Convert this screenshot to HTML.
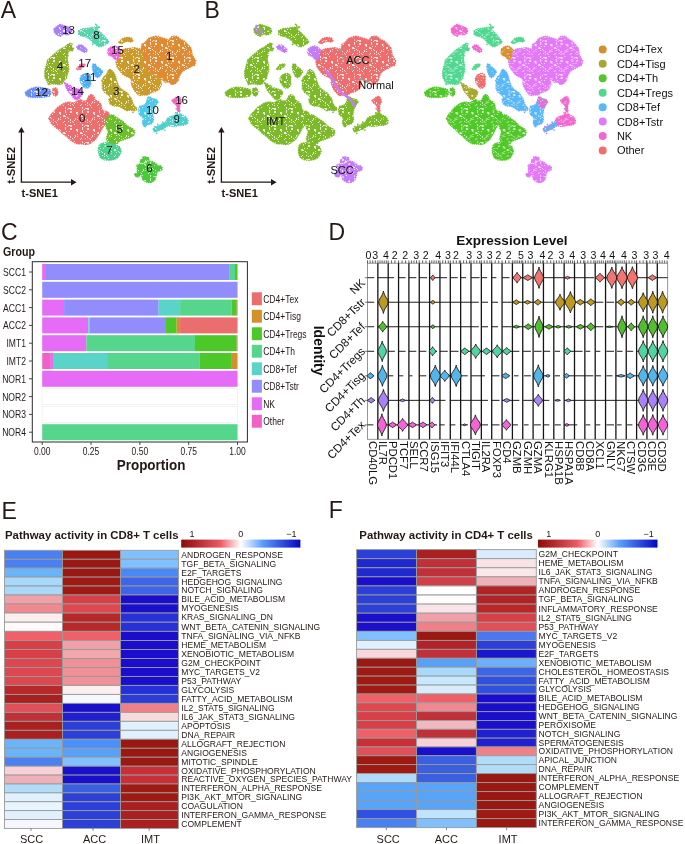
<!DOCTYPE html>
<html><head><meta charset="utf-8"><style>
html,body{margin:0;padding:0;background:#fff;}
body{width:685px;height:844px;overflow:hidden;}
svg{display:block;font-family:'Liberation Sans',sans-serif;will-change:transform;}
text{font-family:'Liberation Sans',sans-serif;}
</style></head><body>
<svg width="685" height="844" viewBox="0 0 685 844">
<rect width="685" height="844" fill="#FFFFFF"/>
<text x="0.80" y="18.10" font-size="23" text-anchor="start" fill="#231815" >A</text>
<text x="204.60" y="17.70" font-size="23" text-anchor="start" fill="#231815" >B</text>
<text x="0.90" y="239.50" font-size="23" text-anchor="start" fill="#231815" >C</text>
<text x="328.50" y="239.80" font-size="23" text-anchor="start" fill="#231815" >D</text>
<text x="1.60" y="518.60" font-size="23" text-anchor="start" fill="#231815" >E</text>
<text x="328.80" y="518.20" font-size="23" text-anchor="start" fill="#231815" >F</text>
<text x="5.00" y="538.80" font-size="10.5" text-anchor="start" font-weight="bold" fill="#231815" textLength="173.5" lengthAdjust="spacingAndGlyphs" >Pathway activity in CD8+ T cells</text>
<defs><linearGradient id="g4" x1="0" x2="1" y1="0" y2="0"><stop offset="0" stop-color="#8C0A0A"/><stop offset="0.33" stop-color="#EE5A64"/><stop offset="0.5" stop-color="#FFFFFF"/><stop offset="0.68" stop-color="#5CA0FA"/><stop offset="1" stop-color="#0606C0"/></linearGradient></defs>
<rect x="181.2" y="539.6" width="119.2" height="8" fill="url(#g4)"/>
<text x="191.93" y="536.60" font-size="9" text-anchor="middle" fill="#231815" >1</text>
<text x="240.80" y="536.60" font-size="9" text-anchor="middle" fill="#231815" >0</text>
<text x="291.46" y="536.60" font-size="9" text-anchor="middle" fill="#231815" >−1</text>
<rect x="4.50" y="550.30" width="57.97" height="8.93" fill="#4A80F0" stroke="#9A9A9A" stroke-width="0.9"/>
<rect x="62.47" y="550.30" width="57.97" height="8.93" fill="#9A1812" stroke="#9A9A9A" stroke-width="0.9"/>
<rect x="120.44" y="550.30" width="57.97" height="8.93" fill="#80C0FF" stroke="#9A9A9A" stroke-width="0.9"/>
<text x="181.30" y="557.70" font-size="8.56" text-anchor="start" fill="#231815" >ANDROGEN_RESPONSE</text>
<rect x="4.50" y="559.23" width="57.97" height="8.93" fill="#4A80F0" stroke="#9A9A9A" stroke-width="0.9"/>
<rect x="62.47" y="559.23" width="57.97" height="8.93" fill="#9A1812" stroke="#9A9A9A" stroke-width="0.9"/>
<rect x="120.44" y="559.23" width="57.97" height="8.93" fill="#80C0FF" stroke="#9A9A9A" stroke-width="0.9"/>
<text x="181.30" y="566.63" font-size="8.56" text-anchor="start" fill="#231815" >TGF_BETA_SIGNALING</text>
<rect x="4.50" y="568.17" width="57.97" height="8.93" fill="#6AB4FA" stroke="#9A9A9A" stroke-width="0.9"/>
<rect x="62.47" y="568.17" width="57.97" height="8.93" fill="#9A1812" stroke="#9A9A9A" stroke-width="0.9"/>
<rect x="120.44" y="568.17" width="57.97" height="8.93" fill="#4A88F8" stroke="#9A9A9A" stroke-width="0.9"/>
<text x="181.30" y="575.57" font-size="8.56" text-anchor="start" fill="#231815" >E2F_TARGETS</text>
<rect x="4.50" y="577.10" width="57.97" height="8.93" fill="#A8D8FA" stroke="#9A9A9A" stroke-width="0.9"/>
<rect x="62.47" y="577.10" width="57.97" height="8.93" fill="#9E1A14" stroke="#9A9A9A" stroke-width="0.9"/>
<rect x="120.44" y="577.10" width="57.97" height="8.93" fill="#3E64E8" stroke="#9A9A9A" stroke-width="0.9"/>
<text x="181.30" y="584.50" font-size="8.56" text-anchor="start" fill="#231815" >HEDGEHOG_SIGNALING</text>
<rect x="4.50" y="586.03" width="57.97" height="8.93" fill="#A8D8FA" stroke="#9A9A9A" stroke-width="0.9"/>
<rect x="62.47" y="586.03" width="57.97" height="8.93" fill="#9E1A14" stroke="#9A9A9A" stroke-width="0.9"/>
<rect x="120.44" y="586.03" width="57.97" height="8.93" fill="#3E64E8" stroke="#9A9A9A" stroke-width="0.9"/>
<text x="181.30" y="593.43" font-size="8.56" text-anchor="start" fill="#231815" >NOTCH_SIGNALING</text>
<rect x="4.50" y="594.97" width="57.97" height="8.93" fill="#F0A0A8" stroke="#9A9A9A" stroke-width="0.9"/>
<rect x="62.47" y="594.97" width="57.97" height="8.93" fill="#D84048" stroke="#9A9A9A" stroke-width="0.9"/>
<rect x="120.44" y="594.97" width="57.97" height="8.93" fill="#1A0ECC" stroke="#9A9A9A" stroke-width="0.9"/>
<text x="181.30" y="602.37" font-size="8.56" text-anchor="start" fill="#231815" >BILE_ACID_METABOLISM</text>
<rect x="4.50" y="603.90" width="57.97" height="9.15" fill="#F08890" stroke="#9A9A9A" stroke-width="0.9"/>
<rect x="62.47" y="603.90" width="57.97" height="9.15" fill="#E04850" stroke="#9A9A9A" stroke-width="0.9"/>
<rect x="120.44" y="603.90" width="57.97" height="9.15" fill="#1A10CC" stroke="#9A9A9A" stroke-width="0.9"/>
<text x="181.30" y="611.30" font-size="8.56" text-anchor="start" fill="#231815" >MYOGENESIS</text>
<rect x="4.50" y="613.05" width="57.97" height="9.15" fill="#FAEEEE" stroke="#9A9A9A" stroke-width="0.9"/>
<rect x="62.47" y="613.05" width="57.97" height="9.15" fill="#B8282A" stroke="#9A9A9A" stroke-width="0.9"/>
<rect x="120.44" y="613.05" width="57.97" height="9.15" fill="#2830D8" stroke="#9A9A9A" stroke-width="0.9"/>
<text x="181.30" y="620.45" font-size="8.56" text-anchor="start" fill="#231815" >KRAS_SIGNALING_DN</text>
<rect x="4.50" y="622.20" width="57.97" height="9.15" fill="#FEFAFA" stroke="#9A9A9A" stroke-width="0.9"/>
<rect x="62.47" y="622.20" width="57.97" height="9.15" fill="#B82828" stroke="#9A9A9A" stroke-width="0.9"/>
<rect x="120.44" y="622.20" width="57.97" height="9.15" fill="#2830D8" stroke="#9A9A9A" stroke-width="0.9"/>
<text x="181.30" y="629.60" font-size="8.56" text-anchor="start" fill="#231815" >WNT_BETA_CATENIN_SIGNALING</text>
<rect x="4.50" y="631.35" width="57.97" height="9.15" fill="#F06068" stroke="#9A9A9A" stroke-width="0.9"/>
<rect x="62.47" y="631.35" width="57.97" height="9.15" fill="#F06068" stroke="#9A9A9A" stroke-width="0.9"/>
<rect x="120.44" y="631.35" width="57.97" height="9.15" fill="#1A0ECC" stroke="#9A9A9A" stroke-width="0.9"/>
<text x="181.30" y="638.75" font-size="8.56" text-anchor="start" fill="#231815" >TNFA_SIGNALING_VIA_NFKB</text>
<rect x="4.50" y="640.50" width="57.97" height="8.98" fill="#D84048" stroke="#9A9A9A" stroke-width="0.9"/>
<rect x="62.47" y="640.50" width="57.97" height="8.98" fill="#F0A0A8" stroke="#9A9A9A" stroke-width="0.9"/>
<rect x="120.44" y="640.50" width="57.97" height="8.98" fill="#1A0ECC" stroke="#9A9A9A" stroke-width="0.9"/>
<text x="181.30" y="647.90" font-size="8.56" text-anchor="start" fill="#231815" >HEME_METABOLISM</text>
<rect x="4.50" y="649.48" width="57.97" height="8.98" fill="#D84048" stroke="#9A9A9A" stroke-width="0.9"/>
<rect x="62.47" y="649.48" width="57.97" height="8.98" fill="#F0A8AC" stroke="#9A9A9A" stroke-width="0.9"/>
<rect x="120.44" y="649.48" width="57.97" height="8.98" fill="#1A0ECC" stroke="#9A9A9A" stroke-width="0.9"/>
<text x="181.30" y="656.88" font-size="8.56" text-anchor="start" fill="#231815" >XENOBIOTIC_METABOLISM</text>
<rect x="4.50" y="658.47" width="57.97" height="8.98" fill="#DC4850" stroke="#9A9A9A" stroke-width="0.9"/>
<rect x="62.47" y="658.47" width="57.97" height="8.98" fill="#F09098" stroke="#9A9A9A" stroke-width="0.9"/>
<rect x="120.44" y="658.47" width="57.97" height="8.98" fill="#1A0ECC" stroke="#9A9A9A" stroke-width="0.9"/>
<text x="181.30" y="665.87" font-size="8.56" text-anchor="start" fill="#231815" >G2M_CHECKPOINT</text>
<rect x="4.50" y="667.45" width="57.97" height="8.98" fill="#DC4850" stroke="#9A9A9A" stroke-width="0.9"/>
<rect x="62.47" y="667.45" width="57.97" height="8.98" fill="#F09098" stroke="#9A9A9A" stroke-width="0.9"/>
<rect x="120.44" y="667.45" width="57.97" height="8.98" fill="#1A0ECC" stroke="#9A9A9A" stroke-width="0.9"/>
<text x="181.30" y="674.85" font-size="8.56" text-anchor="start" fill="#231815" >MYC_TARGETS_V2</text>
<rect x="4.50" y="676.43" width="57.97" height="8.98" fill="#DC4850" stroke="#9A9A9A" stroke-width="0.9"/>
<rect x="62.47" y="676.43" width="57.97" height="8.98" fill="#F09098" stroke="#9A9A9A" stroke-width="0.9"/>
<rect x="120.44" y="676.43" width="57.97" height="8.98" fill="#1A10CC" stroke="#9A9A9A" stroke-width="0.9"/>
<text x="181.30" y="683.83" font-size="8.56" text-anchor="start" fill="#231815" >P53_PATHWAY</text>
<rect x="4.50" y="685.42" width="57.97" height="8.98" fill="#B82828" stroke="#9A9A9A" stroke-width="0.9"/>
<rect x="62.47" y="685.42" width="57.97" height="8.98" fill="#FAF0F0" stroke="#9A9A9A" stroke-width="0.9"/>
<rect x="120.44" y="685.42" width="57.97" height="8.98" fill="#2430D8" stroke="#9A9A9A" stroke-width="0.9"/>
<text x="181.30" y="692.82" font-size="8.56" text-anchor="start" fill="#231815" >GLYCOLYSIS</text>
<rect x="4.50" y="694.40" width="57.97" height="8.98" fill="#A82020" stroke="#9A9A9A" stroke-width="0.9"/>
<rect x="62.47" y="694.40" width="57.97" height="8.98" fill="#F5F8FE" stroke="#9A9A9A" stroke-width="0.9"/>
<rect x="120.44" y="694.40" width="57.97" height="8.98" fill="#2C3CD8" stroke="#9A9A9A" stroke-width="0.9"/>
<text x="181.30" y="701.80" font-size="8.56" text-anchor="start" fill="#231815" >FATTY_ACID_METABOLISM</text>
<rect x="4.50" y="703.38" width="57.97" height="8.98" fill="#E05058" stroke="#9A9A9A" stroke-width="0.9"/>
<rect x="62.47" y="703.38" width="57.97" height="8.98" fill="#1A10CC" stroke="#9A9A9A" stroke-width="0.9"/>
<rect x="120.44" y="703.38" width="57.97" height="8.98" fill="#F08088" stroke="#9A9A9A" stroke-width="0.9"/>
<text x="181.30" y="710.77" font-size="8.56" text-anchor="start" fill="#231815" >IL2_STAT5_SIGNALING</text>
<rect x="4.50" y="712.35" width="57.97" height="8.98" fill="#C03038" stroke="#9A9A9A" stroke-width="0.9"/>
<rect x="62.47" y="712.35" width="57.97" height="8.98" fill="#2020D0" stroke="#9A9A9A" stroke-width="0.9"/>
<rect x="120.44" y="712.35" width="57.97" height="8.98" fill="#F8DCDC" stroke="#9A9A9A" stroke-width="0.9"/>
<text x="181.30" y="719.75" font-size="8.56" text-anchor="start" fill="#231815" >IL6_JAK_STAT3_SIGNALING</text>
<rect x="4.50" y="721.33" width="57.97" height="8.97" fill="#A82020" stroke="#9A9A9A" stroke-width="0.9"/>
<rect x="62.47" y="721.33" width="57.97" height="8.97" fill="#2C40D8" stroke="#9A9A9A" stroke-width="0.9"/>
<rect x="120.44" y="721.33" width="57.97" height="8.97" fill="#E0F0FE" stroke="#9A9A9A" stroke-width="0.9"/>
<text x="181.30" y="728.73" font-size="8.56" text-anchor="start" fill="#231815" >APOPTOSIS</text>
<rect x="4.50" y="730.30" width="57.97" height="8.98" fill="#A82020" stroke="#9A9A9A" stroke-width="0.9"/>
<rect x="62.47" y="730.30" width="57.97" height="8.98" fill="#2C40D8" stroke="#9A9A9A" stroke-width="0.9"/>
<rect x="120.44" y="730.30" width="57.97" height="8.98" fill="#E0F0FE" stroke="#9A9A9A" stroke-width="0.9"/>
<text x="181.30" y="737.70" font-size="8.56" text-anchor="start" fill="#231815" >DNA_REPAIR</text>
<rect x="4.50" y="739.27" width="57.97" height="8.98" fill="#6AB4FA" stroke="#9A9A9A" stroke-width="0.9"/>
<rect x="62.47" y="739.27" width="57.97" height="8.98" fill="#4A90F8" stroke="#9A9A9A" stroke-width="0.9"/>
<rect x="120.44" y="739.27" width="57.97" height="8.98" fill="#9A1812" stroke="#9A9A9A" stroke-width="0.9"/>
<text x="181.30" y="746.67" font-size="8.56" text-anchor="start" fill="#231815" >ALLOGRAFT_REJECTION</text>
<rect x="4.50" y="748.25" width="57.97" height="8.98" fill="#6AB4FA" stroke="#9A9A9A" stroke-width="0.9"/>
<rect x="62.47" y="748.25" width="57.97" height="8.98" fill="#58A0F8" stroke="#9A9A9A" stroke-width="0.9"/>
<rect x="120.44" y="748.25" width="57.97" height="8.98" fill="#9A1812" stroke="#9A9A9A" stroke-width="0.9"/>
<text x="181.30" y="755.65" font-size="8.56" text-anchor="start" fill="#231815" >ANGIOGENESIS</text>
<rect x="4.50" y="757.23" width="57.97" height="8.98" fill="#4A80F0" stroke="#9A9A9A" stroke-width="0.9"/>
<rect x="62.47" y="757.23" width="57.97" height="8.98" fill="#80C0FF" stroke="#9A9A9A" stroke-width="0.9"/>
<rect x="120.44" y="757.23" width="57.97" height="8.98" fill="#9A1812" stroke="#9A9A9A" stroke-width="0.9"/>
<text x="181.30" y="764.62" font-size="8.56" text-anchor="start" fill="#231815" >MITOTIC_SPINDLE</text>
<rect x="4.50" y="766.20" width="57.97" height="8.89" fill="#F8D0D8" stroke="#9A9A9A" stroke-width="0.9"/>
<rect x="62.47" y="766.20" width="57.97" height="8.89" fill="#1A10CC" stroke="#9A9A9A" stroke-width="0.9"/>
<rect x="120.44" y="766.20" width="57.97" height="8.89" fill="#C83038" stroke="#9A9A9A" stroke-width="0.9"/>
<text x="181.30" y="773.60" font-size="8.56" text-anchor="start" fill="#231815" >OXIDATIVE_PHOSPHORYLATION</text>
<rect x="4.50" y="775.09" width="57.97" height="8.89" fill="#F0B0B8" stroke="#9A9A9A" stroke-width="0.9"/>
<rect x="62.47" y="775.09" width="57.97" height="8.89" fill="#1A10CC" stroke="#9A9A9A" stroke-width="0.9"/>
<rect x="120.44" y="775.09" width="57.97" height="8.89" fill="#C83038" stroke="#9A9A9A" stroke-width="0.9"/>
<text x="181.30" y="782.49" font-size="8.56" text-anchor="start" fill="#231815" >REACTIVE_OXYGEN_SPECIES_PATHWAY</text>
<rect x="4.50" y="783.97" width="57.97" height="8.89" fill="#B0DCFA" stroke="#9A9A9A" stroke-width="0.9"/>
<rect x="62.47" y="783.97" width="57.97" height="8.89" fill="#3860E0" stroke="#9A9A9A" stroke-width="0.9"/>
<rect x="120.44" y="783.97" width="57.97" height="8.89" fill="#A01A14" stroke="#9A9A9A" stroke-width="0.9"/>
<text x="181.30" y="791.37" font-size="8.56" text-anchor="start" fill="#231815" >INTERFERON_ALPHA_RESPONSE</text>
<rect x="4.50" y="792.86" width="57.97" height="8.89" fill="#E0F0FE" stroke="#9A9A9A" stroke-width="0.9"/>
<rect x="62.47" y="792.86" width="57.97" height="8.89" fill="#2C40D8" stroke="#9A9A9A" stroke-width="0.9"/>
<rect x="120.44" y="792.86" width="57.97" height="8.89" fill="#A01A14" stroke="#9A9A9A" stroke-width="0.9"/>
<text x="181.30" y="800.26" font-size="8.56" text-anchor="start" fill="#231815" >PI3K_AKT_MTOR_SIGNALING</text>
<rect x="4.50" y="801.74" width="57.97" height="8.89" fill="#E8F4FE" stroke="#9A9A9A" stroke-width="0.9"/>
<rect x="62.47" y="801.74" width="57.97" height="8.89" fill="#2C40D8" stroke="#9A9A9A" stroke-width="0.9"/>
<rect x="120.44" y="801.74" width="57.97" height="8.89" fill="#A82020" stroke="#9A9A9A" stroke-width="0.9"/>
<text x="181.30" y="809.14" font-size="8.56" text-anchor="start" fill="#231815" >COAGULATION</text>
<rect x="4.50" y="810.63" width="57.97" height="8.89" fill="#E0F0FE" stroke="#9A9A9A" stroke-width="0.9"/>
<rect x="62.47" y="810.63" width="57.97" height="8.89" fill="#2C40D8" stroke="#9A9A9A" stroke-width="0.9"/>
<rect x="120.44" y="810.63" width="57.97" height="8.89" fill="#A82020" stroke="#9A9A9A" stroke-width="0.9"/>
<text x="181.30" y="818.03" font-size="8.56" text-anchor="start" fill="#231815" >INTERFERON_GAMMA_RESPONSE</text>
<rect x="4.50" y="819.51" width="57.97" height="8.89" fill="#F4F8FE" stroke="#9A9A9A" stroke-width="0.9"/>
<rect x="62.47" y="819.51" width="57.97" height="8.89" fill="#2C40D8" stroke="#9A9A9A" stroke-width="0.9"/>
<rect x="120.44" y="819.51" width="57.97" height="8.89" fill="#A82020" stroke="#9A9A9A" stroke-width="0.9"/>
<text x="181.30" y="826.91" font-size="8.56" text-anchor="start" fill="#231815" >COMPLEMENT</text>
<line x1="31.00" y1="828.40" x2="31.00" y2="830.90" stroke="#666" stroke-width="0.8"/>
<text x="31.50" y="842.50" font-size="11" text-anchor="middle" fill="#231815" >SCC</text>
<line x1="93.00" y1="828.40" x2="93.00" y2="830.90" stroke="#666" stroke-width="0.8"/>
<text x="94.60" y="842.50" font-size="11" text-anchor="middle" fill="#231815" >ACC</text>
<line x1="149.20" y1="828.40" x2="149.20" y2="830.90" stroke="#666" stroke-width="0.8"/>
<text x="150.40" y="842.50" font-size="11" text-anchor="middle" fill="#231815" >IMT</text>
<text x="359.30" y="538.80" font-size="10.5" text-anchor="start" font-weight="bold" fill="#231815" textLength="173.6" lengthAdjust="spacingAndGlyphs" >Pathway activity in CD4+ T cells</text>
<defs><linearGradient id="g356" x1="0" x2="1" y1="0" y2="0"><stop offset="0" stop-color="#8C0A0A"/><stop offset="0.33" stop-color="#EE5A64"/><stop offset="0.5" stop-color="#FFFFFF"/><stop offset="0.68" stop-color="#5CA0FA"/><stop offset="1" stop-color="#0606C0"/></linearGradient></defs>
<rect x="538.0" y="539.6" width="119.5" height="8" fill="url(#g356)"/>
<text x="548.75" y="536.60" font-size="9" text-anchor="middle" fill="#231815" >1</text>
<text x="597.75" y="536.60" font-size="9" text-anchor="middle" fill="#231815" >0</text>
<text x="648.54" y="536.60" font-size="9" text-anchor="middle" fill="#231815" >−1</text>
<rect x="356.60" y="549.60" width="59.90" height="9.08" fill="#2C40D8" stroke="#9A9A9A" stroke-width="0.9"/>
<rect x="416.50" y="549.60" width="59.90" height="9.08" fill="#A82020" stroke="#9A9A9A" stroke-width="0.9"/>
<rect x="476.40" y="549.60" width="59.90" height="9.08" fill="#D8ECFE" stroke="#9A9A9A" stroke-width="0.9"/>
<text x="538.60" y="557.00" font-size="8.56" text-anchor="start" fill="#231815" >G2M_CHECKPOINT</text>
<rect x="356.60" y="558.68" width="59.90" height="9.08" fill="#2028D0" stroke="#9A9A9A" stroke-width="0.9"/>
<rect x="416.50" y="558.68" width="59.90" height="9.08" fill="#C03038" stroke="#9A9A9A" stroke-width="0.9"/>
<rect x="476.40" y="558.68" width="59.90" height="9.08" fill="#F8E4E6" stroke="#9A9A9A" stroke-width="0.9"/>
<text x="538.60" y="566.08" font-size="8.56" text-anchor="start" fill="#231815" >HEME_METABOLISM</text>
<rect x="356.60" y="567.77" width="59.90" height="9.08" fill="#2028D0" stroke="#9A9A9A" stroke-width="0.9"/>
<rect x="416.50" y="567.77" width="59.90" height="9.08" fill="#C03038" stroke="#9A9A9A" stroke-width="0.9"/>
<rect x="476.40" y="567.77" width="59.90" height="9.08" fill="#F8E8EA" stroke="#9A9A9A" stroke-width="0.9"/>
<text x="538.60" y="575.17" font-size="8.56" text-anchor="start" fill="#231815" >IL6_JAK_STAT3_SIGNALING</text>
<rect x="356.60" y="576.85" width="59.90" height="9.08" fill="#1A10CC" stroke="#9A9A9A" stroke-width="0.9"/>
<rect x="416.50" y="576.85" width="59.90" height="9.08" fill="#D04048" stroke="#9A9A9A" stroke-width="0.9"/>
<rect x="476.40" y="576.85" width="59.90" height="9.08" fill="#F0B0B8" stroke="#9A9A9A" stroke-width="0.9"/>
<text x="538.60" y="584.25" font-size="8.56" text-anchor="start" fill="#231815" >TNFA_SIGNALING_VIA_NFKB</text>
<rect x="356.60" y="585.93" width="59.90" height="9.08" fill="#2C40D8" stroke="#9A9A9A" stroke-width="0.9"/>
<rect x="416.50" y="585.93" width="59.90" height="9.08" fill="#FFFFFF" stroke="#9A9A9A" stroke-width="0.9"/>
<rect x="476.40" y="585.93" width="59.90" height="9.08" fill="#B02428" stroke="#9A9A9A" stroke-width="0.9"/>
<text x="538.60" y="593.33" font-size="8.56" text-anchor="start" fill="#231815" >ANDROGEN_RESPONSE</text>
<rect x="356.60" y="595.02" width="59.90" height="9.08" fill="#2C40D8" stroke="#9A9A9A" stroke-width="0.9"/>
<rect x="416.50" y="595.02" width="59.90" height="9.08" fill="#FEFCFC" stroke="#9A9A9A" stroke-width="0.9"/>
<rect x="476.40" y="595.02" width="59.90" height="9.08" fill="#B02428" stroke="#9A9A9A" stroke-width="0.9"/>
<text x="538.60" y="602.42" font-size="8.56" text-anchor="start" fill="#231815" >TGF_BETA_SIGNALING</text>
<rect x="356.60" y="604.10" width="59.90" height="9.07" fill="#2C40D8" stroke="#9A9A9A" stroke-width="0.9"/>
<rect x="416.50" y="604.10" width="59.90" height="9.07" fill="#F8E4E6" stroke="#9A9A9A" stroke-width="0.9"/>
<rect x="476.40" y="604.10" width="59.90" height="9.07" fill="#B82828" stroke="#9A9A9A" stroke-width="0.9"/>
<text x="538.60" y="611.50" font-size="8.56" text-anchor="start" fill="#231815" >INFLAMMATORY_RESPONSE</text>
<rect x="356.60" y="613.17" width="59.90" height="9.08" fill="#1A10CC" stroke="#9A9A9A" stroke-width="0.9"/>
<rect x="416.50" y="613.17" width="59.90" height="9.08" fill="#F0A0A8" stroke="#9A9A9A" stroke-width="0.9"/>
<rect x="476.40" y="613.17" width="59.90" height="9.08" fill="#D84048" stroke="#9A9A9A" stroke-width="0.9"/>
<text x="538.60" y="620.57" font-size="8.56" text-anchor="start" fill="#231815" >IL2_STAT5_SIGNALING</text>
<rect x="356.60" y="622.25" width="59.90" height="9.08" fill="#1A10CC" stroke="#9A9A9A" stroke-width="0.9"/>
<rect x="416.50" y="622.25" width="59.90" height="9.08" fill="#F08088" stroke="#9A9A9A" stroke-width="0.9"/>
<rect x="476.40" y="622.25" width="59.90" height="9.08" fill="#E05058" stroke="#9A9A9A" stroke-width="0.9"/>
<text x="538.60" y="629.65" font-size="8.56" text-anchor="start" fill="#231815" >P53_PATHWAY</text>
<rect x="356.60" y="631.33" width="59.90" height="9.07" fill="#80C0FF" stroke="#9A9A9A" stroke-width="0.9"/>
<rect x="416.50" y="631.33" width="59.90" height="9.07" fill="#9A1812" stroke="#9A9A9A" stroke-width="0.9"/>
<rect x="476.40" y="631.33" width="59.90" height="9.07" fill="#4A78F0" stroke="#9A9A9A" stroke-width="0.9"/>
<text x="538.60" y="638.73" font-size="8.56" text-anchor="start" fill="#231815" >MYC_TARGETS_V2</text>
<rect x="356.60" y="640.40" width="59.90" height="8.93" fill="#E0F0FE" stroke="#9A9A9A" stroke-width="0.9"/>
<rect x="416.50" y="640.40" width="59.90" height="8.93" fill="#B02428" stroke="#9A9A9A" stroke-width="0.9"/>
<rect x="476.40" y="640.40" width="59.90" height="8.93" fill="#2C40D8" stroke="#9A9A9A" stroke-width="0.9"/>
<text x="538.60" y="647.80" font-size="8.56" text-anchor="start" fill="#231815" >MYOGENESIS</text>
<rect x="356.60" y="649.33" width="59.90" height="8.93" fill="#F8D8DC" stroke="#9A9A9A" stroke-width="0.9"/>
<rect x="416.50" y="649.33" width="59.90" height="8.93" fill="#C03038" stroke="#9A9A9A" stroke-width="0.9"/>
<rect x="476.40" y="649.33" width="59.90" height="8.93" fill="#1A18CC" stroke="#9A9A9A" stroke-width="0.9"/>
<text x="538.60" y="656.73" font-size="8.56" text-anchor="start" fill="#231815" >E2F_TARGETS</text>
<rect x="356.60" y="658.27" width="59.90" height="8.93" fill="#9A1812" stroke="#9A9A9A" stroke-width="0.9"/>
<rect x="416.50" y="658.27" width="59.90" height="8.93" fill="#58A0F8" stroke="#9A9A9A" stroke-width="0.9"/>
<rect x="476.40" y="658.27" width="59.90" height="8.93" fill="#6AB0FA" stroke="#9A9A9A" stroke-width="0.9"/>
<text x="538.60" y="665.67" font-size="8.56" text-anchor="start" fill="#231815" >XENOBIOTIC_METABOLISM</text>
<rect x="356.60" y="667.20" width="59.90" height="8.93" fill="#A01A14" stroke="#9A9A9A" stroke-width="0.9"/>
<rect x="416.50" y="667.20" width="59.90" height="8.93" fill="#A8D8FA" stroke="#9A9A9A" stroke-width="0.9"/>
<rect x="476.40" y="667.20" width="59.90" height="8.93" fill="#3E64E8" stroke="#9A9A9A" stroke-width="0.9"/>
<text x="538.60" y="674.60" font-size="8.56" text-anchor="start" fill="#231815" >CHOLESTEROL_HOMEOSTASIS</text>
<rect x="356.60" y="676.13" width="59.90" height="8.93" fill="#A01A14" stroke="#9A9A9A" stroke-width="0.9"/>
<rect x="416.50" y="676.13" width="59.90" height="8.93" fill="#C8E8FE" stroke="#9A9A9A" stroke-width="0.9"/>
<rect x="476.40" y="676.13" width="59.90" height="8.93" fill="#3050E0" stroke="#9A9A9A" stroke-width="0.9"/>
<text x="538.60" y="683.53" font-size="8.56" text-anchor="start" fill="#231815" >FATTY_ACID_METABOLISM</text>
<rect x="356.60" y="685.07" width="59.90" height="8.93" fill="#A01A14" stroke="#9A9A9A" stroke-width="0.9"/>
<rect x="416.50" y="685.07" width="59.90" height="8.93" fill="#D8ECFE" stroke="#9A9A9A" stroke-width="0.9"/>
<rect x="476.40" y="685.07" width="59.90" height="8.93" fill="#3050E0" stroke="#9A9A9A" stroke-width="0.9"/>
<text x="538.60" y="692.47" font-size="8.56" text-anchor="start" fill="#231815" >GLYCOLYSIS</text>
<rect x="356.60" y="694.00" width="59.90" height="8.83" fill="#F06068" stroke="#9A9A9A" stroke-width="0.9"/>
<rect x="416.50" y="694.00" width="59.90" height="8.83" fill="#F06068" stroke="#9A9A9A" stroke-width="0.9"/>
<rect x="476.40" y="694.00" width="59.90" height="8.83" fill="#1A0ECC" stroke="#9A9A9A" stroke-width="0.9"/>
<text x="538.60" y="701.40" font-size="8.56" text-anchor="start" fill="#231815" >BILE_ACID_METABOLISM</text>
<rect x="356.60" y="702.83" width="59.90" height="8.82" fill="#E04850" stroke="#9A9A9A" stroke-width="0.9"/>
<rect x="416.50" y="702.83" width="59.90" height="8.82" fill="#F08890" stroke="#9A9A9A" stroke-width="0.9"/>
<rect x="476.40" y="702.83" width="59.90" height="8.82" fill="#1A10CC" stroke="#9A9A9A" stroke-width="0.9"/>
<text x="538.60" y="710.23" font-size="8.56" text-anchor="start" fill="#231815" >HEDGEHOG_SIGNALING</text>
<rect x="356.60" y="711.65" width="59.90" height="8.83" fill="#D84048" stroke="#9A9A9A" stroke-width="0.9"/>
<rect x="416.50" y="711.65" width="59.90" height="8.83" fill="#C03038" stroke="#9A9A9A" stroke-width="0.9"/>
<rect x="476.40" y="711.65" width="59.90" height="8.83" fill="#1A10CC" stroke="#9A9A9A" stroke-width="0.9"/>
<text x="538.60" y="719.05" font-size="8.56" text-anchor="start" fill="#231815" >WNT_BETA_CATENIN_SIGNALING</text>
<rect x="356.60" y="720.48" width="59.90" height="8.82" fill="#D84048" stroke="#9A9A9A" stroke-width="0.9"/>
<rect x="416.50" y="720.48" width="59.90" height="8.82" fill="#F0B8C0" stroke="#9A9A9A" stroke-width="0.9"/>
<rect x="476.40" y="720.48" width="59.90" height="8.82" fill="#1A10CC" stroke="#9A9A9A" stroke-width="0.9"/>
<text x="538.60" y="727.88" font-size="8.56" text-anchor="start" fill="#231815" >PEROXISOME</text>
<rect x="356.60" y="729.30" width="59.90" height="8.83" fill="#F06068" stroke="#9A9A9A" stroke-width="0.9"/>
<rect x="416.50" y="729.30" width="59.90" height="8.83" fill="#C03038" stroke="#9A9A9A" stroke-width="0.9"/>
<rect x="476.40" y="729.30" width="59.90" height="8.83" fill="#2020D0" stroke="#9A9A9A" stroke-width="0.9"/>
<text x="538.60" y="736.70" font-size="8.56" text-anchor="start" fill="#231815" >NOTCH_SIGNALING</text>
<rect x="356.60" y="738.12" width="59.90" height="8.83" fill="#C83038" stroke="#9A9A9A" stroke-width="0.9"/>
<rect x="416.50" y="738.12" width="59.90" height="8.83" fill="#F8D0D8" stroke="#9A9A9A" stroke-width="0.9"/>
<rect x="476.40" y="738.12" width="59.90" height="8.83" fill="#2020D0" stroke="#9A9A9A" stroke-width="0.9"/>
<text x="538.60" y="745.52" font-size="8.56" text-anchor="start" fill="#231815" >SPERMATOGENESIS</text>
<rect x="356.60" y="746.95" width="59.90" height="8.82" fill="#E05058" stroke="#9A9A9A" stroke-width="0.9"/>
<rect x="416.50" y="746.95" width="59.90" height="8.82" fill="#1A10CC" stroke="#9A9A9A" stroke-width="0.9"/>
<rect x="476.40" y="746.95" width="59.90" height="8.82" fill="#F08088" stroke="#9A9A9A" stroke-width="0.9"/>
<text x="538.60" y="754.35" font-size="8.56" text-anchor="start" fill="#231815" >OXIDATIVE_PHOSPHORYLATION</text>
<rect x="356.60" y="755.77" width="59.90" height="8.83" fill="#A01A14" stroke="#9A9A9A" stroke-width="0.9"/>
<rect x="416.50" y="755.77" width="59.90" height="8.83" fill="#3A60E0" stroke="#9A9A9A" stroke-width="0.9"/>
<rect x="476.40" y="755.77" width="59.90" height="8.83" fill="#B0DCFA" stroke="#9A9A9A" stroke-width="0.9"/>
<text x="538.60" y="763.17" font-size="8.56" text-anchor="start" fill="#231815" >APICAL_JUNCTION</text>
<rect x="356.60" y="764.60" width="59.90" height="9.00" fill="#A01A14" stroke="#9A9A9A" stroke-width="0.9"/>
<rect x="416.50" y="764.60" width="59.90" height="9.00" fill="#3A60E0" stroke="#9A9A9A" stroke-width="0.9"/>
<rect x="476.40" y="764.60" width="59.90" height="9.00" fill="#B0DCFA" stroke="#9A9A9A" stroke-width="0.9"/>
<text x="538.60" y="772.00" font-size="8.56" text-anchor="start" fill="#231815" >DNA_REPAIR</text>
<rect x="356.60" y="773.60" width="59.90" height="9.00" fill="#B0DCFA" stroke="#9A9A9A" stroke-width="0.9"/>
<rect x="416.50" y="773.60" width="59.90" height="9.00" fill="#3A60E0" stroke="#9A9A9A" stroke-width="0.9"/>
<rect x="476.40" y="773.60" width="59.90" height="9.00" fill="#9A1812" stroke="#9A9A9A" stroke-width="0.9"/>
<text x="538.60" y="781.00" font-size="8.56" text-anchor="start" fill="#231815" >INTERFERON_ALPHA_RESPONSE</text>
<rect x="356.60" y="782.60" width="59.90" height="9.00" fill="#58A4F8" stroke="#9A9A9A" stroke-width="0.9"/>
<rect x="416.50" y="782.60" width="59.90" height="9.00" fill="#58A4F8" stroke="#9A9A9A" stroke-width="0.9"/>
<rect x="476.40" y="782.60" width="59.90" height="9.00" fill="#9A1812" stroke="#9A9A9A" stroke-width="0.9"/>
<text x="538.60" y="790.00" font-size="8.56" text-anchor="start" fill="#231815" >COMPLEMENT</text>
<rect x="356.60" y="791.60" width="59.90" height="9.00" fill="#58A4F8" stroke="#9A9A9A" stroke-width="0.9"/>
<rect x="416.50" y="791.60" width="59.90" height="9.00" fill="#58A4F8" stroke="#9A9A9A" stroke-width="0.9"/>
<rect x="476.40" y="791.60" width="59.90" height="9.00" fill="#9A1812" stroke="#9A9A9A" stroke-width="0.9"/>
<text x="538.60" y="799.00" font-size="8.56" text-anchor="start" fill="#231815" >ALLOGRAFT_REJECTION</text>
<rect x="356.60" y="800.60" width="59.90" height="9.00" fill="#58A4F8" stroke="#9A9A9A" stroke-width="0.9"/>
<rect x="416.50" y="800.60" width="59.90" height="9.00" fill="#58A4F8" stroke="#9A9A9A" stroke-width="0.9"/>
<rect x="476.40" y="800.60" width="59.90" height="9.00" fill="#9A1812" stroke="#9A9A9A" stroke-width="0.9"/>
<text x="538.60" y="808.00" font-size="8.56" text-anchor="start" fill="#231815" >ANGIOGENESIS</text>
<rect x="356.60" y="809.60" width="59.90" height="9.00" fill="#3050E0" stroke="#9A9A9A" stroke-width="0.9"/>
<rect x="416.50" y="809.60" width="59.90" height="9.00" fill="#C0E4FE" stroke="#9A9A9A" stroke-width="0.9"/>
<rect x="476.40" y="809.60" width="59.90" height="9.00" fill="#A01A14" stroke="#9A9A9A" stroke-width="0.9"/>
<text x="538.60" y="817.00" font-size="8.56" text-anchor="start" fill="#231815" >PI3K_AKT_MTOR_SIGNALING</text>
<rect x="356.60" y="818.60" width="59.90" height="9.00" fill="#4A80F0" stroke="#9A9A9A" stroke-width="0.9"/>
<rect x="416.50" y="818.60" width="59.90" height="9.00" fill="#80C0FF" stroke="#9A9A9A" stroke-width="0.9"/>
<rect x="476.40" y="818.60" width="59.90" height="9.00" fill="#9A1812" stroke="#9A9A9A" stroke-width="0.9"/>
<text x="538.60" y="826.00" font-size="8.56" text-anchor="start" fill="#231815" >INTERFERON_GAMMA_RESPONSE</text>
<line x1="386.30" y1="827.60" x2="386.30" y2="830.10" stroke="#666" stroke-width="0.8"/>
<text x="388.20" y="842.50" font-size="11" text-anchor="middle" fill="#231815" >SCC</text>
<line x1="446.50" y1="827.60" x2="446.50" y2="830.10" stroke="#666" stroke-width="0.8"/>
<text x="446.40" y="842.50" font-size="11" text-anchor="middle" fill="#231815" >ACC</text>
<line x1="506.60" y1="827.60" x2="506.60" y2="830.10" stroke="#666" stroke-width="0.8"/>
<text x="508.10" y="842.50" font-size="11" text-anchor="middle" fill="#231815" >IMT</text>
<rect x="32.3" y="261.7" width="215.1" height="180.3" fill="#FFFFFF" stroke="#2A2A2A" stroke-width="1"/>
<rect x="42.20" y="264.00" width="3.76" height="16" fill="#E66BF6"/>
<rect x="45.91" y="264.00" width="183.24" height="16" fill="#928DFC"/>
<rect x="229.10" y="264.00" width="5.91" height="16" fill="#55D68C"/>
<rect x="234.96" y="264.00" width="2.59" height="16" fill="#4CC828"/>
<line x1="29" y1="272.00" x2="32.3" y2="272.00" stroke="#333" stroke-width="0.9"/>
<text x="26.00" y="276.00" font-size="11" text-anchor="end" fill="#231815" transform-origin="26 272.00" transform="scale(0.78,1)">SCC1</text>
<rect x="42.20" y="281.80" width="195.35" height="16" fill="#928DFC"/>
<line x1="29" y1="289.80" x2="32.3" y2="289.80" stroke="#333" stroke-width="0.9"/>
<text x="26.00" y="293.80" font-size="11" text-anchor="end" fill="#231815" transform-origin="26 289.80" transform="scale(0.78,1)">SCC2</text>
<rect x="42.20" y="299.60" width="21.92" height="16" fill="#E66BF6"/>
<rect x="64.07" y="299.60" width="94.58" height="16" fill="#928DFC"/>
<rect x="158.60" y="299.60" width="21.53" height="16" fill="#5AD4C8"/>
<rect x="180.08" y="299.60" width="51.61" height="16" fill="#55D68C"/>
<rect x="231.64" y="299.60" width="5.13" height="16" fill="#4CC828"/>
<rect x="236.72" y="299.60" width="0.83" height="16" fill="#EB6E6E"/>
<line x1="29" y1="307.60" x2="32.3" y2="307.60" stroke="#333" stroke-width="0.9"/>
<text x="26.00" y="311.60" font-size="11" text-anchor="end" fill="#231815" transform-origin="26 307.60" transform="scale(0.78,1)">ACC1</text>
<rect x="42.20" y="317.40" width="46.14" height="16" fill="#E66BF6"/>
<rect x="88.29" y="317.40" width="1.42" height="16" fill="#5AD4C8"/>
<rect x="89.66" y="317.40" width="76.41" height="16" fill="#928DFC"/>
<rect x="166.02" y="317.40" width="10.60" height="16" fill="#4CC828"/>
<rect x="176.57" y="317.40" width="3.57" height="16" fill="#D4902A"/>
<rect x="180.08" y="317.40" width="57.47" height="16" fill="#EB6E6E"/>
<line x1="29" y1="325.40" x2="32.3" y2="325.40" stroke="#333" stroke-width="0.9"/>
<text x="26.00" y="329.40" font-size="11" text-anchor="end" fill="#231815" transform-origin="26 325.40" transform="scale(0.78,1)">ACC2</text>
<rect x="42.20" y="335.20" width="44.19" height="16" fill="#E66BF6"/>
<rect x="86.34" y="335.20" width="108.64" height="16" fill="#55D68C"/>
<rect x="194.92" y="335.20" width="41.84" height="16" fill="#4CC828"/>
<rect x="236.72" y="335.20" width="0.83" height="16" fill="#EB6E6E"/>
<line x1="29" y1="343.20" x2="32.3" y2="343.20" stroke="#333" stroke-width="0.9"/>
<text x="26.00" y="347.20" font-size="11" text-anchor="end" fill="#231815" transform-origin="26 343.20" transform="scale(0.78,1)">IMT1</text>
<rect x="42.20" y="353.00" width="8.64" height="16" fill="#F261C8"/>
<rect x="50.79" y="353.00" width="2.20" height="16" fill="#E66BF6"/>
<rect x="52.94" y="353.00" width="54.15" height="16" fill="#5AD4C8"/>
<rect x="107.04" y="353.00" width="92.82" height="16" fill="#55D68C"/>
<rect x="199.81" y="353.00" width="31.30" height="16" fill="#4CC828"/>
<rect x="231.06" y="353.00" width="6.49" height="16" fill="#D4902A"/>
<line x1="29" y1="361.00" x2="32.3" y2="361.00" stroke="#333" stroke-width="0.9"/>
<text x="26.00" y="365.00" font-size="11" text-anchor="end" fill="#231815" transform-origin="26 361.00" transform="scale(0.78,1)">IMT2</text>
<rect x="42.20" y="370.80" width="195.35" height="16" fill="#E66BF6"/>
<line x1="29" y1="378.80" x2="32.3" y2="378.80" stroke="#333" stroke-width="0.9"/>
<text x="26.00" y="382.80" font-size="11" text-anchor="end" fill="#231815" transform-origin="26 378.80" transform="scale(0.78,1)">NOR1</text>
<rect x="42.2" y="388.60" width="195.30" height="16" fill="#FFFFFF" stroke="#EEEEEE" stroke-width="0.7"/>
<line x1="29" y1="396.60" x2="32.3" y2="396.60" stroke="#333" stroke-width="0.9"/>
<text x="26.00" y="400.60" font-size="11" text-anchor="end" fill="#231815" transform-origin="26 396.60" transform="scale(0.78,1)">NOR2</text>
<rect x="42.2" y="406.40" width="195.30" height="16" fill="#FFFFFF" stroke="#EEEEEE" stroke-width="0.7"/>
<line x1="29" y1="414.40" x2="32.3" y2="414.40" stroke="#333" stroke-width="0.9"/>
<text x="26.00" y="418.40" font-size="11" text-anchor="end" fill="#231815" transform-origin="26 414.40" transform="scale(0.78,1)">NOR3</text>
<rect x="42.20" y="424.20" width="195.35" height="16" fill="#55D68C"/>
<line x1="29" y1="432.20" x2="32.3" y2="432.20" stroke="#333" stroke-width="0.9"/>
<text x="26.00" y="436.20" font-size="11" text-anchor="end" fill="#231815" transform-origin="26 432.20" transform="scale(0.78,1)">NOR4</text>
<line x1="42.20" y1="442" x2="42.20" y2="445" stroke="#333" stroke-width="0.9"/>
<text x="42.20" y="455.20" font-size="10" text-anchor="middle" fill="#231815" textLength="16.5" lengthAdjust="spacingAndGlyphs" >0.00</text>
<line x1="91.03" y1="442" x2="91.03" y2="445" stroke="#333" stroke-width="0.9"/>
<text x="91.03" y="455.20" font-size="10" text-anchor="middle" fill="#231815" textLength="16.5" lengthAdjust="spacingAndGlyphs" >0.25</text>
<line x1="139.85" y1="442" x2="139.85" y2="445" stroke="#333" stroke-width="0.9"/>
<text x="139.85" y="455.20" font-size="10" text-anchor="middle" fill="#231815" textLength="16.5" lengthAdjust="spacingAndGlyphs" >0.50</text>
<line x1="188.68" y1="442" x2="188.68" y2="445" stroke="#333" stroke-width="0.9"/>
<text x="188.68" y="455.20" font-size="10" text-anchor="middle" fill="#231815" textLength="16.5" lengthAdjust="spacingAndGlyphs" >0.75</text>
<line x1="237.50" y1="442" x2="237.50" y2="445" stroke="#333" stroke-width="0.9"/>
<text x="237.50" y="455.20" font-size="10" text-anchor="middle" fill="#231815" textLength="16.5" lengthAdjust="spacingAndGlyphs" >1.00</text>
<text x="116.70" y="469.60" font-size="14.5" text-anchor="start" font-weight="bold" fill="#231815" textLength="68.8" lengthAdjust="spacingAndGlyphs" >Proportion</text>
<text x="3.10" y="255.50" font-size="12.5" text-anchor="start" font-weight="bold" fill="#231815" textLength="31.9" lengthAdjust="spacingAndGlyphs" >Group</text>
<rect x="251.8" y="292.30" width="10.1" height="12.9" fill="#EB6E6E"/>
<text x="263.20" y="302.90" font-size="11.2" text-anchor="start" fill="#231815" transform-origin="263.2 0" transform="scale(0.76,1)">CD4+Tex</text>
<rect x="251.8" y="309.80" width="10.1" height="12.9" fill="#D4902A"/>
<text x="263.20" y="320.40" font-size="11.2" text-anchor="start" fill="#231815" transform-origin="263.2 0" transform="scale(0.76,1)">CD4+Tisg</text>
<rect x="251.8" y="327.30" width="10.1" height="12.9" fill="#4CC828"/>
<text x="263.20" y="337.90" font-size="11.2" text-anchor="start" fill="#231815" transform-origin="263.2 0" transform="scale(0.76,1)">CD4+Tregs</text>
<rect x="251.8" y="344.80" width="10.1" height="12.9" fill="#55D68C"/>
<text x="263.20" y="355.40" font-size="11.2" text-anchor="start" fill="#231815" transform-origin="263.2 0" transform="scale(0.76,1)">CD4+Th</text>
<rect x="251.8" y="362.30" width="10.1" height="12.9" fill="#5AD4C8"/>
<text x="263.20" y="372.90" font-size="11.2" text-anchor="start" fill="#231815" transform-origin="263.2 0" transform="scale(0.76,1)">CD8+Tef</text>
<rect x="251.8" y="379.80" width="10.1" height="12.9" fill="#928DFC"/>
<text x="263.20" y="390.40" font-size="11.2" text-anchor="start" fill="#231815" transform-origin="263.2 0" transform="scale(0.76,1)">CD8+Tstr</text>
<rect x="251.8" y="397.30" width="10.1" height="12.9" fill="#E66BF6"/>
<text x="263.20" y="407.90" font-size="11.2" text-anchor="start" fill="#231815" transform-origin="263.2 0" transform="scale(0.76,1)">NK</text>
<rect x="251.8" y="414.80" width="10.1" height="12.9" fill="#F261C8"/>
<text x="263.20" y="425.40" font-size="11.2" text-anchor="start" fill="#231815" transform-origin="263.2 0" transform="scale(0.76,1)">Other</text>
<rect x="367.5" y="263.2" width="300.15" height="176.10" fill="none" stroke="#8A8A8A" stroke-width="0.9"/>
<line x1="367.50" y1="260.40" x2="367.50" y2="263.20" stroke="#222" stroke-width="0.7"/>
<line x1="370.10" y1="260.40" x2="370.10" y2="263.20" stroke="#222" stroke-width="0.7"/>
<line x1="372.70" y1="260.40" x2="372.70" y2="263.20" stroke="#222" stroke-width="0.7"/>
<line x1="375.30" y1="260.40" x2="375.30" y2="263.20" stroke="#222" stroke-width="0.7"/>
<text x="375.30" y="258.70" font-size="10.6" text-anchor="middle" fill="#111" >3</text>
<line x1="377.85" y1="260.40" x2="377.85" y2="263.20" stroke="#222" stroke-width="0.7"/>
<line x1="379.96" y1="260.40" x2="379.96" y2="263.20" stroke="#222" stroke-width="0.7"/>
<line x1="382.08" y1="260.40" x2="382.08" y2="263.20" stroke="#222" stroke-width="0.7"/>
<line x1="384.19" y1="260.40" x2="384.19" y2="263.20" stroke="#222" stroke-width="0.7"/>
<line x1="386.30" y1="260.40" x2="386.30" y2="263.20" stroke="#222" stroke-width="0.7"/>
<text x="386.00" y="258.70" font-size="10.6" text-anchor="middle" fill="#111" >4</text>
<line x1="388.20" y1="260.40" x2="388.20" y2="263.20" stroke="#222" stroke-width="0.7"/>
<line x1="391.55" y1="260.40" x2="391.55" y2="263.20" stroke="#222" stroke-width="0.7"/>
<line x1="394.90" y1="260.40" x2="394.90" y2="263.20" stroke="#222" stroke-width="0.7"/>
<text x="394.60" y="258.70" font-size="10.6" text-anchor="middle" fill="#111" >2</text>
<line x1="398.55" y1="260.40" x2="398.55" y2="263.20" stroke="#222" stroke-width="0.7"/>
<line x1="402.08" y1="260.40" x2="402.08" y2="263.20" stroke="#222" stroke-width="0.7"/>
<line x1="405.60" y1="260.40" x2="405.60" y2="263.20" stroke="#222" stroke-width="0.7"/>
<text x="405.30" y="258.70" font-size="10.6" text-anchor="middle" fill="#111" >2</text>
<line x1="408.90" y1="260.40" x2="408.90" y2="263.20" stroke="#222" stroke-width="0.7"/>
<line x1="411.43" y1="260.40" x2="411.43" y2="263.20" stroke="#222" stroke-width="0.7"/>
<line x1="413.97" y1="260.40" x2="413.97" y2="263.20" stroke="#222" stroke-width="0.7"/>
<line x1="416.50" y1="260.40" x2="416.50" y2="263.20" stroke="#222" stroke-width="0.7"/>
<text x="416.20" y="258.70" font-size="10.6" text-anchor="middle" fill="#111" >3</text>
<line x1="419.25" y1="260.40" x2="419.25" y2="263.20" stroke="#222" stroke-width="0.7"/>
<line x1="422.62" y1="260.40" x2="422.62" y2="263.20" stroke="#222" stroke-width="0.7"/>
<line x1="426.00" y1="260.40" x2="426.00" y2="263.20" stroke="#222" stroke-width="0.7"/>
<text x="425.70" y="258.70" font-size="10.6" text-anchor="middle" fill="#111" >2</text>
<line x1="429.60" y1="260.40" x2="429.60" y2="263.20" stroke="#222" stroke-width="0.7"/>
<line x1="431.80" y1="260.40" x2="431.80" y2="263.20" stroke="#222" stroke-width="0.7"/>
<line x1="434.00" y1="260.40" x2="434.00" y2="263.20" stroke="#222" stroke-width="0.7"/>
<line x1="436.20" y1="260.40" x2="436.20" y2="263.20" stroke="#222" stroke-width="0.7"/>
<line x1="438.40" y1="260.40" x2="438.40" y2="263.20" stroke="#222" stroke-width="0.7"/>
<text x="438.10" y="258.70" font-size="10.6" text-anchor="middle" fill="#111" >4</text>
<line x1="439.95" y1="260.40" x2="439.95" y2="263.20" stroke="#222" stroke-width="0.7"/>
<line x1="442.73" y1="260.40" x2="442.73" y2="263.20" stroke="#222" stroke-width="0.7"/>
<line x1="445.52" y1="260.40" x2="445.52" y2="263.20" stroke="#222" stroke-width="0.7"/>
<line x1="448.30" y1="260.40" x2="448.30" y2="263.20" stroke="#222" stroke-width="0.7"/>
<text x="448.00" y="258.70" font-size="10.6" text-anchor="middle" fill="#111" >3</text>
<line x1="450.30" y1="260.40" x2="450.30" y2="263.20" stroke="#222" stroke-width="0.7"/>
<line x1="453.30" y1="260.40" x2="453.30" y2="263.20" stroke="#222" stroke-width="0.7"/>
<line x1="456.30" y1="260.40" x2="456.30" y2="263.20" stroke="#222" stroke-width="0.7"/>
<line x1="459.30" y1="260.40" x2="459.30" y2="263.20" stroke="#222" stroke-width="0.7"/>
<text x="456.00" y="258.70" font-size="10.6" text-anchor="middle" fill="#111" >2</text>
<line x1="460.65" y1="260.40" x2="460.65" y2="263.20" stroke="#222" stroke-width="0.7"/>
<line x1="463.60" y1="260.40" x2="463.60" y2="263.20" stroke="#222" stroke-width="0.7"/>
<line x1="466.55" y1="260.40" x2="466.55" y2="263.20" stroke="#222" stroke-width="0.7"/>
<line x1="469.50" y1="260.40" x2="469.50" y2="263.20" stroke="#222" stroke-width="0.7"/>
<text x="469.20" y="258.70" font-size="10.6" text-anchor="middle" fill="#111" >3</text>
<line x1="471.00" y1="260.40" x2="471.00" y2="263.20" stroke="#222" stroke-width="0.7"/>
<line x1="473.90" y1="260.40" x2="473.90" y2="263.20" stroke="#222" stroke-width="0.7"/>
<line x1="476.80" y1="260.40" x2="476.80" y2="263.20" stroke="#222" stroke-width="0.7"/>
<line x1="479.70" y1="260.40" x2="479.70" y2="263.20" stroke="#222" stroke-width="0.7"/>
<text x="479.40" y="258.70" font-size="10.6" text-anchor="middle" fill="#111" >3</text>
<line x1="481.35" y1="260.40" x2="481.35" y2="263.20" stroke="#222" stroke-width="0.7"/>
<line x1="484.20" y1="260.40" x2="484.20" y2="263.20" stroke="#222" stroke-width="0.7"/>
<line x1="487.05" y1="260.40" x2="487.05" y2="263.20" stroke="#222" stroke-width="0.7"/>
<line x1="489.90" y1="260.40" x2="489.90" y2="263.20" stroke="#222" stroke-width="0.7"/>
<text x="489.60" y="258.70" font-size="10.6" text-anchor="middle" fill="#111" >3</text>
<line x1="491.70" y1="260.40" x2="491.70" y2="263.20" stroke="#222" stroke-width="0.7"/>
<line x1="495.20" y1="260.40" x2="495.20" y2="263.20" stroke="#222" stroke-width="0.7"/>
<line x1="498.70" y1="260.40" x2="498.70" y2="263.20" stroke="#222" stroke-width="0.7"/>
<text x="498.40" y="258.70" font-size="10.6" text-anchor="middle" fill="#111" >2</text>
<line x1="502.05" y1="260.40" x2="502.05" y2="263.20" stroke="#222" stroke-width="0.7"/>
<line x1="505.48" y1="260.40" x2="505.48" y2="263.20" stroke="#222" stroke-width="0.7"/>
<line x1="508.90" y1="260.40" x2="508.90" y2="263.20" stroke="#222" stroke-width="0.7"/>
<text x="508.60" y="258.70" font-size="10.6" text-anchor="middle" fill="#111" >2</text>
<line x1="512.40" y1="260.40" x2="512.40" y2="263.20" stroke="#222" stroke-width="0.7"/>
<line x1="514.18" y1="260.40" x2="514.18" y2="263.20" stroke="#222" stroke-width="0.7"/>
<line x1="515.96" y1="260.40" x2="515.96" y2="263.20" stroke="#222" stroke-width="0.7"/>
<line x1="517.74" y1="260.40" x2="517.74" y2="263.20" stroke="#222" stroke-width="0.7"/>
<line x1="519.52" y1="260.40" x2="519.52" y2="263.20" stroke="#222" stroke-width="0.7"/>
<line x1="521.30" y1="260.40" x2="521.30" y2="263.20" stroke="#222" stroke-width="0.7"/>
<text x="521.00" y="258.70" font-size="10.6" text-anchor="middle" fill="#111" >5</text>
<line x1="522.75" y1="260.40" x2="522.75" y2="263.20" stroke="#222" stroke-width="0.7"/>
<line x1="525.43" y1="260.40" x2="525.43" y2="263.20" stroke="#222" stroke-width="0.7"/>
<line x1="528.12" y1="260.40" x2="528.12" y2="263.20" stroke="#222" stroke-width="0.7"/>
<line x1="530.80" y1="260.40" x2="530.80" y2="263.20" stroke="#222" stroke-width="0.7"/>
<text x="530.50" y="258.70" font-size="10.6" text-anchor="middle" fill="#111" >3</text>
<line x1="533.10" y1="260.40" x2="533.10" y2="263.20" stroke="#222" stroke-width="0.7"/>
<line x1="535.50" y1="260.40" x2="535.50" y2="263.20" stroke="#222" stroke-width="0.7"/>
<line x1="537.90" y1="260.40" x2="537.90" y2="263.20" stroke="#222" stroke-width="0.7"/>
<line x1="540.30" y1="260.40" x2="540.30" y2="263.20" stroke="#222" stroke-width="0.7"/>
<line x1="542.70" y1="260.40" x2="542.70" y2="263.20" stroke="#222" stroke-width="0.7"/>
<text x="542.40" y="258.70" font-size="10.6" text-anchor="middle" fill="#111" >4</text>
<line x1="543.45" y1="260.40" x2="543.45" y2="263.20" stroke="#222" stroke-width="0.7"/>
<line x1="547.08" y1="260.40" x2="547.08" y2="263.20" stroke="#222" stroke-width="0.7"/>
<line x1="550.70" y1="260.40" x2="550.70" y2="263.20" stroke="#222" stroke-width="0.7"/>
<text x="550.40" y="258.70" font-size="10.6" text-anchor="middle" fill="#111" >2</text>
<line x1="553.80" y1="260.40" x2="553.80" y2="263.20" stroke="#222" stroke-width="0.7"/>
<line x1="556.43" y1="260.40" x2="556.43" y2="263.20" stroke="#222" stroke-width="0.7"/>
<line x1="559.07" y1="260.40" x2="559.07" y2="263.20" stroke="#222" stroke-width="0.7"/>
<line x1="561.70" y1="260.40" x2="561.70" y2="263.20" stroke="#222" stroke-width="0.7"/>
<text x="561.40" y="258.70" font-size="10.6" text-anchor="middle" fill="#111" >3</text>
<line x1="564.15" y1="260.40" x2="564.15" y2="263.20" stroke="#222" stroke-width="0.7"/>
<line x1="566.26" y1="260.40" x2="566.26" y2="263.20" stroke="#222" stroke-width="0.7"/>
<line x1="568.38" y1="260.40" x2="568.38" y2="263.20" stroke="#222" stroke-width="0.7"/>
<line x1="570.49" y1="260.40" x2="570.49" y2="263.20" stroke="#222" stroke-width="0.7"/>
<line x1="572.60" y1="260.40" x2="572.60" y2="263.20" stroke="#222" stroke-width="0.7"/>
<text x="572.30" y="258.70" font-size="10.6" text-anchor="middle" fill="#111" >4</text>
<line x1="574.50" y1="260.40" x2="574.50" y2="263.20" stroke="#222" stroke-width="0.7"/>
<line x1="577.53" y1="260.40" x2="577.53" y2="263.20" stroke="#222" stroke-width="0.7"/>
<line x1="580.57" y1="260.40" x2="580.57" y2="263.20" stroke="#222" stroke-width="0.7"/>
<line x1="583.60" y1="260.40" x2="583.60" y2="263.20" stroke="#222" stroke-width="0.7"/>
<text x="583.30" y="258.70" font-size="10.6" text-anchor="middle" fill="#111" >3</text>
<line x1="584.85" y1="260.40" x2="584.85" y2="263.20" stroke="#222" stroke-width="0.7"/>
<line x1="587.83" y1="260.40" x2="587.83" y2="263.20" stroke="#222" stroke-width="0.7"/>
<line x1="590.82" y1="260.40" x2="590.82" y2="263.20" stroke="#222" stroke-width="0.7"/>
<line x1="593.80" y1="260.40" x2="593.80" y2="263.20" stroke="#222" stroke-width="0.7"/>
<text x="593.50" y="258.70" font-size="10.6" text-anchor="middle" fill="#111" >3</text>
<line x1="595.20" y1="260.40" x2="595.20" y2="263.20" stroke="#222" stroke-width="0.7"/>
<line x1="597.23" y1="260.40" x2="597.23" y2="263.20" stroke="#222" stroke-width="0.7"/>
<line x1="599.25" y1="260.40" x2="599.25" y2="263.20" stroke="#222" stroke-width="0.7"/>
<line x1="601.27" y1="260.40" x2="601.27" y2="263.20" stroke="#222" stroke-width="0.7"/>
<line x1="603.30" y1="260.40" x2="603.30" y2="263.20" stroke="#222" stroke-width="0.7"/>
<text x="603.00" y="258.70" font-size="10.6" text-anchor="middle" fill="#111" >4</text>
<line x1="605.55" y1="260.40" x2="605.55" y2="263.20" stroke="#222" stroke-width="0.7"/>
<line x1="607.31" y1="260.40" x2="607.31" y2="263.20" stroke="#222" stroke-width="0.7"/>
<line x1="609.07" y1="260.40" x2="609.07" y2="263.20" stroke="#222" stroke-width="0.7"/>
<line x1="610.84" y1="260.40" x2="610.84" y2="263.20" stroke="#222" stroke-width="0.7"/>
<line x1="612.60" y1="260.40" x2="612.60" y2="263.20" stroke="#222" stroke-width="0.7"/>
<line x1="614.36" y1="260.40" x2="614.36" y2="263.20" stroke="#222" stroke-width="0.7"/>
<text x="612.30" y="258.70" font-size="10.6" text-anchor="middle" fill="#111" >4</text>
<line x1="615.90" y1="260.40" x2="615.90" y2="263.20" stroke="#222" stroke-width="0.7"/>
<line x1="618.00" y1="260.40" x2="618.00" y2="263.20" stroke="#222" stroke-width="0.7"/>
<line x1="620.10" y1="260.40" x2="620.10" y2="263.20" stroke="#222" stroke-width="0.7"/>
<line x1="622.20" y1="260.40" x2="622.20" y2="263.20" stroke="#222" stroke-width="0.7"/>
<line x1="624.30" y1="260.40" x2="624.30" y2="263.20" stroke="#222" stroke-width="0.7"/>
<text x="624.00" y="258.70" font-size="10.6" text-anchor="middle" fill="#111" >4</text>
<line x1="626.25" y1="260.40" x2="626.25" y2="263.20" stroke="#222" stroke-width="0.7"/>
<line x1="629.10" y1="260.40" x2="629.10" y2="263.20" stroke="#222" stroke-width="0.7"/>
<line x1="631.95" y1="260.40" x2="631.95" y2="263.20" stroke="#222" stroke-width="0.7"/>
<line x1="634.80" y1="260.40" x2="634.80" y2="263.20" stroke="#222" stroke-width="0.7"/>
<text x="634.50" y="258.70" font-size="10.6" text-anchor="middle" fill="#111" >3</text>
<line x1="636.60" y1="260.40" x2="636.60" y2="263.20" stroke="#222" stroke-width="0.7"/>
<line x1="639.87" y1="260.40" x2="639.87" y2="263.20" stroke="#222" stroke-width="0.7"/>
<line x1="643.13" y1="260.40" x2="643.13" y2="263.20" stroke="#222" stroke-width="0.7"/>
<line x1="646.40" y1="260.40" x2="646.40" y2="263.20" stroke="#222" stroke-width="0.7"/>
<text x="646.10" y="258.70" font-size="10.6" text-anchor="middle" fill="#111" >3</text>
<line x1="646.95" y1="260.40" x2="646.95" y2="263.20" stroke="#222" stroke-width="0.7"/>
<line x1="649.90" y1="260.40" x2="649.90" y2="263.20" stroke="#222" stroke-width="0.7"/>
<line x1="652.85" y1="260.40" x2="652.85" y2="263.20" stroke="#222" stroke-width="0.7"/>
<line x1="655.80" y1="260.40" x2="655.80" y2="263.20" stroke="#222" stroke-width="0.7"/>
<text x="655.50" y="258.70" font-size="10.6" text-anchor="middle" fill="#111" >3</text>
<line x1="657.30" y1="260.40" x2="657.30" y2="263.20" stroke="#222" stroke-width="0.7"/>
<line x1="659.75" y1="260.40" x2="659.75" y2="263.20" stroke="#222" stroke-width="0.7"/>
<line x1="662.20" y1="260.40" x2="662.20" y2="263.20" stroke="#222" stroke-width="0.7"/>
<line x1="664.65" y1="260.40" x2="664.65" y2="263.20" stroke="#222" stroke-width="0.7"/>
<line x1="667.10" y1="260.40" x2="667.10" y2="263.20" stroke="#222" stroke-width="0.7"/>
<text x="666.80" y="258.70" font-size="10.6" text-anchor="middle" fill="#111" >4</text>
<text x="368.40" y="258.70" font-size="10.6" text-anchor="middle" fill="#111" >0</text>
<line x1="367.50" y1="277.70" x2="374.20" y2="277.70" stroke="#1E1E1E" stroke-width="1.0"/>
<line x1="377.80" y1="277.70" x2="394.10" y2="277.70" stroke="#1E1E1E" stroke-width="1.0"/>
<line x1="398.50" y1="277.70" x2="405.60" y2="277.70" stroke="#1E1E1E" stroke-width="1.0"/>
<line x1="408.90" y1="277.70" x2="416.30" y2="277.70" stroke="#1E1E1E" stroke-width="1.0"/>
<line x1="419.30" y1="277.70" x2="427.10" y2="277.70" stroke="#1E1E1E" stroke-width="1.0"/>
<line x1="429.60" y1="277.70" x2="447.00" y2="277.70" stroke="#1E1E1E" stroke-width="1.0"/>
<line x1="450.30" y1="277.70" x2="457.70" y2="277.70" stroke="#1E1E1E" stroke-width="1.0"/>
<line x1="460.70" y1="277.70" x2="466.00" y2="277.70" stroke="#1E1E1E" stroke-width="1.0"/>
<line x1="471.00" y1="277.70" x2="479.60" y2="277.70" stroke="#1E1E1E" stroke-width="1.0"/>
<line x1="481.40" y1="277.70" x2="487.20" y2="277.70" stroke="#1E1E1E" stroke-width="1.0"/>
<line x1="491.80" y1="277.70" x2="496.40" y2="277.70" stroke="#1E1E1E" stroke-width="1.0"/>
<line x1="502.10" y1="277.70" x2="509.50" y2="277.70" stroke="#1E1E1E" stroke-width="1.0"/>
<line x1="512.40" y1="277.70" x2="594.10" y2="277.70" stroke="#1E1E1E" stroke-width="1.0"/>
<line x1="595.20" y1="277.70" x2="667.60" y2="277.70" stroke="#1E1E1E" stroke-width="1.0"/>
<line x1="367.50" y1="302.23" x2="374.20" y2="302.23" stroke="#1E1E1E" stroke-width="1.0"/>
<line x1="377.80" y1="302.23" x2="478.80" y2="302.23" stroke="#1E1E1E" stroke-width="1.0"/>
<line x1="481.40" y1="302.23" x2="488.00" y2="302.23" stroke="#1E1E1E" stroke-width="1.0"/>
<line x1="491.80" y1="302.23" x2="498.00" y2="302.23" stroke="#1E1E1E" stroke-width="1.0"/>
<line x1="502.10" y1="302.23" x2="511.70" y2="302.23" stroke="#1E1E1E" stroke-width="1.0"/>
<line x1="512.40" y1="302.23" x2="603.30" y2="302.23" stroke="#1E1E1E" stroke-width="1.0"/>
<line x1="606.40" y1="302.23" x2="614.00" y2="302.23" stroke="#1E1E1E" stroke-width="1.0"/>
<line x1="615.90" y1="302.23" x2="667.60" y2="302.23" stroke="#1E1E1E" stroke-width="1.0"/>
<line x1="367.50" y1="326.76" x2="374.20" y2="326.76" stroke="#1E1E1E" stroke-width="1.0"/>
<line x1="377.80" y1="326.76" x2="478.80" y2="326.76" stroke="#1E1E1E" stroke-width="1.0"/>
<line x1="481.40" y1="326.76" x2="488.00" y2="326.76" stroke="#1E1E1E" stroke-width="1.0"/>
<line x1="491.80" y1="326.76" x2="498.00" y2="326.76" stroke="#1E1E1E" stroke-width="1.0"/>
<line x1="502.10" y1="326.76" x2="511.70" y2="326.76" stroke="#1E1E1E" stroke-width="1.0"/>
<line x1="512.40" y1="326.76" x2="603.30" y2="326.76" stroke="#1E1E1E" stroke-width="1.0"/>
<line x1="606.40" y1="326.76" x2="615.60" y2="326.76" stroke="#1E1E1E" stroke-width="1.0"/>
<line x1="615.90" y1="326.76" x2="667.60" y2="326.76" stroke="#1E1E1E" stroke-width="1.0"/>
<line x1="367.50" y1="351.29" x2="374.20" y2="351.29" stroke="#1E1E1E" stroke-width="1.0"/>
<line x1="377.80" y1="351.29" x2="386.00" y2="351.29" stroke="#1E1E1E" stroke-width="1.0"/>
<line x1="388.20" y1="351.29" x2="394.90" y2="351.29" stroke="#1E1E1E" stroke-width="1.0"/>
<line x1="398.50" y1="351.29" x2="405.60" y2="351.29" stroke="#1E1E1E" stroke-width="1.0"/>
<line x1="408.90" y1="351.29" x2="416.30" y2="351.29" stroke="#1E1E1E" stroke-width="1.0"/>
<line x1="419.30" y1="351.29" x2="426.30" y2="351.29" stroke="#1E1E1E" stroke-width="1.0"/>
<line x1="429.60" y1="351.29" x2="437.00" y2="351.29" stroke="#1E1E1E" stroke-width="1.0"/>
<line x1="439.90" y1="351.29" x2="447.80" y2="351.29" stroke="#1E1E1E" stroke-width="1.0"/>
<line x1="449.80" y1="351.29" x2="458.50" y2="351.29" stroke="#1E1E1E" stroke-width="1.0"/>
<line x1="460.70" y1="351.29" x2="519.40" y2="351.29" stroke="#1E1E1E" stroke-width="1.0"/>
<line x1="523.20" y1="351.29" x2="530.90" y2="351.29" stroke="#1E1E1E" stroke-width="1.0"/>
<line x1="534.00" y1="351.29" x2="541.60" y2="351.29" stroke="#1E1E1E" stroke-width="1.0"/>
<line x1="543.90" y1="351.29" x2="550.10" y2="351.29" stroke="#1E1E1E" stroke-width="1.0"/>
<line x1="554.70" y1="351.29" x2="560.00" y2="351.29" stroke="#1E1E1E" stroke-width="1.0"/>
<line x1="564.20" y1="351.29" x2="582.60" y2="351.29" stroke="#1E1E1E" stroke-width="1.0"/>
<line x1="585.70" y1="351.29" x2="590.30" y2="351.29" stroke="#1E1E1E" stroke-width="1.0"/>
<line x1="595.70" y1="351.29" x2="600.30" y2="351.29" stroke="#1E1E1E" stroke-width="1.0"/>
<line x1="606.40" y1="351.29" x2="614.00" y2="351.29" stroke="#1E1E1E" stroke-width="1.0"/>
<line x1="617.10" y1="351.29" x2="622.50" y2="351.29" stroke="#1E1E1E" stroke-width="1.0"/>
<line x1="627.10" y1="351.29" x2="633.20" y2="351.29" stroke="#1E1E1E" stroke-width="1.0"/>
<line x1="636.60" y1="351.29" x2="667.60" y2="351.29" stroke="#1E1E1E" stroke-width="1.0"/>
<line x1="367.50" y1="375.82" x2="374.00" y2="375.82" stroke="#1E1E1E" stroke-width="1.0"/>
<line x1="377.80" y1="375.82" x2="386.00" y2="375.82" stroke="#1E1E1E" stroke-width="1.0"/>
<line x1="388.00" y1="375.82" x2="393.40" y2="375.82" stroke="#1E1E1E" stroke-width="1.0"/>
<line x1="398.70" y1="375.82" x2="403.30" y2="375.82" stroke="#1E1E1E" stroke-width="1.0"/>
<line x1="409.40" y1="375.82" x2="412.50" y2="375.82" stroke="#1E1E1E" stroke-width="1.0"/>
<line x1="419.40" y1="375.82" x2="426.30" y2="375.82" stroke="#1E1E1E" stroke-width="1.0"/>
<line x1="429.60" y1="375.82" x2="467.70" y2="375.82" stroke="#1E1E1E" stroke-width="1.0"/>
<line x1="471.10" y1="375.82" x2="484.90" y2="375.82" stroke="#1E1E1E" stroke-width="1.0"/>
<line x1="491.80" y1="375.82" x2="499.50" y2="375.82" stroke="#1E1E1E" stroke-width="1.0"/>
<line x1="502.10" y1="375.82" x2="509.50" y2="375.82" stroke="#1E1E1E" stroke-width="1.0"/>
<line x1="514.00" y1="375.82" x2="518.60" y2="375.82" stroke="#1E1E1E" stroke-width="1.0"/>
<line x1="524.00" y1="375.82" x2="530.90" y2="375.82" stroke="#1E1E1E" stroke-width="1.0"/>
<line x1="533.10" y1="375.82" x2="549.50" y2="375.82" stroke="#1E1E1E" stroke-width="1.0"/>
<line x1="554.70" y1="375.82" x2="560.00" y2="375.82" stroke="#1E1E1E" stroke-width="1.0"/>
<line x1="564.20" y1="375.82" x2="593.40" y2="375.82" stroke="#1E1E1E" stroke-width="1.0"/>
<line x1="595.70" y1="375.82" x2="601.00" y2="375.82" stroke="#1E1E1E" stroke-width="1.0"/>
<line x1="606.40" y1="375.82" x2="612.50" y2="375.82" stroke="#1E1E1E" stroke-width="1.0"/>
<line x1="615.90" y1="375.82" x2="624.80" y2="375.82" stroke="#1E1E1E" stroke-width="1.0"/>
<line x1="626.30" y1="375.82" x2="667.60" y2="375.82" stroke="#1E1E1E" stroke-width="1.0"/>
<line x1="367.50" y1="400.35" x2="375.00" y2="400.35" stroke="#1E1E1E" stroke-width="1.0"/>
<line x1="377.80" y1="400.35" x2="445.50" y2="400.35" stroke="#1E1E1E" stroke-width="1.0"/>
<line x1="449.80" y1="400.35" x2="488.00" y2="400.35" stroke="#1E1E1E" stroke-width="1.0"/>
<line x1="491.80" y1="400.35" x2="499.50" y2="400.35" stroke="#1E1E1E" stroke-width="1.0"/>
<line x1="502.10" y1="400.35" x2="519.40" y2="400.35" stroke="#1E1E1E" stroke-width="1.0"/>
<line x1="523.20" y1="400.35" x2="532.40" y2="400.35" stroke="#1E1E1E" stroke-width="1.0"/>
<line x1="533.10" y1="400.35" x2="549.30" y2="400.35" stroke="#1E1E1E" stroke-width="1.0"/>
<line x1="554.70" y1="400.35" x2="560.00" y2="400.35" stroke="#1E1E1E" stroke-width="1.0"/>
<line x1="564.20" y1="400.35" x2="667.60" y2="400.35" stroke="#1E1E1E" stroke-width="1.0"/>
<line x1="367.50" y1="424.88" x2="373.40" y2="424.88" stroke="#1E1E1E" stroke-width="1.0"/>
<line x1="377.80" y1="424.88" x2="437.00" y2="424.88" stroke="#1E1E1E" stroke-width="1.0"/>
<line x1="439.60" y1="424.88" x2="444.70" y2="424.88" stroke="#1E1E1E" stroke-width="1.0"/>
<line x1="449.80" y1="424.88" x2="455.40" y2="424.88" stroke="#1E1E1E" stroke-width="1.0"/>
<line x1="460.70" y1="424.88" x2="468.00" y2="424.88" stroke="#1E1E1E" stroke-width="1.0"/>
<line x1="471.10" y1="424.88" x2="480.30" y2="424.88" stroke="#1E1E1E" stroke-width="1.0"/>
<line x1="481.90" y1="424.88" x2="488.00" y2="424.88" stroke="#1E1E1E" stroke-width="1.0"/>
<line x1="491.80" y1="424.88" x2="499.50" y2="424.88" stroke="#1E1E1E" stroke-width="1.0"/>
<line x1="502.10" y1="424.88" x2="510.00" y2="424.88" stroke="#1E1E1E" stroke-width="1.0"/>
<line x1="512.50" y1="424.88" x2="517.90" y2="424.88" stroke="#1E1E1E" stroke-width="1.0"/>
<line x1="524.00" y1="424.88" x2="528.60" y2="424.88" stroke="#1E1E1E" stroke-width="1.0"/>
<line x1="534.00" y1="424.88" x2="540.90" y2="424.88" stroke="#1E1E1E" stroke-width="1.0"/>
<line x1="543.90" y1="424.88" x2="549.30" y2="424.88" stroke="#1E1E1E" stroke-width="1.0"/>
<line x1="554.70" y1="424.88" x2="560.80" y2="424.88" stroke="#1E1E1E" stroke-width="1.0"/>
<line x1="564.20" y1="424.88" x2="577.30" y2="424.88" stroke="#1E1E1E" stroke-width="1.0"/>
<line x1="585.70" y1="424.88" x2="590.30" y2="424.88" stroke="#1E1E1E" stroke-width="1.0"/>
<line x1="595.70" y1="424.88" x2="600.30" y2="424.88" stroke="#1E1E1E" stroke-width="1.0"/>
<line x1="606.40" y1="424.88" x2="614.00" y2="424.88" stroke="#1E1E1E" stroke-width="1.0"/>
<line x1="617.10" y1="424.88" x2="621.70" y2="424.88" stroke="#1E1E1E" stroke-width="1.0"/>
<line x1="627.10" y1="424.88" x2="632.40" y2="424.88" stroke="#1E1E1E" stroke-width="1.0"/>
<line x1="636.60" y1="424.88" x2="667.60" y2="424.88" stroke="#1E1E1E" stroke-width="1.0"/>
<line x1="377.85" y1="263.20" x2="377.85" y2="439.30" stroke="#151515" stroke-width="1.3"/>
<line x1="388.20" y1="263.20" x2="388.20" y2="439.30" stroke="#151515" stroke-width="1.3"/>
<line x1="398.55" y1="263.20" x2="398.55" y2="439.30" stroke="#151515" stroke-width="1.3"/>
<line x1="408.90" y1="263.20" x2="408.90" y2="439.30" stroke="#151515" stroke-width="1.3"/>
<line x1="419.25" y1="263.20" x2="419.25" y2="439.30" stroke="#151515" stroke-width="1.3"/>
<line x1="429.60" y1="263.20" x2="429.60" y2="439.30" stroke="#151515" stroke-width="1.3"/>
<line x1="439.95" y1="263.20" x2="439.95" y2="439.30" stroke="#151515" stroke-width="1.3"/>
<line x1="450.30" y1="263.20" x2="450.30" y2="439.30" stroke="#151515" stroke-width="1.3"/>
<line x1="460.65" y1="263.20" x2="460.65" y2="439.30" stroke="#151515" stroke-width="1.3"/>
<line x1="471.00" y1="263.20" x2="471.00" y2="439.30" stroke="#151515" stroke-width="1.3"/>
<line x1="481.35" y1="263.20" x2="481.35" y2="439.30" stroke="#151515" stroke-width="1.3"/>
<line x1="491.70" y1="263.20" x2="491.70" y2="439.30" stroke="#151515" stroke-width="1.3"/>
<line x1="502.05" y1="263.20" x2="502.05" y2="439.30" stroke="#151515" stroke-width="1.3"/>
<line x1="512.40" y1="263.20" x2="512.40" y2="439.30" stroke="#151515" stroke-width="1.3"/>
<line x1="522.75" y1="263.20" x2="522.75" y2="439.30" stroke="#151515" stroke-width="1.3"/>
<line x1="533.10" y1="263.20" x2="533.10" y2="439.30" stroke="#151515" stroke-width="1.3"/>
<line x1="543.45" y1="263.20" x2="543.45" y2="439.30" stroke="#151515" stroke-width="1.3"/>
<line x1="553.80" y1="263.20" x2="553.80" y2="439.30" stroke="#151515" stroke-width="1.3"/>
<line x1="564.15" y1="263.20" x2="564.15" y2="439.30" stroke="#151515" stroke-width="1.3"/>
<line x1="574.50" y1="263.20" x2="574.50" y2="439.30" stroke="#151515" stroke-width="1.3"/>
<line x1="584.85" y1="263.20" x2="584.85" y2="439.30" stroke="#151515" stroke-width="1.3"/>
<line x1="595.20" y1="263.20" x2="595.20" y2="439.30" stroke="#151515" stroke-width="1.3"/>
<line x1="605.55" y1="263.20" x2="605.55" y2="439.30" stroke="#151515" stroke-width="1.3"/>
<line x1="615.90" y1="263.20" x2="615.90" y2="439.30" stroke="#151515" stroke-width="1.3"/>
<line x1="626.25" y1="263.20" x2="626.25" y2="439.30" stroke="#151515" stroke-width="1.3"/>
<line x1="636.60" y1="263.20" x2="636.60" y2="439.30" stroke="#151515" stroke-width="1.3"/>
<line x1="646.95" y1="263.20" x2="646.95" y2="439.30" stroke="#151515" stroke-width="1.3"/>
<line x1="657.30" y1="263.20" x2="657.30" y2="439.30" stroke="#151515" stroke-width="1.3"/>
<path d="M432.80,274.90 L432.98,275.30 L433.25,275.70 L433.64,276.10 L434.10,276.50 L434.55,276.90 L434.88,277.30 L435.00,277.70 L434.88,278.10 L434.55,278.50 L434.10,278.90 L433.64,279.30 L433.25,279.70 L432.98,280.10 L432.80,280.50 L432.62,280.10 L432.35,279.70 L431.96,279.30 L431.50,278.90 L431.05,278.50 L430.72,278.10 L430.60,277.70 L430.72,277.30 L431.05,276.90 L431.50,276.50 L431.96,276.10 L432.35,275.70 L432.62,275.30Z" fill="#F27470" stroke="#151515" stroke-width="0.9"/>
<path d="M517.10,272.30 L517.41,273.07 L517.89,273.84 L518.57,274.61 L519.37,275.39 L520.15,276.16 L520.74,276.93 L520.95,277.70 L520.74,278.47 L520.15,279.24 L519.37,280.01 L518.57,280.79 L517.89,281.56 L517.41,282.33 L517.10,283.10 L516.79,282.33 L516.31,281.56 L515.63,280.79 L514.83,280.01 L514.05,279.24 L513.46,278.47 L513.25,277.70 L513.46,276.93 L514.05,276.16 L514.83,275.39 L515.63,274.61 L516.31,273.84 L516.79,273.07Z" fill="#F27470" stroke="#151515" stroke-width="0.9"/>
<path d="M527.80,274.70 L528.15,275.13 L528.71,275.56 L529.48,275.99 L530.40,276.41 L531.29,276.84 L531.95,277.27 L532.20,277.70 L531.95,278.13 L531.29,278.56 L530.40,278.99 L529.48,279.41 L528.71,279.84 L528.15,280.27 L527.80,280.70 L527.45,280.27 L526.89,279.84 L526.12,279.41 L525.20,278.99 L524.31,278.56 L523.65,278.13 L523.40,277.70 L523.65,277.27 L524.31,276.84 L525.20,276.41 L526.12,275.99 L526.89,275.56 L527.45,275.13Z" fill="#F27470" stroke="#151515" stroke-width="0.9"/>
<path d="M539.00,267.00 L539.35,268.53 L539.91,270.06 L540.68,271.59 L541.60,273.11 L542.49,274.64 L543.15,276.17 L543.40,277.70 L543.15,279.23 L542.49,280.76 L541.60,282.29 L540.68,283.81 L539.91,285.34 L539.35,286.87 L539.00,288.40 L538.65,286.87 L538.09,285.34 L537.32,283.81 L536.40,282.29 L535.51,280.76 L534.85,279.23 L534.60,277.70 L534.85,276.17 L535.51,274.64 L536.40,273.11 L537.32,271.59 L538.09,270.06 L538.65,268.53Z" fill="#F27470" stroke="#151515" stroke-width="0.9"/>
<path d="M567.50,276.20 L567.72,276.41 L568.07,276.63 L568.55,276.84 L569.12,277.06 L569.68,277.27 L570.10,277.49 L570.25,277.70 L570.10,277.91 L569.68,278.13 L569.12,278.34 L568.55,278.56 L568.07,278.77 L567.72,278.99 L567.50,279.20 L567.28,278.99 L566.93,278.77 L566.45,278.56 L565.88,278.34 L565.32,278.13 L564.90,277.91 L564.75,277.70 L564.90,277.49 L565.32,277.27 L565.88,277.06 L566.45,276.84 L566.93,276.63 L567.28,276.41Z" fill="#F27470" stroke="#151515" stroke-width="0.9"/>
<path d="M600.00,273.20 L600.33,273.84 L600.86,274.49 L601.60,275.13 L602.47,275.77 L603.32,276.41 L603.95,277.06 L604.18,277.70 L603.95,278.34 L603.32,278.99 L602.47,279.63 L601.60,280.27 L600.86,280.91 L600.33,281.56 L600.00,282.20 L599.67,281.56 L599.14,280.91 L598.40,280.27 L597.53,279.63 L596.68,278.99 L596.05,278.34 L595.82,277.70 L596.05,277.06 L596.68,276.41 L597.53,275.77 L598.40,275.13 L599.14,274.49 L599.67,273.84Z" fill="#F27470" stroke="#151515" stroke-width="0.9"/>
<path d="M611.80,267.00 L612.19,268.53 L612.82,270.06 L613.69,271.59 L614.72,273.11 L615.73,274.64 L616.47,276.17 L616.75,277.70 L616.47,279.23 L615.73,280.76 L614.72,282.29 L613.69,283.81 L612.82,285.34 L612.19,286.87 L611.80,288.40 L611.41,286.87 L610.78,285.34 L609.91,283.81 L608.88,282.29 L607.87,280.76 L607.13,279.23 L606.85,277.70 L607.13,276.17 L607.87,274.64 L608.88,273.11 L609.91,271.59 L610.78,270.06 L611.41,268.53Z" fill="#F27470" stroke="#151515" stroke-width="0.9"/>
<path d="M622.00,266.70 L622.40,268.27 L623.04,269.84 L623.93,271.41 L624.98,272.99 L626.01,274.56 L626.78,276.13 L627.06,277.70 L626.78,279.27 L626.01,280.84 L624.98,282.41 L623.93,283.99 L623.04,285.56 L622.40,287.13 L622.00,288.70 L621.60,287.13 L620.96,285.56 L620.07,283.99 L619.02,282.41 L617.99,280.84 L617.22,279.27 L616.94,277.70 L617.22,276.13 L617.99,274.56 L619.02,272.99 L620.07,271.41 L620.96,269.84 L621.60,268.27Z" fill="#F27470" stroke="#151515" stroke-width="0.9"/>
<path d="M632.40,266.70 L632.80,268.27 L633.44,269.84 L634.33,271.41 L635.38,272.99 L636.41,274.56 L637.18,276.13 L637.46,277.70 L637.18,279.27 L636.41,280.84 L635.38,282.41 L634.33,283.99 L633.44,285.56 L632.80,287.13 L632.40,288.70 L632.00,287.13 L631.36,285.56 L630.47,283.99 L629.42,282.41 L628.39,280.84 L627.62,279.27 L627.34,277.70 L627.62,276.13 L628.39,274.56 L629.42,272.99 L630.47,271.41 L631.36,269.84 L632.00,268.27Z" fill="#F27470" stroke="#151515" stroke-width="0.9"/>
<path d="M652.40,274.70 L652.71,275.13 L653.19,275.56 L653.87,275.99 L654.67,276.41 L655.45,276.84 L656.04,277.27 L656.25,277.70 L656.04,278.13 L655.45,278.56 L654.67,278.99 L653.87,279.41 L653.19,279.84 L652.71,280.27 L652.40,280.70 L652.09,280.27 L651.61,279.84 L650.93,279.41 L650.13,278.99 L649.35,278.56 L648.76,278.13 L648.55,277.70 L648.76,277.27 L649.35,276.84 L650.13,276.41 L650.93,275.99 L651.61,275.56 L652.09,275.13Z" fill="#F27470" stroke="#151515" stroke-width="0.9"/>
<path d="M383.40,291.03 L383.77,292.63 L384.35,294.23 L385.16,295.83 L386.13,297.43 L387.07,299.03 L387.76,300.63 L388.02,302.23 L387.76,303.83 L387.07,305.43 L386.13,307.03 L385.16,308.63 L384.35,310.23 L383.77,311.83 L383.40,313.43 L383.03,311.83 L382.45,310.23 L381.64,308.63 L380.67,307.03 L379.73,305.43 L379.04,303.83 L378.78,302.23 L379.04,300.63 L379.73,299.03 L380.67,297.43 L381.64,295.83 L382.45,294.23 L383.03,292.63Z" fill="#BC9A22" stroke="#151515" stroke-width="0.9"/>
<path d="M432.80,300.23 L432.98,300.52 L433.25,300.80 L433.64,301.09 L434.10,301.37 L434.55,301.66 L434.88,301.94 L435.00,302.23 L434.88,302.52 L434.55,302.80 L434.10,303.09 L433.64,303.37 L433.25,303.66 L432.98,303.94 L432.80,304.23 L432.62,303.94 L432.35,303.66 L431.96,303.37 L431.50,303.09 L431.05,302.80 L430.72,302.52 L430.60,302.23 L430.72,301.94 L431.05,301.66 L431.50,301.37 L431.96,301.09 L432.35,300.80 L432.62,300.52Z" fill="#BC9A22" stroke="#151515" stroke-width="0.9"/>
<path d="M516.30,299.73 L516.56,300.09 L516.98,300.44 L517.56,300.80 L518.25,301.16 L518.92,301.52 L519.42,301.87 L519.60,302.23 L519.42,302.59 L518.92,302.94 L518.25,303.30 L517.56,303.66 L516.98,304.02 L516.56,304.37 L516.30,304.73 L516.04,304.37 L515.62,304.02 L515.04,303.66 L514.35,303.30 L513.68,302.94 L513.18,302.59 L513.00,302.23 L513.18,301.87 L513.68,301.52 L514.35,301.16 L515.04,300.80 L515.62,300.44 L516.04,300.09Z" fill="#BC9A22" stroke="#151515" stroke-width="0.9"/>
<path d="M527.50,300.23 L527.76,300.52 L528.18,300.80 L528.76,301.09 L529.45,301.37 L530.12,301.66 L530.62,301.94 L530.80,302.23 L530.62,302.52 L530.12,302.80 L529.45,303.09 L528.76,303.37 L528.18,303.66 L527.76,303.94 L527.50,304.23 L527.24,303.94 L526.82,303.66 L526.24,303.37 L525.55,303.09 L524.88,302.80 L524.38,302.52 L524.20,302.23 L524.38,301.94 L524.88,301.66 L525.55,301.37 L526.24,301.09 L526.82,300.80 L527.24,300.52Z" fill="#BC9A22" stroke="#151515" stroke-width="0.9"/>
<path d="M537.80,299.23 L538.06,299.66 L538.48,300.09 L539.06,300.52 L539.75,300.94 L540.42,301.37 L540.92,301.80 L541.10,302.23 L540.92,302.66 L540.42,303.09 L539.75,303.52 L539.06,303.94 L538.48,304.37 L538.06,304.80 L537.80,305.23 L537.54,304.80 L537.12,304.37 L536.54,303.94 L535.85,303.52 L535.18,303.09 L534.68,302.66 L534.50,302.23 L534.68,301.80 L535.18,301.37 L535.85,300.94 L536.54,300.52 L537.12,300.09 L537.54,299.66Z" fill="#BC9A22" stroke="#151515" stroke-width="0.9"/>
<path d="M560.00,294.23 L560.35,295.37 L560.91,296.52 L561.68,297.66 L562.60,298.80 L563.49,299.94 L564.15,301.09 L564.40,302.23 L564.15,303.37 L563.49,304.52 L562.60,305.66 L561.68,306.80 L560.91,307.94 L560.35,309.09 L560.00,310.23 L559.65,309.09 L559.09,307.94 L558.32,306.80 L557.40,305.66 L556.51,304.52 L555.85,303.37 L555.60,302.23 L555.85,301.09 L556.51,299.94 L557.40,298.80 L558.32,297.66 L559.09,296.52 L559.65,295.37Z" fill="#BC9A22" stroke="#151515" stroke-width="0.9"/>
<path d="M570.40,291.53 L570.81,293.06 L571.47,294.59 L572.37,296.12 L573.45,297.64 L574.50,299.17 L575.28,300.70 L575.57,302.23 L575.28,303.76 L574.50,305.29 L573.45,306.82 L572.37,308.34 L571.47,309.87 L570.81,311.40 L570.40,312.93 L569.99,311.40 L569.33,309.87 L568.43,308.34 L567.35,306.82 L566.30,305.29 L565.52,303.76 L565.23,302.23 L565.52,300.70 L566.30,299.17 L567.35,297.64 L568.43,296.12 L569.33,294.59 L569.99,293.06Z" fill="#BC9A22" stroke="#151515" stroke-width="0.9"/>
<path d="M580.30,299.23 L580.61,299.66 L581.09,300.09 L581.77,300.52 L582.57,300.94 L583.35,301.37 L583.94,301.80 L584.15,302.23 L583.94,302.66 L583.35,303.09 L582.57,303.52 L581.77,303.94 L581.09,304.37 L580.61,304.80 L580.30,305.23 L579.99,304.80 L579.51,304.37 L578.83,303.94 L578.03,303.52 L577.25,303.09 L576.66,302.66 L576.45,302.23 L576.66,301.80 L577.25,301.37 L578.03,300.94 L578.83,300.52 L579.51,300.09 L579.99,299.66Z" fill="#BC9A22" stroke="#151515" stroke-width="0.9"/>
<path d="M590.80,298.73 L591.11,299.23 L591.59,299.73 L592.27,300.23 L593.07,300.73 L593.85,301.23 L594.44,301.73 L594.65,302.23 L594.44,302.73 L593.85,303.23 L593.07,303.73 L592.27,304.23 L591.59,304.73 L591.11,305.23 L590.80,305.73 L590.49,305.23 L590.01,304.73 L589.33,304.23 L588.53,303.73 L587.75,303.23 L587.16,302.73 L586.95,302.23 L587.16,301.73 L587.75,301.23 L588.53,300.73 L589.33,300.23 L590.01,299.73 L590.49,299.23Z" fill="#BC9A22" stroke="#151515" stroke-width="0.9"/>
<path d="M621.00,298.83 L621.26,299.32 L621.68,299.80 L622.26,300.29 L622.95,300.77 L623.62,301.26 L624.12,301.74 L624.30,302.23 L624.12,302.72 L623.62,303.20 L622.95,303.69 L622.26,304.17 L621.68,304.66 L621.26,305.14 L621.00,305.63 L620.74,305.14 L620.32,304.66 L619.74,304.17 L619.05,303.69 L618.38,303.20 L617.88,302.72 L617.70,302.23 L617.88,301.74 L618.38,301.26 L619.05,300.77 L619.74,300.29 L620.32,299.80 L620.74,299.32Z" fill="#BC9A22" stroke="#151515" stroke-width="0.9"/>
<path d="M631.20,299.23 L631.46,299.66 L631.88,300.09 L632.46,300.52 L633.15,300.94 L633.82,301.37 L634.32,301.80 L634.50,302.23 L634.32,302.66 L633.82,303.09 L633.15,303.52 L632.46,303.94 L631.88,304.37 L631.46,304.80 L631.20,305.23 L630.94,304.80 L630.52,304.37 L629.94,303.94 L629.25,303.52 L628.58,303.09 L628.08,302.66 L627.90,302.23 L628.08,301.80 L628.58,301.37 L629.25,300.94 L629.94,300.52 L630.52,300.09 L630.94,299.66Z" fill="#BC9A22" stroke="#151515" stroke-width="0.9"/>
<path d="M643.20,292.63 L643.57,294.00 L644.15,295.37 L644.96,296.74 L645.93,298.12 L646.87,299.49 L647.56,300.86 L647.82,302.23 L647.56,303.60 L646.87,304.97 L645.93,306.34 L644.96,307.72 L644.15,309.09 L643.57,310.46 L643.20,311.83 L642.83,310.46 L642.25,309.09 L641.44,307.72 L640.47,306.34 L639.53,304.97 L638.84,303.60 L638.58,302.23 L638.84,300.86 L639.53,299.49 L640.47,298.12 L641.44,296.74 L642.25,295.37 L642.83,294.00Z" fill="#BC9A22" stroke="#151515" stroke-width="0.9"/>
<path d="M652.80,291.23 L653.17,292.80 L653.75,294.37 L654.56,295.94 L655.53,297.52 L656.47,299.09 L657.16,300.66 L657.42,302.23 L657.16,303.80 L656.47,305.37 L655.53,306.94 L654.56,308.52 L653.75,310.09 L653.17,311.66 L652.80,313.23 L652.43,311.66 L651.85,310.09 L651.04,308.52 L650.07,306.94 L649.13,305.37 L648.44,303.80 L648.18,302.23 L648.44,300.66 L649.13,299.09 L650.07,297.52 L651.04,295.94 L651.85,294.37 L652.43,292.80Z" fill="#BC9A22" stroke="#151515" stroke-width="0.9"/>
<path d="M662.60,291.23 L662.97,292.80 L663.55,294.37 L664.36,295.94 L665.33,297.52 L666.27,299.09 L666.96,300.66 L667.22,302.23 L666.96,303.80 L666.27,305.37 L665.33,306.94 L664.36,308.52 L663.55,310.09 L662.97,311.66 L662.60,313.23 L662.23,311.66 L661.65,310.09 L660.84,308.52 L659.87,306.94 L658.93,305.37 L658.24,303.80 L657.98,302.23 L658.24,300.66 L658.93,299.09 L659.87,297.52 L660.84,295.94 L661.65,294.37 L662.23,292.80Z" fill="#BC9A22" stroke="#151515" stroke-width="0.9"/>
<path d="M382.70,321.36 L383.01,322.13 L383.49,322.90 L384.17,323.67 L384.97,324.45 L385.75,325.22 L386.34,325.99 L386.55,326.76 L386.34,327.53 L385.75,328.30 L384.97,329.07 L384.17,329.85 L383.49,330.62 L383.01,331.39 L382.70,332.16 L382.39,331.39 L381.91,330.62 L381.23,329.85 L380.43,329.07 L379.65,328.30 L379.06,327.53 L378.85,326.76 L379.06,325.99 L379.65,325.22 L380.43,324.45 L381.23,323.67 L381.91,322.90 L382.39,322.13Z" fill="#52BE2E" stroke="#151515" stroke-width="0.9"/>
<path d="M432.80,324.76 L432.98,325.05 L433.25,325.33 L433.64,325.62 L434.10,325.90 L434.55,326.19 L434.88,326.47 L435.00,326.76 L434.88,327.05 L434.55,327.33 L434.10,327.62 L433.64,327.90 L433.25,328.19 L432.98,328.47 L432.80,328.76 L432.62,328.47 L432.35,328.19 L431.96,327.90 L431.50,327.62 L431.05,327.33 L430.72,327.05 L430.60,326.76 L430.72,326.47 L431.05,326.19 L431.50,325.90 L431.96,325.62 L432.35,325.33 L432.62,325.05Z" fill="#52BE2E" stroke="#151515" stroke-width="0.9"/>
<path d="M516.30,325.26 L516.56,325.47 L516.98,325.69 L517.56,325.90 L518.25,326.12 L518.92,326.33 L519.42,326.55 L519.60,326.76 L519.42,326.97 L518.92,327.19 L518.25,327.40 L517.56,327.62 L516.98,327.83 L516.56,328.05 L516.30,328.26 L516.04,328.05 L515.62,327.83 L515.04,327.62 L514.35,327.40 L513.68,327.19 L513.18,326.97 L513.00,326.76 L513.18,326.55 L513.68,326.33 L514.35,326.12 L515.04,325.90 L515.62,325.69 L516.04,325.47Z" fill="#52BE2E" stroke="#151515" stroke-width="0.9"/>
<path d="M528.30,323.76 L528.59,324.19 L529.05,324.62 L529.69,325.05 L530.44,325.47 L531.18,325.90 L531.73,326.33 L531.93,326.76 L531.73,327.19 L531.18,327.62 L530.44,328.05 L529.69,328.47 L529.05,328.90 L528.59,329.33 L528.30,329.76 L528.01,329.33 L527.55,328.90 L526.91,328.47 L526.16,328.05 L525.42,327.62 L524.87,327.19 L524.67,326.76 L524.87,326.33 L525.42,325.90 L526.16,325.47 L526.91,325.05 L527.55,324.62 L528.01,324.19Z" fill="#52BE2E" stroke="#151515" stroke-width="0.9"/>
<path d="M539.00,316.06 L539.32,317.59 L539.82,319.12 L540.51,320.65 L541.34,322.17 L542.14,323.70 L542.74,325.23 L542.96,326.76 L542.74,328.29 L542.14,329.82 L541.34,331.35 L540.51,332.87 L539.82,334.40 L539.32,335.93 L539.00,337.46 L538.68,335.93 L538.18,334.40 L537.49,332.87 L536.66,331.35 L535.86,329.82 L535.26,328.29 L535.04,326.76 L535.26,325.23 L535.86,323.70 L536.66,322.17 L537.49,320.65 L538.18,319.12 L538.68,317.59Z" fill="#52BE2E" stroke="#151515" stroke-width="0.9"/>
<path d="M549.00,324.26 L549.31,324.62 L549.79,324.97 L550.47,325.33 L551.27,325.69 L552.05,326.05 L552.64,326.40 L552.85,326.76 L552.64,327.12 L552.05,327.47 L551.27,327.83 L550.47,328.19 L549.79,328.55 L549.31,328.90 L549.00,329.26 L548.69,328.90 L548.21,328.55 L547.53,328.19 L546.73,327.83 L545.95,327.47 L545.36,327.12 L545.15,326.76 L545.36,326.40 L545.95,326.05 L546.73,325.69 L547.53,325.33 L548.21,324.97 L548.69,324.62Z" fill="#52BE2E" stroke="#151515" stroke-width="0.9"/>
<path d="M558.20,325.26 L558.42,325.47 L558.77,325.69 L559.25,325.90 L559.82,326.12 L560.38,326.33 L560.80,326.55 L560.95,326.76 L560.80,326.97 L560.38,327.19 L559.82,327.40 L559.25,327.62 L558.77,327.83 L558.42,328.05 L558.20,328.26 L557.98,328.05 L557.63,327.83 L557.15,327.62 L556.58,327.40 L556.02,327.19 L555.60,326.97 L555.45,326.76 L555.60,326.55 L556.02,326.33 L556.58,326.12 L557.15,325.90 L557.63,325.69 L557.98,325.47Z" fill="#52BE2E" stroke="#151515" stroke-width="0.9"/>
<path d="M568.80,325.26 L569.06,325.47 L569.48,325.69 L570.06,325.90 L570.75,326.12 L571.42,326.33 L571.92,326.55 L572.10,326.76 L571.92,326.97 L571.42,327.19 L570.75,327.40 L570.06,327.62 L569.48,327.83 L569.06,328.05 L568.80,328.26 L568.54,328.05 L568.12,327.83 L567.54,327.62 L566.85,327.40 L566.18,327.19 L565.68,326.97 L565.50,326.76 L565.68,326.55 L566.18,326.33 L566.85,326.12 L567.54,325.90 L568.12,325.69 L568.54,325.47Z" fill="#52BE2E" stroke="#151515" stroke-width="0.9"/>
<path d="M580.30,324.26 L580.61,324.62 L581.09,324.97 L581.77,325.33 L582.57,325.69 L583.35,326.05 L583.94,326.40 L584.15,326.76 L583.94,327.12 L583.35,327.47 L582.57,327.83 L581.77,328.19 L581.09,328.55 L580.61,328.90 L580.30,329.26 L579.99,328.90 L579.51,328.55 L578.83,328.19 L578.03,327.83 L577.25,327.47 L576.66,327.12 L576.45,326.76 L576.66,326.40 L577.25,326.05 L578.03,325.69 L578.83,325.33 L579.51,324.97 L579.99,324.62Z" fill="#52BE2E" stroke="#151515" stroke-width="0.9"/>
<path d="M590.80,322.76 L591.11,323.33 L591.59,323.90 L592.27,324.47 L593.07,325.05 L593.85,325.62 L594.44,326.19 L594.65,326.76 L594.44,327.33 L593.85,327.90 L593.07,328.47 L592.27,329.05 L591.59,329.62 L591.11,330.19 L590.80,330.76 L590.49,330.19 L590.01,329.62 L589.33,329.05 L588.53,328.47 L587.75,327.90 L587.16,327.33 L586.95,326.76 L587.16,326.19 L587.75,325.62 L588.53,325.05 L589.33,324.47 L590.01,323.90 L590.49,323.33Z" fill="#52BE2E" stroke="#151515" stroke-width="0.9"/>
<path d="M609.50,325.96 L609.76,326.07 L610.18,326.19 L610.76,326.30 L611.45,326.42 L612.12,326.53 L612.62,326.65 L612.80,326.76 L612.62,326.87 L612.12,326.99 L611.45,327.10 L610.76,327.22 L610.18,327.33 L609.76,327.45 L609.50,327.56 L609.24,327.45 L608.82,327.33 L608.24,327.22 L607.55,327.10 L606.88,326.99 L606.38,326.87 L606.20,326.76 L606.38,326.65 L606.88,326.53 L607.55,326.42 L608.24,326.30 L608.82,326.19 L609.24,326.07Z" fill="#52BE2E" stroke="#151515" stroke-width="0.9"/>
<path d="M622.00,315.76 L622.32,317.33 L622.84,318.90 L623.55,320.47 L624.40,322.05 L625.23,323.62 L625.84,325.19 L626.07,326.76 L625.84,328.33 L625.23,329.90 L624.40,331.47 L623.55,333.05 L622.84,334.62 L622.32,336.19 L622.00,337.76 L621.68,336.19 L621.16,334.62 L620.45,333.05 L619.60,331.47 L618.77,329.90 L618.16,328.33 L617.93,326.76 L618.16,325.19 L618.77,323.62 L619.60,322.05 L620.45,320.47 L621.16,318.90 L621.68,317.33Z" fill="#52BE2E" stroke="#151515" stroke-width="0.9"/>
<path d="M631.20,322.76 L631.46,323.33 L631.88,323.90 L632.46,324.47 L633.15,325.05 L633.82,325.62 L634.32,326.19 L634.50,326.76 L634.32,327.33 L633.82,327.90 L633.15,328.47 L632.46,329.05 L631.88,329.62 L631.46,330.19 L631.20,330.76 L630.94,330.19 L630.52,329.62 L629.94,329.05 L629.25,328.47 L628.58,327.90 L628.08,327.33 L627.90,326.76 L628.08,326.19 L628.58,325.62 L629.25,325.05 L629.94,324.47 L630.52,323.90 L630.94,323.33Z" fill="#52BE2E" stroke="#151515" stroke-width="0.9"/>
<path d="M643.20,315.76 L643.57,317.33 L644.15,318.90 L644.96,320.47 L645.93,322.05 L646.87,323.62 L647.56,325.19 L647.82,326.76 L647.56,328.33 L646.87,329.90 L645.93,331.47 L644.96,333.05 L644.15,334.62 L643.57,336.19 L643.20,337.76 L642.83,336.19 L642.25,334.62 L641.44,333.05 L640.47,331.47 L639.53,329.90 L638.84,328.33 L638.58,326.76 L638.84,325.19 L639.53,323.62 L640.47,322.05 L641.44,320.47 L642.25,318.90 L642.83,317.33Z" fill="#52BE2E" stroke="#151515" stroke-width="0.9"/>
<path d="M652.80,315.76 L653.17,317.33 L653.75,318.90 L654.56,320.47 L655.53,322.05 L656.47,323.62 L657.16,325.19 L657.42,326.76 L657.16,328.33 L656.47,329.90 L655.53,331.47 L654.56,333.05 L653.75,334.62 L653.17,336.19 L652.80,337.76 L652.43,336.19 L651.85,334.62 L651.04,333.05 L650.07,331.47 L649.13,329.90 L648.44,328.33 L648.18,326.76 L648.44,325.19 L649.13,323.62 L650.07,322.05 L651.04,320.47 L651.85,318.90 L652.43,317.33Z" fill="#52BE2E" stroke="#151515" stroke-width="0.9"/>
<path d="M663.00,315.76 L663.37,317.33 L663.95,318.90 L664.76,320.47 L665.73,322.05 L666.67,323.62 L667.36,325.19 L667.62,326.76 L667.36,328.33 L666.67,329.90 L665.73,331.47 L664.76,333.05 L663.95,334.62 L663.37,336.19 L663.00,337.76 L662.63,336.19 L662.05,334.62 L661.24,333.05 L660.27,331.47 L659.33,329.90 L658.64,328.33 L658.38,326.76 L658.64,325.19 L659.33,323.62 L660.27,322.05 L661.24,320.47 L662.05,318.90 L662.63,317.33Z" fill="#52BE2E" stroke="#151515" stroke-width="0.9"/>
<path d="M382.20,340.99 L382.53,342.46 L383.06,343.93 L383.80,345.40 L384.67,346.88 L385.52,348.35 L386.15,349.82 L386.38,351.29 L386.15,352.76 L385.52,354.23 L384.67,355.70 L383.80,357.18 L383.06,358.65 L382.53,360.12 L382.20,361.59 L381.87,360.12 L381.34,358.65 L380.60,357.18 L379.73,355.70 L378.88,354.23 L378.25,352.76 L378.02,351.29 L378.25,349.82 L378.88,348.35 L379.73,346.88 L380.60,345.40 L381.34,343.93 L381.87,342.46Z" fill="#52D4A0" stroke="#151515" stroke-width="0.9"/>
<path d="M432.60,346.69 L432.86,347.35 L433.28,348.00 L433.86,348.66 L434.55,349.32 L435.22,349.98 L435.72,350.63 L435.90,351.29 L435.72,351.95 L435.22,352.60 L434.55,353.26 L433.86,353.92 L433.28,354.58 L432.86,355.23 L432.60,355.89 L432.34,355.23 L431.92,354.58 L431.34,353.92 L430.65,353.26 L429.98,352.60 L429.48,351.95 L429.30,351.29 L429.48,350.63 L429.98,349.98 L430.65,349.32 L431.34,348.66 L431.92,348.00 L432.34,347.35Z" fill="#52D4A0" stroke="#151515" stroke-width="0.9"/>
<path d="M464.80,347.79 L465.11,348.29 L465.59,348.79 L466.27,349.29 L467.07,349.79 L467.85,350.29 L468.44,350.79 L468.65,351.29 L468.44,351.79 L467.85,352.29 L467.07,352.79 L466.27,353.29 L465.59,353.79 L465.11,354.29 L464.80,354.79 L464.49,354.29 L464.01,353.79 L463.33,353.29 L462.53,352.79 L461.75,352.29 L461.16,351.79 L460.95,351.29 L461.16,350.79 L461.75,350.29 L462.53,349.79 L463.33,349.29 L464.01,348.79 L464.49,348.29Z" fill="#52D4A0" stroke="#151515" stroke-width="0.9"/>
<path d="M475.70,344.09 L476.07,345.12 L476.65,346.15 L477.46,347.18 L478.43,348.20 L479.37,349.23 L480.06,350.26 L480.32,351.29 L480.06,352.32 L479.37,353.35 L478.43,354.38 L477.46,355.40 L476.65,356.43 L476.07,357.46 L475.70,358.49 L475.33,357.46 L474.75,356.43 L473.94,355.40 L472.97,354.38 L472.03,353.35 L471.34,352.32 L471.08,351.29 L471.34,350.26 L472.03,349.23 L472.97,348.20 L473.94,347.18 L474.75,346.15 L475.33,345.12Z" fill="#52D4A0" stroke="#151515" stroke-width="0.9"/>
<path d="M486.50,347.79 L486.81,348.29 L487.29,348.79 L487.97,349.29 L488.77,349.79 L489.55,350.29 L490.14,350.79 L490.35,351.29 L490.14,351.79 L489.55,352.29 L488.77,352.79 L487.97,353.29 L487.29,353.79 L486.81,354.29 L486.50,354.79 L486.19,354.29 L485.71,353.79 L485.03,353.29 L484.23,352.79 L483.45,352.29 L482.86,351.79 L482.65,351.29 L482.86,350.79 L483.45,350.29 L484.23,349.79 L485.03,349.29 L485.71,348.79 L486.19,348.29Z" fill="#52D4A0" stroke="#151515" stroke-width="0.9"/>
<path d="M497.20,344.79 L497.57,345.72 L498.15,346.65 L498.96,347.58 L499.93,348.50 L500.87,349.43 L501.56,350.36 L501.82,351.29 L501.56,352.22 L500.87,353.15 L499.93,354.08 L498.96,355.00 L498.15,355.93 L497.57,356.86 L497.20,357.79 L496.83,356.86 L496.25,355.93 L495.44,355.00 L494.47,354.08 L493.53,353.15 L492.84,352.22 L492.58,351.29 L492.84,350.36 L493.53,349.43 L494.47,348.50 L495.44,347.58 L496.25,346.65 L496.83,345.72Z" fill="#52D4A0" stroke="#151515" stroke-width="0.9"/>
<path d="M506.70,347.49 L507.01,348.03 L507.49,348.58 L508.17,349.12 L508.97,349.66 L509.75,350.20 L510.34,350.75 L510.55,351.29 L510.34,351.83 L509.75,352.38 L508.97,352.92 L508.17,353.46 L507.49,354.00 L507.01,354.55 L506.70,355.09 L506.39,354.55 L505.91,354.00 L505.23,353.46 L504.43,352.92 L503.65,352.38 L503.06,351.83 L502.85,351.29 L503.06,350.75 L503.65,350.20 L504.43,349.66 L505.23,349.12 L505.91,348.58 L506.39,348.03Z" fill="#52D4A0" stroke="#151515" stroke-width="0.9"/>
<path d="M567.30,347.79 L567.56,348.29 L567.98,348.79 L568.56,349.29 L569.25,349.79 L569.92,350.29 L570.42,350.79 L570.60,351.29 L570.42,351.79 L569.92,352.29 L569.25,352.79 L568.56,353.29 L567.98,353.79 L567.56,354.29 L567.30,354.79 L567.04,354.29 L566.62,353.79 L566.04,353.29 L565.35,352.79 L564.68,352.29 L564.18,351.79 L564.00,351.29 L564.18,350.79 L564.68,350.29 L565.35,349.79 L566.04,349.29 L566.62,348.79 L567.04,348.29Z" fill="#52D4A0" stroke="#151515" stroke-width="0.9"/>
<path d="M643.20,340.59 L643.57,342.12 L644.15,343.65 L644.96,345.18 L645.93,346.70 L646.87,348.23 L647.56,349.76 L647.82,351.29 L647.56,352.82 L646.87,354.35 L645.93,355.88 L644.96,357.40 L644.15,358.93 L643.57,360.46 L643.20,361.99 L642.83,360.46 L642.25,358.93 L641.44,357.40 L640.47,355.88 L639.53,354.35 L638.84,352.82 L638.58,351.29 L638.84,349.76 L639.53,348.23 L640.47,346.70 L641.44,345.18 L642.25,343.65 L642.83,342.12Z" fill="#52D4A0" stroke="#151515" stroke-width="0.9"/>
<path d="M652.80,340.59 L653.17,342.12 L653.75,343.65 L654.56,345.18 L655.53,346.70 L656.47,348.23 L657.16,349.76 L657.42,351.29 L657.16,352.82 L656.47,354.35 L655.53,355.88 L654.56,357.40 L653.75,358.93 L653.17,360.46 L652.80,361.99 L652.43,360.46 L651.85,358.93 L651.04,357.40 L650.07,355.88 L649.13,354.35 L648.44,352.82 L648.18,351.29 L648.44,349.76 L649.13,348.23 L650.07,346.70 L651.04,345.18 L651.85,343.65 L652.43,342.12Z" fill="#52D4A0" stroke="#151515" stroke-width="0.9"/>
<path d="M663.00,340.59 L663.37,342.12 L663.95,343.65 L664.76,345.18 L665.73,346.70 L666.67,348.23 L667.36,349.76 L667.62,351.29 L667.36,352.82 L666.67,354.35 L665.73,355.88 L664.76,357.40 L663.95,358.93 L663.37,360.46 L663.00,361.99 L662.63,360.46 L662.05,358.93 L661.24,357.40 L660.27,355.88 L659.33,354.35 L658.64,352.82 L658.38,351.29 L658.64,349.76 L659.33,348.23 L660.27,346.70 L661.24,345.18 L662.05,343.65 L662.63,342.12Z" fill="#52D4A0" stroke="#151515" stroke-width="0.9"/>
<path d="M370.40,372.62 L370.66,373.08 L371.08,373.53 L371.66,373.99 L372.35,374.45 L373.02,374.91 L373.52,375.36 L373.70,375.82 L373.52,376.28 L373.02,376.73 L372.35,377.19 L371.66,377.65 L371.08,378.11 L370.66,378.56 L370.40,379.02 L370.14,378.56 L369.72,378.11 L369.14,377.65 L368.45,377.19 L367.78,376.73 L367.28,376.28 L367.10,375.82 L367.28,375.36 L367.78,374.91 L368.45,374.45 L369.14,373.99 L369.72,373.53 L370.14,373.08Z" fill="#52B6EC" stroke="#151515" stroke-width="0.9"/>
<path d="M382.40,365.32 L382.75,366.82 L383.31,368.32 L384.08,369.82 L385.00,371.32 L385.89,372.82 L386.55,374.32 L386.80,375.82 L386.55,377.32 L385.89,378.82 L385.00,380.32 L384.08,381.82 L383.31,383.32 L382.75,384.82 L382.40,386.32 L382.05,384.82 L381.49,383.32 L380.72,381.82 L379.80,380.32 L378.91,378.82 L378.25,377.32 L378.00,375.82 L378.25,374.32 L378.91,372.82 L379.80,371.32 L380.72,369.82 L381.49,368.32 L382.05,366.82Z" fill="#52B6EC" stroke="#151515" stroke-width="0.9"/>
<path d="M435.30,365.12 L435.69,366.65 L436.32,368.18 L437.19,369.71 L438.22,371.23 L439.23,372.76 L439.97,374.29 L440.25,375.82 L439.97,377.35 L439.23,378.88 L438.22,380.41 L437.19,381.93 L436.32,383.46 L435.69,384.99 L435.30,386.52 L434.91,384.99 L434.28,383.46 L433.41,381.93 L432.38,380.41 L431.37,378.88 L430.63,377.35 L430.35,375.82 L430.63,374.29 L431.37,372.76 L432.38,371.23 L433.41,369.71 L434.28,368.18 L434.91,366.65Z" fill="#52B6EC" stroke="#151515" stroke-width="0.9"/>
<path d="M444.80,370.12 L445.15,370.93 L445.71,371.75 L446.48,372.56 L447.40,373.38 L448.29,374.19 L448.95,375.01 L449.20,375.82 L448.95,376.63 L448.29,377.45 L447.40,378.26 L446.48,379.08 L445.71,379.89 L445.15,380.71 L444.80,381.52 L444.45,380.71 L443.89,379.89 L443.12,379.08 L442.20,378.26 L441.31,377.45 L440.65,376.63 L440.40,375.82 L440.65,375.01 L441.31,374.19 L442.20,373.38 L443.12,372.56 L443.89,371.75 L444.45,370.93Z" fill="#52B6EC" stroke="#151515" stroke-width="0.9"/>
<path d="M456.20,365.12 L456.59,366.65 L457.22,368.18 L458.09,369.71 L459.12,371.23 L460.13,372.76 L460.87,374.29 L461.15,375.82 L460.87,377.35 L460.13,378.88 L459.12,380.41 L458.09,381.93 L457.22,383.46 L456.59,384.99 L456.20,386.52 L455.81,384.99 L455.18,383.46 L454.31,381.93 L453.28,380.41 L452.27,378.88 L451.53,377.35 L451.25,375.82 L451.53,374.29 L452.27,372.76 L453.28,371.23 L454.31,369.71 L455.18,368.18 L455.81,366.65Z" fill="#52B6EC" stroke="#151515" stroke-width="0.9"/>
<path d="M505.60,372.82 L505.91,373.25 L506.39,373.68 L507.07,374.11 L507.87,374.53 L508.65,374.96 L509.24,375.39 L509.45,375.82 L509.24,376.25 L508.65,376.68 L507.87,377.11 L507.07,377.53 L506.39,377.96 L505.91,378.39 L505.60,378.82 L505.29,378.39 L504.81,377.96 L504.13,377.53 L503.33,377.11 L502.55,376.68 L501.96,376.25 L501.75,375.82 L501.96,375.39 L502.55,374.96 L503.33,374.53 L504.13,374.11 L504.81,373.68 L505.29,373.25Z" fill="#52B6EC" stroke="#151515" stroke-width="0.9"/>
<path d="M538.30,364.82 L538.67,366.39 L539.25,367.96 L540.06,369.53 L541.03,371.11 L541.97,372.68 L542.66,374.25 L542.92,375.82 L542.66,377.39 L541.97,378.96 L541.03,380.53 L540.06,382.11 L539.25,383.68 L538.67,385.25 L538.30,386.82 L537.93,385.25 L537.35,383.68 L536.54,382.11 L535.57,380.53 L534.63,378.96 L533.94,377.39 L533.68,375.82 L533.94,374.25 L534.63,372.68 L535.57,371.11 L536.54,369.53 L537.35,367.96 L537.93,366.39Z" fill="#52B6EC" stroke="#151515" stroke-width="0.9"/>
<path d="M547.80,374.32 L547.98,374.53 L548.25,374.75 L548.64,374.96 L549.10,375.18 L549.55,375.39 L549.88,375.61 L550.00,375.82 L549.88,376.03 L549.55,376.25 L549.10,376.46 L548.64,376.68 L548.25,376.89 L547.98,377.11 L547.80,377.32 L547.62,377.11 L547.35,376.89 L546.96,376.68 L546.50,376.46 L546.05,376.25 L545.72,376.03 L545.60,375.82 L545.72,375.61 L546.05,375.39 L546.50,375.18 L546.96,374.96 L547.35,374.75 L547.62,374.53Z" fill="#52B6EC" stroke="#151515" stroke-width="0.9"/>
<path d="M566.50,373.32 L566.72,373.68 L567.07,374.03 L567.55,374.39 L568.12,374.75 L568.68,375.11 L569.10,375.46 L569.25,375.82 L569.10,376.18 L568.68,376.53 L568.12,376.89 L567.55,377.25 L567.07,377.61 L566.72,377.96 L566.50,378.32 L566.28,377.96 L565.93,377.61 L565.45,377.25 L564.88,376.89 L564.32,376.53 L563.90,376.18 L563.75,375.82 L563.90,375.46 L564.32,375.11 L564.88,374.75 L565.45,374.39 L565.93,374.03 L566.28,373.68Z" fill="#52B6EC" stroke="#151515" stroke-width="0.9"/>
<path d="M621.00,374.32 L621.31,374.53 L621.79,374.75 L622.47,374.96 L623.27,375.18 L624.05,375.39 L624.64,375.61 L624.85,375.82 L624.64,376.03 L624.05,376.25 L623.27,376.46 L622.47,376.68 L621.79,376.89 L621.31,377.11 L621.00,377.32 L620.69,377.11 L620.21,376.89 L619.53,376.68 L618.73,376.46 L617.95,376.25 L617.36,376.03 L617.15,375.82 L617.36,375.61 L617.95,375.39 L618.73,375.18 L619.53,374.96 L620.21,374.75 L620.69,374.53Z" fill="#52B6EC" stroke="#151515" stroke-width="0.9"/>
<path d="M630.10,372.82 L630.41,373.25 L630.89,373.68 L631.57,374.11 L632.37,374.53 L633.15,374.96 L633.74,375.39 L633.95,375.82 L633.74,376.25 L633.15,376.68 L632.37,377.11 L631.57,377.53 L630.89,377.96 L630.41,378.39 L630.10,378.82 L629.79,378.39 L629.31,377.96 L628.63,377.53 L627.83,377.11 L627.05,376.68 L626.46,376.25 L626.25,375.82 L626.46,375.39 L627.05,374.96 L627.83,374.53 L628.63,374.11 L629.31,373.68 L629.79,373.25Z" fill="#52B6EC" stroke="#151515" stroke-width="0.9"/>
<path d="M643.20,365.52 L643.57,366.99 L644.15,368.46 L644.96,369.93 L645.93,371.41 L646.87,372.88 L647.56,374.35 L647.82,375.82 L647.56,377.29 L646.87,378.76 L645.93,380.23 L644.96,381.71 L644.15,383.18 L643.57,384.65 L643.20,386.12 L642.83,384.65 L642.25,383.18 L641.44,381.71 L640.47,380.23 L639.53,378.76 L638.84,377.29 L638.58,375.82 L638.84,374.35 L639.53,372.88 L640.47,371.41 L641.44,369.93 L642.25,368.46 L642.83,366.99Z" fill="#52B6EC" stroke="#151515" stroke-width="0.9"/>
<path d="M652.80,365.52 L653.17,366.99 L653.75,368.46 L654.56,369.93 L655.53,371.41 L656.47,372.88 L657.16,374.35 L657.42,375.82 L657.16,377.29 L656.47,378.76 L655.53,380.23 L654.56,381.71 L653.75,383.18 L653.17,384.65 L652.80,386.12 L652.43,384.65 L651.85,383.18 L651.04,381.71 L650.07,380.23 L649.13,378.76 L648.44,377.29 L648.18,375.82 L648.44,374.35 L649.13,372.88 L650.07,371.41 L651.04,369.93 L651.85,368.46 L652.43,366.99Z" fill="#52B6EC" stroke="#151515" stroke-width="0.9"/>
<path d="M663.00,365.52 L663.37,366.99 L663.95,368.46 L664.76,369.93 L665.73,371.41 L666.67,372.88 L667.36,374.35 L667.62,375.82 L667.36,377.29 L666.67,378.76 L665.73,380.23 L664.76,381.71 L663.95,383.18 L663.37,384.65 L663.00,386.12 L662.63,384.65 L662.05,383.18 L661.24,381.71 L660.27,380.23 L659.33,378.76 L658.64,377.29 L658.38,375.82 L658.64,374.35 L659.33,372.88 L660.27,371.41 L661.24,369.93 L662.05,368.46 L662.63,366.99Z" fill="#52B6EC" stroke="#151515" stroke-width="0.9"/>
<path d="M371.10,397.55 L371.38,397.95 L371.83,398.35 L372.44,398.75 L373.18,399.15 L373.89,399.55 L374.42,399.95 L374.62,400.35 L374.42,400.75 L373.89,401.15 L373.18,401.55 L372.44,401.95 L371.83,402.35 L371.38,402.75 L371.10,403.15 L370.82,402.75 L370.37,402.35 L369.76,401.95 L369.02,401.55 L368.31,401.15 L367.78,400.75 L367.58,400.35 L367.78,399.95 L368.31,399.55 L369.02,399.15 L369.76,398.75 L370.37,398.35 L370.82,397.95Z" fill="#A882FA" stroke="#151515" stroke-width="0.9"/>
<path d="M383.40,389.35 L383.79,390.92 L384.42,392.49 L385.29,394.06 L386.32,395.64 L387.33,397.21 L388.07,398.78 L388.35,400.35 L388.07,401.92 L387.33,403.49 L386.32,405.06 L385.29,406.64 L384.42,408.21 L383.79,409.78 L383.40,411.35 L383.01,409.78 L382.38,408.21 L381.51,406.64 L380.48,405.06 L379.47,403.49 L378.73,401.92 L378.45,400.35 L378.73,398.78 L379.47,397.21 L380.48,395.64 L381.51,394.06 L382.38,392.49 L383.01,390.92Z" fill="#A882FA" stroke="#151515" stroke-width="0.9"/>
<path d="M402.60,398.85 L402.82,399.06 L403.17,399.28 L403.65,399.49 L404.22,399.71 L404.78,399.92 L405.20,400.14 L405.35,400.35 L405.20,400.56 L404.78,400.78 L404.22,400.99 L403.65,401.21 L403.17,401.42 L402.82,401.64 L402.60,401.85 L402.38,401.64 L402.03,401.42 L401.55,401.21 L400.98,400.99 L400.42,400.78 L400.00,400.56 L399.85,400.35 L400.00,400.14 L400.42,399.92 L400.98,399.71 L401.55,399.49 L402.03,399.28 L402.38,399.06Z" fill="#A882FA" stroke="#151515" stroke-width="0.9"/>
<path d="M432.40,397.35 L432.59,397.78 L432.90,398.21 L433.32,398.64 L433.83,399.06 L434.32,399.49 L434.68,399.92 L434.82,400.35 L434.68,400.78 L434.32,401.21 L433.83,401.64 L433.32,402.06 L432.90,402.49 L432.59,402.92 L432.40,403.35 L432.21,402.92 L431.90,402.49 L431.48,402.06 L430.97,401.64 L430.48,401.21 L430.12,400.78 L429.98,400.35 L430.12,399.92 L430.48,399.49 L430.97,399.06 L431.48,398.64 L431.90,398.21 L432.21,397.78Z" fill="#A882FA" stroke="#151515" stroke-width="0.9"/>
<path d="M506.70,398.35 L506.96,398.64 L507.38,398.92 L507.96,399.21 L508.65,399.49 L509.32,399.78 L509.82,400.06 L510.00,400.35 L509.82,400.64 L509.32,400.92 L508.65,401.21 L507.96,401.49 L507.38,401.78 L506.96,402.06 L506.70,402.35 L506.44,402.06 L506.02,401.78 L505.44,401.49 L504.75,401.21 L504.08,400.92 L503.58,400.64 L503.40,400.35 L503.58,400.06 L504.08,399.78 L504.75,399.49 L505.44,399.21 L506.02,398.92 L506.44,398.64Z" fill="#A882FA" stroke="#151515" stroke-width="0.9"/>
<path d="M538.30,394.25 L538.63,395.12 L539.16,395.99 L539.90,396.86 L540.77,397.74 L541.62,398.61 L542.25,399.48 L542.48,400.35 L542.25,401.22 L541.62,402.09 L540.77,402.96 L539.90,403.84 L539.16,404.71 L538.63,405.58 L538.30,406.45 L537.97,405.58 L537.44,404.71 L536.70,403.84 L535.83,402.96 L534.98,402.09 L534.35,401.22 L534.12,400.35 L534.35,399.48 L534.98,398.61 L535.83,397.74 L536.70,396.86 L537.44,395.99 L537.97,395.12Z" fill="#A882FA" stroke="#151515" stroke-width="0.9"/>
<path d="M557.70,399.35 L557.92,399.49 L558.27,399.64 L558.75,399.78 L559.32,399.92 L559.88,400.06 L560.30,400.21 L560.45,400.35 L560.30,400.49 L559.88,400.64 L559.32,400.78 L558.75,400.92 L558.27,401.06 L557.92,401.21 L557.70,401.35 L557.48,401.21 L557.13,401.06 L556.65,400.92 L556.08,400.78 L555.52,400.64 L555.10,400.49 L554.95,400.35 L555.10,400.21 L555.52,400.06 L556.08,399.92 L556.65,399.78 L557.13,399.64 L557.48,399.49Z" fill="#A882FA" stroke="#151515" stroke-width="0.9"/>
<path d="M568.40,398.85 L568.62,399.06 L568.97,399.28 L569.45,399.49 L570.02,399.71 L570.58,399.92 L571.00,400.14 L571.15,400.35 L571.00,400.56 L570.58,400.78 L570.02,400.99 L569.45,401.21 L568.97,401.42 L568.62,401.64 L568.40,401.85 L568.18,401.64 L567.83,401.42 L567.35,401.21 L566.78,400.99 L566.22,400.78 L565.80,400.56 L565.65,400.35 L565.80,400.14 L566.22,399.92 L566.78,399.71 L567.35,399.49 L567.83,399.28 L568.18,399.06Z" fill="#A882FA" stroke="#151515" stroke-width="0.9"/>
<path d="M643.20,389.35 L643.57,390.92 L644.15,392.49 L644.96,394.06 L645.93,395.64 L646.87,397.21 L647.56,398.78 L647.82,400.35 L647.56,401.92 L646.87,403.49 L645.93,405.06 L644.96,406.64 L644.15,408.21 L643.57,409.78 L643.20,411.35 L642.83,409.78 L642.25,408.21 L641.44,406.64 L640.47,405.06 L639.53,403.49 L638.84,401.92 L638.58,400.35 L638.84,398.78 L639.53,397.21 L640.47,395.64 L641.44,394.06 L642.25,392.49 L642.83,390.92Z" fill="#A882FA" stroke="#151515" stroke-width="0.9"/>
<path d="M652.80,389.35 L653.17,390.92 L653.75,392.49 L654.56,394.06 L655.53,395.64 L656.47,397.21 L657.16,398.78 L657.42,400.35 L657.16,401.92 L656.47,403.49 L655.53,405.06 L654.56,406.64 L653.75,408.21 L653.17,409.78 L652.80,411.35 L652.43,409.78 L651.85,408.21 L651.04,406.64 L650.07,405.06 L649.13,403.49 L648.44,401.92 L648.18,400.35 L648.44,398.78 L649.13,397.21 L650.07,395.64 L651.04,394.06 L651.85,392.49 L652.43,390.92Z" fill="#A882FA" stroke="#151515" stroke-width="0.9"/>
<path d="M663.00,389.35 L663.37,390.92 L663.95,392.49 L664.76,394.06 L665.73,395.64 L666.67,397.21 L667.36,398.78 L667.62,400.35 L667.36,401.92 L666.67,403.49 L665.73,405.06 L664.76,406.64 L663.95,408.21 L663.37,409.78 L663.00,411.35 L662.63,409.78 L662.05,408.21 L661.24,406.64 L660.27,405.06 L659.33,403.49 L658.64,401.92 L658.38,400.35 L658.64,398.78 L659.33,397.21 L660.27,395.64 L661.24,394.06 L662.05,392.49 L662.63,390.92Z" fill="#A882FA" stroke="#151515" stroke-width="0.9"/>
<path d="M381.90,413.78 L382.25,415.37 L382.81,416.95 L383.58,418.54 L384.50,420.12 L385.39,421.71 L386.05,423.29 L386.30,424.88 L386.05,426.47 L385.39,428.05 L384.50,429.64 L383.58,431.22 L382.81,432.81 L382.25,434.39 L381.90,435.98 L381.55,434.39 L380.99,432.81 L380.22,431.22 L379.30,429.64 L378.41,428.05 L377.75,426.47 L377.50,424.88 L377.75,423.29 L378.41,421.71 L379.30,420.12 L380.22,418.54 L380.99,416.95 L381.55,415.37Z" fill="#F464D8" stroke="#151515" stroke-width="0.9"/>
<path d="M392.60,421.88 L392.90,422.31 L393.37,422.74 L394.03,423.17 L394.81,423.59 L395.57,424.02 L396.13,424.45 L396.34,424.88 L396.13,425.31 L395.57,425.74 L394.81,426.17 L394.03,426.59 L393.37,427.02 L392.90,427.45 L392.60,427.88 L392.30,427.45 L391.83,427.02 L391.17,426.59 L390.39,426.17 L389.63,425.74 L389.07,425.31 L388.86,424.88 L389.07,424.45 L389.63,424.02 L390.39,423.59 L391.17,423.17 L391.83,422.74 L392.30,422.31Z" fill="#F464D8" stroke="#151515" stroke-width="0.9"/>
<path d="M402.60,418.38 L402.99,419.31 L403.62,420.24 L404.49,421.17 L405.52,422.09 L406.53,423.02 L407.27,423.95 L407.55,424.88 L407.27,425.81 L406.53,426.74 L405.52,427.67 L404.49,428.59 L403.62,429.52 L402.99,430.45 L402.60,431.38 L402.21,430.45 L401.58,429.52 L400.71,428.59 L399.68,427.67 L398.67,426.74 L397.93,425.81 L397.65,424.88 L397.93,423.95 L398.67,423.02 L399.68,422.09 L400.71,421.17 L401.58,420.24 L402.21,419.31Z" fill="#F464D8" stroke="#151515" stroke-width="0.9"/>
<path d="M412.50,421.88 L412.80,422.31 L413.27,422.74 L413.93,423.17 L414.71,423.59 L415.47,424.02 L416.03,424.45 L416.24,424.88 L416.03,425.31 L415.47,425.74 L414.71,426.17 L413.93,426.59 L413.27,427.02 L412.80,427.45 L412.50,427.88 L412.20,427.45 L411.73,427.02 L411.07,426.59 L410.29,426.17 L409.53,425.74 L408.97,425.31 L408.76,424.88 L408.97,424.45 L409.53,424.02 L410.29,423.59 L411.07,423.17 L411.73,422.74 L412.20,422.31Z" fill="#F464D8" stroke="#151515" stroke-width="0.9"/>
<path d="M422.90,421.88 L423.20,422.31 L423.67,422.74 L424.33,423.17 L425.11,423.59 L425.87,424.02 L426.43,424.45 L426.64,424.88 L426.43,425.31 L425.87,425.74 L425.11,426.17 L424.33,426.59 L423.67,427.02 L423.20,427.45 L422.90,427.88 L422.60,427.45 L422.13,427.02 L421.47,426.59 L420.69,426.17 L419.93,425.74 L419.37,425.31 L419.16,424.88 L419.37,424.45 L419.93,424.02 L420.69,423.59 L421.47,423.17 L422.13,422.74 L422.60,422.31Z" fill="#F464D8" stroke="#151515" stroke-width="0.9"/>
<path d="M432.00,421.88 L432.22,422.31 L432.57,422.74 L433.05,423.17 L433.62,423.59 L434.18,424.02 L434.60,424.45 L434.75,424.88 L434.60,425.31 L434.18,425.74 L433.62,426.17 L433.05,426.59 L432.57,427.02 L432.22,427.45 L432.00,427.88 L431.78,427.45 L431.43,427.02 L430.95,426.59 L430.38,426.17 L429.82,425.74 L429.40,425.31 L429.25,424.88 L429.40,424.45 L429.82,424.02 L430.38,423.59 L430.95,423.17 L431.43,422.74 L431.78,422.31Z" fill="#F464D8" stroke="#151515" stroke-width="0.9"/>
<path d="M464.60,423.88 L464.73,424.02 L464.94,424.17 L465.23,424.31 L465.57,424.45 L465.91,424.59 L466.16,424.74 L466.25,424.88 L466.16,425.02 L465.91,425.17 L465.57,425.31 L465.23,425.45 L464.94,425.59 L464.73,425.74 L464.60,425.88 L464.47,425.74 L464.26,425.59 L463.97,425.45 L463.63,425.31 L463.29,425.17 L463.04,425.02 L462.95,424.88 L463.04,424.74 L463.29,424.59 L463.63,424.45 L463.97,424.31 L464.26,424.17 L464.47,424.02Z" fill="#F464D8" stroke="#151515" stroke-width="0.9"/>
<path d="M475.40,414.88 L475.79,416.31 L476.42,417.74 L477.29,419.17 L478.32,420.59 L479.33,422.02 L480.07,423.45 L480.35,424.88 L480.07,426.31 L479.33,427.74 L478.32,429.17 L477.29,430.59 L476.42,432.02 L475.79,433.45 L475.40,434.88 L475.01,433.45 L474.38,432.02 L473.51,430.59 L472.48,429.17 L471.47,427.74 L470.73,426.31 L470.45,424.88 L470.73,423.45 L471.47,422.02 L472.48,420.59 L473.51,419.17 L474.38,417.74 L475.01,416.31Z" fill="#F464D8" stroke="#151515" stroke-width="0.9"/>
<path d="M506.40,419.48 L506.73,420.25 L507.26,421.02 L508.00,421.79 L508.87,422.57 L509.72,423.34 L510.35,424.11 L510.58,424.88 L510.35,425.65 L509.72,426.42 L508.87,427.19 L508.00,427.97 L507.26,428.74 L506.73,429.51 L506.40,430.28 L506.07,429.51 L505.54,428.74 L504.80,427.97 L503.93,427.19 L503.08,426.42 L502.45,425.65 L502.22,424.88 L502.45,424.11 L503.08,423.34 L503.93,422.57 L504.80,421.79 L505.54,421.02 L506.07,420.25Z" fill="#F464D8" stroke="#151515" stroke-width="0.9"/>
<path d="M566.80,423.38 L566.98,423.59 L567.25,423.81 L567.64,424.02 L568.10,424.24 L568.55,424.45 L568.88,424.67 L569.00,424.88 L568.88,425.09 L568.55,425.31 L568.10,425.52 L567.64,425.74 L567.25,425.95 L566.98,426.17 L566.80,426.38 L566.62,426.17 L566.35,425.95 L565.96,425.74 L565.50,425.52 L565.05,425.31 L564.72,425.09 L564.60,424.88 L564.72,424.67 L565.05,424.45 L565.50,424.24 L565.96,424.02 L566.35,423.81 L566.62,423.59Z" fill="#F464D8" stroke="#151515" stroke-width="0.9"/>
<path d="M643.20,414.58 L643.57,416.05 L644.15,417.52 L644.96,418.99 L645.93,420.47 L646.87,421.94 L647.56,423.41 L647.82,424.88 L647.56,426.35 L646.87,427.82 L645.93,429.29 L644.96,430.77 L644.15,432.24 L643.57,433.71 L643.20,435.18 L642.83,433.71 L642.25,432.24 L641.44,430.77 L640.47,429.29 L639.53,427.82 L638.84,426.35 L638.58,424.88 L638.84,423.41 L639.53,421.94 L640.47,420.47 L641.44,418.99 L642.25,417.52 L642.83,416.05Z" fill="#F464D8" stroke="#151515" stroke-width="0.9"/>
<path d="M652.80,414.58 L653.17,416.05 L653.75,417.52 L654.56,418.99 L655.53,420.47 L656.47,421.94 L657.16,423.41 L657.42,424.88 L657.16,426.35 L656.47,427.82 L655.53,429.29 L654.56,430.77 L653.75,432.24 L653.17,433.71 L652.80,435.18 L652.43,433.71 L651.85,432.24 L651.04,430.77 L650.07,429.29 L649.13,427.82 L648.44,426.35 L648.18,424.88 L648.44,423.41 L649.13,421.94 L650.07,420.47 L651.04,418.99 L651.85,417.52 L652.43,416.05Z" fill="#F464D8" stroke="#151515" stroke-width="0.9"/>
<path d="M663.00,414.58 L663.37,416.05 L663.95,417.52 L664.76,418.99 L665.73,420.47 L666.67,421.94 L667.36,423.41 L667.62,424.88 L667.36,426.35 L666.67,427.82 L665.73,429.29 L664.76,430.77 L663.95,432.24 L663.37,433.71 L663.00,435.18 L662.63,433.71 L662.05,432.24 L661.24,430.77 L660.27,429.29 L659.33,427.82 L658.64,426.35 L658.38,424.88 L658.64,423.41 L659.33,421.94 L660.27,420.47 L661.24,418.99 L662.05,417.52 L662.63,416.05Z" fill="#F464D8" stroke="#151515" stroke-width="0.9"/>
<line x1="364.90" y1="277.70" x2="367.50" y2="277.70" stroke="#555" stroke-width="0.8"/>
<text x="0" y="0" font-size="11.6" text-anchor="end" fill="#111" transform="translate(365.90,283.70) rotate(-45)">NK</text>
<line x1="364.90" y1="302.23" x2="367.50" y2="302.23" stroke="#555" stroke-width="0.8"/>
<text x="0" y="0" font-size="11.6" text-anchor="end" fill="#111" transform="translate(365.90,303.03) rotate(-45)">CD8+Tstr</text>
<line x1="364.90" y1="326.76" x2="367.50" y2="326.76" stroke="#555" stroke-width="0.8"/>
<text x="0" y="0" font-size="11.6" text-anchor="end" fill="#111" transform="translate(365.90,327.56) rotate(-45)">CD8+Tef</text>
<line x1="364.90" y1="351.29" x2="367.50" y2="351.29" stroke="#555" stroke-width="0.8"/>
<text x="0" y="0" font-size="11.6" text-anchor="end" fill="#111" transform="translate(365.90,352.09) rotate(-45)">CD4+Tregs</text>
<line x1="364.90" y1="375.82" x2="367.50" y2="375.82" stroke="#555" stroke-width="0.8"/>
<text x="0" y="0" font-size="11.6" text-anchor="end" fill="#111" transform="translate(365.90,376.62) rotate(-45)">CD4+Tisg</text>
<line x1="364.90" y1="400.35" x2="367.50" y2="400.35" stroke="#555" stroke-width="0.8"/>
<text x="0" y="0" font-size="11.6" text-anchor="end" fill="#111" transform="translate(365.90,401.15) rotate(-45)">CD4+Th</text>
<line x1="364.90" y1="424.88" x2="367.50" y2="424.88" stroke="#555" stroke-width="0.8"/>
<text x="0" y="0" font-size="11.6" text-anchor="end" fill="#111" transform="translate(365.90,425.68) rotate(-45)">CD4+Tex</text>
<text x="0" y="0" font-size="11.3" fill="#111" transform="translate(368.57,441.00) rotate(90)">CD40LG</text>
<text x="0" y="0" font-size="11.3" fill="#111" transform="translate(378.93,441.00) rotate(90)">IL7R</text>
<text x="0" y="0" font-size="11.3" fill="#111" transform="translate(389.27,441.00) rotate(90)">PDCD1</text>
<text x="0" y="0" font-size="11.3" fill="#111" transform="translate(399.62,441.00) rotate(90)">TCF7</text>
<text x="0" y="0" font-size="11.3" fill="#111" transform="translate(409.97,441.00) rotate(90)">SELL</text>
<text x="0" y="0" font-size="11.3" fill="#111" transform="translate(420.32,441.00) rotate(90)">CCR7</text>
<text x="0" y="0" font-size="11.3" fill="#111" transform="translate(430.68,441.00) rotate(90)">ISG15</text>
<text x="0" y="0" font-size="11.3" fill="#111" transform="translate(441.02,441.00) rotate(90)">IFIT3</text>
<text x="0" y="0" font-size="11.3" fill="#111" transform="translate(451.38,441.00) rotate(90)">IFI44L</text>
<text x="0" y="0" font-size="11.3" fill="#111" transform="translate(461.72,441.00) rotate(90)">CTLA4</text>
<text x="0" y="0" font-size="11.3" fill="#111" transform="translate(472.07,441.00) rotate(90)">TIGIT</text>
<text x="0" y="0" font-size="11.3" fill="#111" transform="translate(482.43,441.00) rotate(90)">IL2RA</text>
<text x="0" y="0" font-size="11.3" fill="#111" transform="translate(492.77,441.00) rotate(90)">FOXP3</text>
<text x="0" y="0" font-size="11.3" fill="#111" transform="translate(503.12,441.00) rotate(90)">CD4</text>
<text x="0" y="0" font-size="11.3" fill="#111" transform="translate(513.47,441.00) rotate(90)">GZMB</text>
<text x="0" y="0" font-size="11.3" fill="#111" transform="translate(523.82,441.00) rotate(90)">GZMH</text>
<text x="0" y="0" font-size="11.3" fill="#111" transform="translate(534.17,441.00) rotate(90)">GZMA</text>
<text x="0" y="0" font-size="11.3" fill="#111" transform="translate(544.52,441.00) rotate(90)">KLRG1</text>
<text x="0" y="0" font-size="11.3" fill="#111" transform="translate(554.87,441.00) rotate(90)">HSPA1B</text>
<text x="0" y="0" font-size="11.3" fill="#111" transform="translate(565.22,441.00) rotate(90)">HSPA1A</text>
<text x="0" y="0" font-size="11.3" fill="#111" transform="translate(575.57,441.00) rotate(90)">CD8B</text>
<text x="0" y="0" font-size="11.3" fill="#111" transform="translate(585.92,441.00) rotate(90)">CD8A</text>
<text x="0" y="0" font-size="11.3" fill="#111" transform="translate(596.27,441.00) rotate(90)">XCL1</text>
<text x="0" y="0" font-size="11.3" fill="#111" transform="translate(606.62,441.00) rotate(90)">GNLY</text>
<text x="0" y="0" font-size="11.3" fill="#111" transform="translate(616.97,441.00) rotate(90)">NKG7</text>
<text x="0" y="0" font-size="11.3" fill="#111" transform="translate(627.32,441.00) rotate(90)">CTSW</text>
<text x="0" y="0" font-size="11.3" fill="#111" transform="translate(637.67,441.00) rotate(90)">CD3G</text>
<text x="0" y="0" font-size="11.3" fill="#111" transform="translate(648.02,441.00) rotate(90)">CD3E</text>
<text x="0" y="0" font-size="11.3" fill="#111" transform="translate(658.37,441.00) rotate(90)">CD3D</text>
<text x="456.20" y="245.40" font-size="13.5" text-anchor="start" font-weight="bold" fill="#111" textLength="111.4" lengthAdjust="spacingAndGlyphs" >Expression Level</text>
<text x="0" y="0" font-size="14" font-weight="bold" fill="#111" text-anchor="middle" transform="translate(314.0,350.6) rotate(90)">Identity</text>
<defs><pattern id="speck" width="17" height="17" patternUnits="userSpaceOnUse"><g fill="#FFFFFF" fill-opacity="0.8"><rect x="14" y="14" width="1" height="1"/><rect x="14" y="16" width="1" height="1"/><rect x="6" y="5" width="1" height="1"/><rect x="16" y="15" width="1" height="1"/><rect x="5" y="3" width="1" height="1"/><rect x="14" y="9" width="1" height="1"/><rect x="4" y="2" width="1" height="1"/><rect x="1" y="12" width="1" height="1"/><rect x="14" y="5" width="1" height="1"/><rect x="0" y="16" width="1" height="1"/><rect x="2" y="1" width="1" height="1"/><rect x="1" y="6" width="1" height="1"/><rect x="7" y="0" width="1" height="1"/><rect x="14" y="10" width="1" height="1"/><rect x="14" y="6" width="1" height="1"/><rect x="16" y="7" width="1" height="1"/><rect x="9" y="15" width="1" height="1"/><rect x="0" y="2" width="1" height="1"/><rect x="14" y="8" width="1" height="1"/><rect x="13" y="2" width="1" height="1"/><rect x="8" y="10" width="1" height="1"/><rect x="7" y="16" width="1" height="1"/><rect x="9" y="0" width="1" height="1"/><rect x="2" y="3" width="1" height="1"/><rect x="12" y="3" width="1" height="1"/><rect x="9" y="12" width="1" height="1"/><rect x="2" y="0" width="1" height="1"/><rect x="0" y="6" width="1" height="1"/><rect x="6" y="1" width="1" height="1"/><rect x="15" y="12" width="1" height="1"/><rect x="12" y="13" width="2" height="2"/><rect x="2" y="6" width="2" height="2"/><rect x="8" y="10" width="2" height="2"/><rect x="2" y="9" width="2" height="2"/></g></pattern></defs>
<path d="M142.3,44.5 L145.3,43.0 L148.4,38.9 L152.5,37.4 L156.6,36.3 L160.7,37.9 L164.7,38.9 L168.8,40.4 L171.9,36.9 L176.0,36.3 L180.1,39.4 L184.2,41.5 L187.2,44.5 L190.3,47.6 L191.3,50.7 L191.8,54.7 L193.4,57.8 L195.4,60.9 L194.4,65.0 L191.3,66.0 L188.2,68.0 L185.2,69.0 L181.1,72.1 L179.0,76.2 L178.0,80.3 L175.0,83.4 L171.9,84.4 L168.8,81.3 L165.8,82.3 L163.7,80.3 L160.7,78.2 L157.6,75.2 L153.5,75.2 L149.4,74.2 L146.3,71.1 L144.3,67.0 L143.3,62.9 L142.3,58.8 L142.8,53.7 L141.2,49.6Z" fill="#E08A34" stroke="#E08A34" stroke-width="2.2" stroke-linecap="round" stroke-dasharray="0.01 2.3"/><path d="M142.3,44.5 L145.3,43.0 L148.4,38.9 L152.5,37.4 L156.6,36.3 L160.7,37.9 L164.7,38.9 L168.8,40.4 L171.9,36.9 L176.0,36.3 L180.1,39.4 L184.2,41.5 L187.2,44.5 L190.3,47.6 L191.3,50.7 L191.8,54.7 L193.4,57.8 L195.4,60.9 L194.4,65.0 L191.3,66.0 L188.2,68.0 L185.2,69.0 L181.1,72.1 L179.0,76.2 L178.0,80.3 L175.0,83.4 L171.9,84.4 L168.8,81.3 L165.8,82.3 L163.7,80.3 L160.7,78.2 L157.6,75.2 L153.5,75.2 L149.4,74.2 L146.3,71.1 L144.3,67.0 L143.3,62.9 L142.3,58.8 L142.8,53.7 L141.2,49.6Z" fill="url(#speck)"/>
<path d="M116.9,56.2 L120.4,51.5 L125.0,49.2 L129.7,48.6 L134.4,48.0 L139.1,49.2 L141.4,51.5 L142.6,55.0 L143.1,59.7 L141.4,62.0 L143.7,64.4 L144.9,69.1 L148.4,71.4 L153.1,74.9 L156.6,76.1 L160.1,79.6 L161.2,84.2 L158.9,88.9 L155.4,91.2 L150.7,92.4 L147.2,94.7 L142.6,94.7 L139.1,95.3 L135.5,91.2 L133.2,87.7 L131.5,83.1 L132.0,79.6 L129.7,77.2 L126.2,76.1 L122.7,73.7 L119.8,70.2 L117.4,66.7 L116.3,62.0Z" fill="#CC9A2C" stroke="#CC9A2C" stroke-width="2.2" stroke-linecap="round" stroke-dasharray="0.01 2.3"/><path d="M116.9,56.2 L120.4,51.5 L125.0,49.2 L129.7,48.6 L134.4,48.0 L139.1,49.2 L141.4,51.5 L142.6,55.0 L143.1,59.7 L141.4,62.0 L143.7,64.4 L144.9,69.1 L148.4,71.4 L153.1,74.9 L156.6,76.1 L160.1,79.6 L161.2,84.2 L158.9,88.9 L155.4,91.2 L150.7,92.4 L147.2,94.7 L142.6,94.7 L139.1,95.3 L135.5,91.2 L133.2,87.7 L131.5,83.1 L132.0,79.6 L129.7,77.2 L126.2,76.1 L122.7,73.7 L119.8,70.2 L117.4,66.7 L116.3,62.0Z" fill="url(#speck)"/>
<path d="M119.2,42.2 L122.1,39.3 L125.0,38.1 L128.5,37.5 L131.5,38.7 L132.6,41.0 L130.3,41.6 L127.4,41.0 L124.5,41.6 L121.5,43.4Z" fill="#CC9A2C" stroke="#CC9A2C" stroke-width="2.2" stroke-linecap="round" stroke-dasharray="0.01 2.3"/><path d="M119.2,42.2 L122.1,39.3 L125.0,38.1 L128.5,37.5 L131.5,38.7 L132.6,41.0 L130.3,41.6 L127.4,41.0 L124.5,41.6 L121.5,43.4Z" fill="url(#speck)"/>
<path d="M49.3,118.5 L51.1,115.0 L54.0,112.1 L57.5,108.0 L61.0,105.7 L64.5,103.4 L69.2,102.2 L73.9,103.4 L77.4,101.0 L80.3,99.9 L83.2,101.6 L86.7,101.0 L89.1,96.4 L91.4,94.6 L93.7,96.4 L94.9,100.4 L98.4,102.2 L100.7,104.5 L101.3,109.2 L103.1,111.5 L106.6,111.5 L108.9,113.9 L107.7,118.5 L105.4,123.2 L101.9,127.9 L99.6,132.6 L97.2,136.1 L94.9,139.6 L91.4,141.9 L89.1,143.6 L85.5,144.2 L82.0,143.6 L77.4,143.6 L73.9,141.9 L70.4,139.6 L66.9,136.1 L63.4,133.7 L58.7,129.1 L55.2,126.7 L51.7,123.2Z" fill="#EE6E6E" stroke="#EE6E6E" stroke-width="2.2" stroke-linecap="round" stroke-dasharray="0.01 2.3"/><path d="M49.3,118.5 L51.1,115.0 L54.0,112.1 L57.5,108.0 L61.0,105.7 L64.5,103.4 L69.2,102.2 L73.9,103.4 L77.4,101.0 L80.3,99.9 L83.2,101.6 L86.7,101.0 L89.1,96.4 L91.4,94.6 L93.7,96.4 L94.9,100.4 L98.4,102.2 L100.7,104.5 L101.3,109.2 L103.1,111.5 L106.6,111.5 L108.9,113.9 L107.7,118.5 L105.4,123.2 L101.9,127.9 L99.6,132.6 L97.2,136.1 L94.9,139.6 L91.4,141.9 L89.1,143.6 L85.5,144.2 L82.0,143.6 L77.4,143.6 L73.9,141.9 L70.4,139.6 L66.9,136.1 L63.4,133.7 L58.7,129.1 L55.2,126.7 L51.7,123.2Z" fill="url(#speck)"/>
<path d="M53.4,88.8 L56.4,88.2 L57.5,91.7 L56.9,95.2 L54.6,95.8 L52.8,92.8Z" fill="#EE6E6E" stroke="#EE6E6E" stroke-width="2.2" stroke-linecap="round" stroke-dasharray="0.01 2.3"/><path d="M53.4,88.8 L56.4,88.2 L57.5,91.7 L56.9,95.2 L54.6,95.8 L52.8,92.8Z" fill="url(#speck)"/>
<path d="M102.3,80.7 L104.0,77.2 L106.9,74.9 L108.7,70.2 L110.4,69.6 L113.4,72.6 L115.1,76.1 L116.3,80.7 L118.0,85.4 L120.4,88.9 L123.9,91.2 L127.4,93.6 L129.7,97.1 L131.2,98.7 L132.4,103.4 L134.7,106.9 L137.0,109.2 L134.7,110.4 L130.0,109.8 L126.5,110.4 L123.0,108.0 L118.4,105.7 L113.7,105.7 L110.2,103.4 L109.0,99.9 L111.4,97.5 L107.8,94.0 L104.3,91.7 L102.6,88.2 L102.6,84.7 L103.2,81.2Z" fill="#B4A32A" stroke="#B4A32A" stroke-width="2.2" stroke-linecap="round" stroke-dasharray="0.01 2.3"/><path d="M102.3,80.7 L104.0,77.2 L106.9,74.9 L108.7,70.2 L110.4,69.6 L113.4,72.6 L115.1,76.1 L116.3,80.7 L118.0,85.4 L120.4,88.9 L123.9,91.2 L127.4,93.6 L129.7,97.1 L131.2,98.7 L132.4,103.4 L134.7,106.9 L137.0,109.2 L134.7,110.4 L130.0,109.8 L126.5,110.4 L123.0,108.0 L118.4,105.7 L113.7,105.7 L110.2,103.4 L109.0,99.9 L111.4,97.5 L107.8,94.0 L104.3,91.7 L102.6,88.2 L102.6,84.7 L103.2,81.2Z" fill="url(#speck)"/>
<path d="M48.0,60.3 L50.9,57.4 L55.0,53.9 L58.5,50.9 L62.0,48.6 L65.0,47.4 L66.7,45.7 L69.1,43.9 L71.4,43.4 L72.0,45.1 L69.6,47.4 L70.2,49.2 L73.1,48.6 L72.6,50.4 L69.1,50.4 L67.3,52.1 L67.9,55.0 L66.7,58.5 L67.9,64.4 L68.5,70.2 L66.7,74.9 L66.1,78.4 L63.2,80.7 L62.0,83.6 L58.5,84.2 L55.0,83.6 L51.5,83.6 L48.6,84.2 L47.4,80.7 L45.1,77.2 L45.1,71.4 L46.3,66.7 L47.4,63.2Z" fill="#8EB02A" stroke="#8EB02A" stroke-width="2.2" stroke-linecap="round" stroke-dasharray="0.01 2.3"/><path d="M48.0,60.3 L50.9,57.4 L55.0,53.9 L58.5,50.9 L62.0,48.6 L65.0,47.4 L66.7,45.7 L69.1,43.9 L71.4,43.4 L72.0,45.1 L69.6,47.4 L70.2,49.2 L73.1,48.6 L72.6,50.4 L69.1,50.4 L67.3,52.1 L67.9,55.0 L66.7,58.5 L67.9,64.4 L68.5,70.2 L66.7,74.9 L66.1,78.4 L63.2,80.7 L62.0,83.6 L58.5,84.2 L55.0,83.6 L51.5,83.6 L48.6,84.2 L47.4,80.7 L45.1,77.2 L45.1,71.4 L46.3,66.7 L47.4,63.2Z" fill="url(#speck)"/>
<path d="M105.5,118.5 L109.0,116.2 L112.5,115.0 L116.0,117.4 L119.5,119.7 L123.0,122.0 L127.7,126.7 L132.4,129.1 L134.7,131.4 L133.5,134.9 L130.0,137.2 L126.5,138.4 L123.0,139.6 L119.5,140.7 L117.2,143.1 L113.7,144.2 L110.2,144.2 L107.8,141.9 L106.7,138.4 L107.8,134.9 L109.0,131.4 L106.7,127.9 L106.1,124.4Z" fill="#6ABF2A" stroke="#6ABF2A" stroke-width="2.2" stroke-linecap="round" stroke-dasharray="0.01 2.3"/><path d="M105.5,118.5 L109.0,116.2 L112.5,115.0 L116.0,117.4 L119.5,119.7 L123.0,122.0 L127.7,126.7 L132.4,129.1 L134.7,131.4 L133.5,134.9 L130.0,137.2 L126.5,138.4 L123.0,139.6 L119.5,140.7 L117.2,143.1 L113.7,144.2 L110.2,144.2 L107.8,141.9 L106.7,138.4 L107.8,134.9 L109.0,131.4 L106.7,127.9 L106.1,124.4Z" fill="url(#speck)"/>
<path d="M137.4,165.4 L139.6,164.3 L142.5,164.7 L145.4,164.0 L147.6,162.2 L149.8,161.4 L152.7,162.2 L155.7,164.0 L157.8,166.2 L160.8,166.2 L162.2,168.4 L160.8,170.5 L157.8,170.5 L156.4,172.7 L155.7,176.4 L154.9,179.3 L153.5,180.8 L150.5,182.2 L147.6,182.2 L145.4,181.1 L143.2,180.0 L142.5,177.1 L141.8,174.2 L139.6,174.2 L137.4,172.7 L137.8,169.8 L137.4,167.6Z" fill="#4CC83C" stroke="#4CC83C" stroke-width="2.2" stroke-linecap="round" stroke-dasharray="0.01 2.3"/><path d="M137.4,165.4 L139.6,164.3 L142.5,164.7 L145.4,164.0 L147.6,162.2 L149.8,161.4 L152.7,162.2 L155.7,164.0 L157.8,166.2 L160.8,166.2 L162.2,168.4 L160.8,170.5 L157.8,170.5 L156.4,172.7 L155.7,176.4 L154.9,179.3 L153.5,180.8 L150.5,182.2 L147.6,182.2 L145.4,181.1 L143.2,180.0 L142.5,177.1 L141.8,174.2 L139.6,174.2 L137.4,172.7 L137.8,169.8 L137.4,167.6Z" fill="url(#speck)"/>
<path d="M140.7,161.8 L142.5,158.9 L144.7,157.8 L146.9,157.4 L148.7,158.1 L148.4,159.6 L146.2,159.2 L144.0,160.0 L142.2,162.5Z" fill="#4CC83C" stroke="#4CC83C" stroke-width="2.2" stroke-linecap="round" stroke-dasharray="0.01 2.3"/><path d="M140.7,161.8 L142.5,158.9 L144.7,157.8 L146.9,157.4 L148.7,158.1 L148.4,159.6 L146.2,159.2 L144.0,160.0 L142.2,162.5Z" fill="url(#speck)"/>
<path d="M135.2,174.2 L136.7,173.8 L139.2,174.9 L139.6,176.4 L137.4,176.4 L135.2,176.0Z" fill="#4CC83C" stroke="#4CC83C" stroke-width="2.2" stroke-linecap="round" stroke-dasharray="0.01 2.3"/><path d="M135.2,174.2 L136.7,173.8 L139.2,174.9 L139.6,176.4 L137.4,176.4 L135.2,176.0Z" fill="url(#speck)"/>
<path d="M99.7,145.4 L102.0,143.6 L106.7,143.1 L111.4,144.2 L116.0,145.4 L119.5,147.2 L120.7,151.2 L119.5,154.7 L117.2,157.7 L113.7,159.4 L109.0,160.0 L104.3,159.4 L100.8,157.7 L99.1,153.6 L98.5,148.9Z" fill="#4CD08C" stroke="#4CD08C" stroke-width="2.2" stroke-linecap="round" stroke-dasharray="0.01 2.3"/><path d="M99.7,145.4 L102.0,143.6 L106.7,143.1 L111.4,144.2 L116.0,145.4 L119.5,147.2 L120.7,151.2 L119.5,154.7 L117.2,157.7 L113.7,159.4 L109.0,160.0 L104.3,159.4 L100.8,157.7 L99.1,153.6 L98.5,148.9Z" fill="url(#speck)"/>
<path d="M79.0,31.1 L81.9,29.3 L85.4,28.8 L90.1,28.2 L94.7,27.6 L100.0,27.2 L93.5,28.2 L97.0,29.9 L100.5,32.8 L104.0,36.4 L107.5,40.4 L108.7,42.2 L106.4,43.4 L104.0,45.1 L101.1,46.3 L98.2,46.3 L95.3,43.4 L92.3,41.6 L94.7,43.4 L90.1,38.7 L85.4,36.4 L81.9,35.8 L79.0,34.0Z" fill="#58D4AC" stroke="#58D4AC" stroke-width="2.2" stroke-linecap="round" stroke-dasharray="0.01 2.3"/><path d="M79.0,31.1 L81.9,29.3 L85.4,28.8 L90.1,28.2 L94.7,27.6 L100.0,27.2 L93.5,28.2 L97.0,29.9 L100.5,32.8 L104.0,36.4 L107.5,40.4 L108.7,42.2 L106.4,43.4 L104.0,45.1 L101.1,46.3 L98.2,46.3 L95.3,43.4 L92.3,41.6 L94.7,43.4 L90.1,38.7 L85.4,36.4 L81.9,35.8 L79.0,34.0Z" fill="url(#speck)"/>
<path d="M153.8,129.0 L156.6,127.2 L159.3,126.1 L161.9,125.2 L164.5,123.7 L166.3,121.7 L167.2,118.9 L169.8,117.2 L172.4,116.3 L175.0,115.8 L176.8,114.5 L177.5,111.9 L179.0,111.5 L179.9,114.5 L182.0,115.4 L184.7,116.3 L186.4,118.0 L187.7,120.7 L187.3,123.3 L184.7,124.6 L182.0,125.0 L179.4,125.0 L176.8,125.5 L174.2,125.9 L171.5,125.9 L168.0,125.2 L166.3,126.1 L164.5,127.2 L162.3,128.5 L159.7,129.6 L157.1,130.5 L154.9,131.3 L153.8,130.5Z" fill="#50D0CC" stroke="#50D0CC" stroke-width="2.2" stroke-linecap="round" stroke-dasharray="0.01 2.3"/><path d="M153.8,129.0 L156.6,127.2 L159.3,126.1 L161.9,125.2 L164.5,123.7 L166.3,121.7 L167.2,118.9 L169.8,117.2 L172.4,116.3 L175.0,115.8 L176.8,114.5 L177.5,111.9 L179.0,111.5 L179.9,114.5 L182.0,115.4 L184.7,116.3 L186.4,118.0 L187.7,120.7 L187.3,123.3 L184.7,124.6 L182.0,125.0 L179.4,125.0 L176.8,125.5 L174.2,125.9 L171.5,125.9 L168.0,125.2 L166.3,126.1 L164.5,127.2 L162.3,128.5 L159.7,129.6 L157.1,130.5 L154.9,131.3 L153.8,130.5Z" fill="url(#speck)"/>
<path d="M153.8,129.0 L156.6,127.2 L159.3,126.1 L161.9,125.2 L164.5,123.7 L166.3,121.7 L167.3,124.2 L166.3,126.1 L164.5,127.2 L162.3,128.5 L159.7,129.6 L157.1,130.5 L154.9,131.3 L153.8,130.5Z" fill="#50D0CC" stroke="#50D0CC" stroke-width="2.2" stroke-linecap="round" stroke-dasharray="0.01 2.3"/><path d="M153.8,129.0 L156.6,127.2 L159.3,126.1 L161.9,125.2 L164.5,123.7 L166.3,121.7 L167.3,124.2 L166.3,126.1 L164.5,127.2 L162.3,128.5 L159.7,129.6 L157.1,130.5 L154.9,131.3 L153.8,130.5Z" fill="url(#speck)"/>
<path d="M140.0,106.6 L143.5,105.8 L145.3,104.9 L147.0,102.3 L147.9,98.8 L148.8,97.0 L150.5,97.9 L152.3,99.6 L154.9,99.6 L156.6,100.5 L157.5,102.3 L155.8,104.0 L154.0,107.5 L153.1,111.0 L152.3,114.5 L153.1,118.0 L153.1,120.7 L151.4,123.3 L148.8,124.2 L146.1,125.0 L144.8,126.8 L143.5,125.0 L142.6,122.4 L143.5,119.8 L143.5,118.0 L142.6,116.3 L140.0,115.0 L139.4,113.3 L138.8,109.2Z" fill="#50C8E8" stroke="#50C8E8" stroke-width="2.2" stroke-linecap="round" stroke-dasharray="0.01 2.3"/><path d="M140.0,106.6 L143.5,105.8 L145.3,104.9 L147.0,102.3 L147.9,98.8 L148.8,97.0 L150.5,97.9 L152.3,99.6 L154.9,99.6 L156.6,100.5 L157.5,102.3 L155.8,104.0 L154.0,107.5 L153.1,111.0 L152.3,114.5 L153.1,118.0 L153.1,120.7 L151.4,123.3 L148.8,124.2 L146.1,125.0 L144.8,126.8 L143.5,125.0 L142.6,122.4 L143.5,119.8 L143.5,118.0 L142.6,116.3 L140.0,115.0 L139.4,113.3 L138.8,109.2Z" fill="url(#speck)"/>
<path d="M147.0,102.3 L147.9,98.8 L148.8,97.0 L150.5,97.9 L152.3,99.6 L154.9,99.6 L156.6,100.5 L157.5,102.3 L155.8,104.0 L154.0,107.5 L151.4,107.5 L148.8,104.9Z" fill="#50C8E8" stroke="#50C8E8" stroke-width="2.2" stroke-linecap="round" stroke-dasharray="0.01 2.3"/><path d="M147.0,102.3 L147.9,98.8 L148.8,97.0 L150.5,97.9 L152.3,99.6 L154.9,99.6 L156.6,100.5 L157.5,102.3 L155.8,104.0 L154.0,107.5 L151.4,107.5 L148.8,104.9Z" fill="url(#speck)"/>
<path d="M80.5,78.4 L81.7,76.0 L84.0,74.3 L86.4,73.7 L89.3,74.3 L90.4,77.2 L90.1,80.7 L90.4,84.2 L89.3,86.5 L87.5,87.7 L85.2,87.7 L83.4,85.9 L82.3,84.2 L80.5,81.9Z" fill="#50B0F8" stroke="#50B0F8" stroke-width="2.2" stroke-linecap="round" stroke-dasharray="0.01 2.3"/><path d="M80.5,78.4 L81.7,76.0 L84.0,74.3 L86.4,73.7 L89.3,74.3 L90.4,77.2 L90.1,80.7 L90.4,84.2 L89.3,86.5 L87.5,87.7 L85.2,87.7 L83.4,85.9 L82.3,84.2 L80.5,81.9Z" fill="url(#speck)"/>
<path d="M92.8,66.7 L93.4,64.3 L95.1,64.3 L95.7,66.4 L96.9,67.3 L99.2,68.4 L100.9,70.2 L102.7,71.6 L101.5,73.1 L100.4,74.9 L99.2,76.6 L97.4,77.2 L95.7,76.6 L95.1,74.9 L93.9,72.5 L93.1,70.2Z" fill="#50B0F8" stroke="#50B0F8" stroke-width="2.2" stroke-linecap="round" stroke-dasharray="0.01 2.3"/><path d="M92.8,66.7 L93.4,64.3 L95.1,64.3 L95.7,66.4 L96.9,67.3 L99.2,68.4 L100.9,70.2 L102.7,71.6 L101.5,73.1 L100.4,74.9 L99.2,76.6 L97.4,77.2 L95.7,76.6 L95.1,74.9 L93.9,72.5 L93.1,70.2Z" fill="url(#speck)"/>
<path d="M25.8,92.4 L28.8,90.1 L32.3,88.3 L35.8,87.5 L39.3,87.7 L43.4,88.3 L46.9,88.9 L49.8,90.1 L50.9,93.0 L49.2,95.9 L45.1,96.5 L41.6,97.1 L37.5,97.1 L32.8,97.1 L28.8,96.5 L25.8,94.7Z" fill="#6A90F8" stroke="#6A90F8" stroke-width="2.2" stroke-linecap="round" stroke-dasharray="0.01 2.3"/><path d="M25.8,92.4 L28.8,90.1 L32.3,88.3 L35.8,87.5 L39.3,87.7 L43.4,88.3 L46.9,88.9 L49.8,90.1 L50.9,93.0 L49.2,95.9 L45.1,96.5 L41.6,97.1 L37.5,97.1 L32.8,97.1 L28.8,96.5 L25.8,94.7Z" fill="url(#speck)"/>
<path d="M54.5,28.8 L57.4,26.4 L60.3,24.7 L63.2,25.8 L66.7,27.0 L70.2,28.2 L71.4,31.7 L69.6,34.0 L66.7,34.6 L63.2,33.4 L60.3,35.8 L56.8,34.6 L54.5,31.7Z" fill="#A880F8" stroke="#A880F8" stroke-width="2.2" stroke-linecap="round" stroke-dasharray="0.01 2.3"/><path d="M54.5,28.8 L57.4,26.4 L60.3,24.7 L63.2,25.8 L66.7,27.0 L70.2,28.2 L71.4,31.7 L69.6,34.0 L66.7,34.6 L63.2,33.4 L60.3,35.8 L56.8,34.6 L54.5,31.7Z" fill="url(#speck)"/>
<path d="M77.2,46.9 L79.6,45.1 L82.5,45.7 L84.8,48.0 L87.2,50.4 L85.4,52.1 L83.1,51.5 L80.7,49.8 L77.8,48.6Z" fill="#A880F8" stroke="#A880F8" stroke-width="2.2" stroke-linecap="round" stroke-dasharray="0.01 2.3"/><path d="M77.2,46.9 L79.6,45.1 L82.5,45.7 L84.8,48.0 L87.2,50.4 L85.4,52.1 L83.1,51.5 L80.7,49.8 L77.8,48.6Z" fill="url(#speck)"/>
<path d="M65.1,83.5 L68.0,84.7 L70.9,88.8 L73.9,88.2 L77.4,89.3 L80.9,90.5 L82.6,92.8 L80.3,96.4 L78.5,98.7 L75.6,99.3 L73.9,97.5 L70.4,93.4 L68.0,90.5 L66.3,87.0Z" fill="#D868F0" stroke="#D868F0" stroke-width="2.2" stroke-linecap="round" stroke-dasharray="0.01 2.3"/><path d="M65.1,83.5 L68.0,84.7 L70.9,88.8 L73.9,88.2 L77.4,89.3 L80.9,90.5 L82.6,92.8 L80.3,96.4 L78.5,98.7 L75.6,99.3 L73.9,97.5 L70.4,93.4 L68.0,90.5 L66.3,87.0Z" fill="url(#speck)"/>
<path d="M108.7,49.2 L111.6,46.9 L115.1,46.3 L118.6,48.0 L120.4,50.4 L118.0,53.9 L118.6,56.2 L117.4,59.7 L115.1,59.1 L112.8,56.2 L109.3,55.0 L108.1,52.7Z" fill="#F062E0" stroke="#F062E0" stroke-width="2.2" stroke-linecap="round" stroke-dasharray="0.01 2.3"/><path d="M108.7,49.2 L111.6,46.9 L115.1,46.3 L118.6,48.0 L120.4,50.4 L118.0,53.9 L118.6,56.2 L117.4,59.7 L115.1,59.1 L112.8,56.2 L109.3,55.0 L108.1,52.7Z" fill="url(#speck)"/>
<path d="M172.4,100.5 L175.0,98.8 L176.8,97.0 L179.0,96.6 L180.3,98.8 L181.2,101.4 L179.6,104.5 L179.2,107.5 L179.2,111.0 L177.8,111.0 L177.6,107.5 L176.8,104.9 L174.6,103.1 L172.8,101.8Z" fill="#F066C0" stroke="#F066C0" stroke-width="2.2" stroke-linecap="round" stroke-dasharray="0.01 2.3"/><path d="M172.4,100.5 L175.0,98.8 L176.8,97.0 L179.0,96.6 L180.3,98.8 L181.2,101.4 L179.6,104.5 L179.2,107.5 L179.2,111.0 L177.8,111.0 L177.6,107.5 L176.8,104.9 L174.6,103.1 L172.8,101.8Z" fill="url(#speck)"/>
<path d="M77.0,68.7 L78.8,67.0 L80.5,65.5 L82.6,64.3 L84.6,64.6 L84.3,66.1 L82.3,67.0 L80.2,68.1 L78.2,69.6Z" fill="#F0709A" stroke="#F0709A" stroke-width="2.2" stroke-linecap="round" stroke-dasharray="0.01 2.3"/><path d="M77.0,68.7 L78.8,67.0 L80.5,65.5 L82.6,64.3 L84.6,64.6 L84.3,66.1 L82.3,67.0 L80.2,68.1 L78.2,69.6Z" fill="url(#speck)"/>
<path d="M143.9,46.7h0M149.0,41.2h0M152.0,38.6h0M155.1,39.9h0M159.9,39.2h0M163.5,39.9h0M164.7,41.4h0M174.1,39.0h0M174.8,42.0h0M176.0,37.7h0M178.9,41.8h0M183.9,45.2h0M188.7,48.7h0M187.7,50.6h0M186.8,53.5h0M191.1,57.8h0M192.2,59.8h0M191.1,61.3h0M192.0,62.8h0M187.8,66.6h0M184.0,64.0h0M180.9,69.8h0M177.7,73.4h0M175.6,79.1h0M175.2,81.8h0M172.6,82.5h0M171.8,80.6h0M166.8,81.1h0M167.0,80.6h0M162.5,77.4h0M159.6,73.6h0M155.1,73.2h0M151.6,73.5h0M149.2,69.5h0M146.9,69.8h0M145.2,66.2h0M147.3,61.6h0M144.2,56.2h0M144.1,51.1h0M142.8,48.6h0" stroke="#E08A34" stroke-width="1.7" stroke-linecap="round" fill="none"/>
<path d="M121.4,55.4h0M125.8,51.5h0M126.2,50.6h0M133.3,51.3h0M134.5,49.1h0M139.5,52.4h0M140.1,53.2h0M141.2,56.2h0M138.9,56.9h0M140.0,66.6h0M142.4,66.6h0M146.2,72.2h0M150.4,73.9h0M154.9,77.8h0M156.2,77.5h0M157.8,80.5h0M157.4,86.6h0M155.6,87.6h0M152.7,86.7h0M147.8,93.2h0M147.1,91.7h0M138.9,91.9h0M138.7,90.7h0M134.7,87.8h0M134.6,83.0h0M135.1,82.1h0M132.6,74.5h0M130.2,74.8h0M125.8,74.0h0M122.6,68.9h0M120.1,68.7h0M120.1,61.2h0M119.2,61.8h0" stroke="#CC9A2C" stroke-width="1.7" stroke-linecap="round" fill="none"/>
<path d="M120.5,42.6h0M124.8,40.0h0M127.3,38.6h0M129.3,40.0h0M131.0,41.5h0M131.4,38.5h0M128.6,39.4h0M125.5,39.3h0M122.8,39.9h0M120.4,41.7h0" stroke="#CC9A2C" stroke-width="1.7" stroke-linecap="round" fill="none"/>
<path d="M53.3,116.2h0M53.9,113.6h0M57.4,110.8h0M62.5,108.7h0M62.9,107.8h0M64.9,104.4h0M69.5,103.5h0M76.7,104.5h0M79.4,102.6h0M81.8,102.7h0M86.0,106.1h0M89.1,99.5h0M93.0,100.5h0M92.0,98.2h0M93.0,97.9h0M95.9,102.1h0M98.6,106.3h0M99.2,108.0h0M99.3,114.3h0M105.8,113.0h0M106.6,114.1h0M105.4,117.1h0M106.8,118.4h0M99.4,123.5h0M99.4,129.9h0M96.7,132.6h0M95.0,136.5h0M92.1,139.5h0M87.0,139.4h0M85.1,141.3h0M85.4,141.4h0M81.9,140.8h0M74.8,140.5h0M73.2,140.3h0M73.7,136.0h0M67.1,134.4h0M61.1,127.9h0M60.9,129.3h0M58.1,126.0h0M55.3,124.3h0M54.0,121.3h0" stroke="#EE6E6E" stroke-width="1.7" stroke-linecap="round" fill="none"/>
<path d="M57.3,93.3h0M54.2,89.8h0M55.9,94.3h0M54.3,93.4h0M56.5,93.3h0M54.7,90.7h0" stroke="#EE6E6E" stroke-width="1.7" stroke-linecap="round" fill="none"/>
<path d="M106.2,78.9h0M108.4,77.1h0M109.1,73.9h0M110.8,72.0h0M110.2,72.0h0M111.4,75.2h0M113.1,81.1h0M112.2,85.5h0M116.7,88.9h0M123.3,92.1h0M125.1,95.6h0M125.3,99.9h0M128.8,99.1h0M129.4,102.9h0M131.0,106.9h0M133.0,112.3h0M136.1,108.0h0M133.6,109.2h0M127.9,107.2h0M123.6,107.4h0M123.4,105.0h0M116.9,103.8h0M114.4,100.2h0M111.7,102.6h0M112.3,98.5h0M108.8,93.6h0M107.5,88.4h0M107.6,89.3h0M105.5,87.3h0M104.4,84.1h0M104.1,77.6h0" stroke="#B4A32A" stroke-width="1.7" stroke-linecap="round" fill="none"/>
<path d="M52.3,60.4h0M56.9,56.5h0M60.1,54.3h0M63.0,50.2h0M64.9,50.3h0M66.2,47.8h0M67.9,46.0h0M70.7,47.2h0M69.2,44.9h0M69.9,43.5h0M67.7,48.9h0M71.9,50.1h0M71.7,48.4h0M71.4,46.7h0M68.0,49.8h0M62.6,55.6h0M65.0,57.8h0M65.8,61.1h0M65.8,67.7h0M65.9,73.9h0M64.3,76.6h0M64.6,76.9h0M60.0,81.9h0M59.5,80.4h0M55.8,82.7h0M54.2,81.0h0M49.2,81.5h0M51.9,81.9h0M48.8,79.3h0M46.2,74.7h0M48.5,70.9h0M48.0,65.4h0M49.0,61.7h0" stroke="#8EB02A" stroke-width="1.7" stroke-linecap="round" fill="none"/>
<path d="M108.1,120.6h0M111.8,116.9h0M110.1,119.7h0M115.5,120.0h0M121.8,123.1h0M121.8,125.0h0M125.3,126.7h0M127.2,128.7h0M131.8,130.4h0M130.7,131.7h0M130.6,135.1h0M128.1,134.9h0M122.3,134.3h0M121.3,137.9h0M116.0,140.0h0M112.8,139.2h0M111.3,142.2h0M111.5,139.2h0M109.6,140.0h0M109.0,137.0h0M111.6,133.3h0M108.2,127.0h0M108.5,124.9h0M108.8,122.6h0" stroke="#6ABF2A" stroke-width="1.7" stroke-linecap="round" fill="none"/>
<path d="M140.2,170.3h0M140.6,165.7h0M143.1,165.9h0M148.1,163.4h0M150.7,164.6h0M149.7,165.7h0M153.3,165.3h0M153.8,166.0h0M159.2,168.7h0M159.2,170.3h0M158.5,168.3h0M157.9,167.6h0M155.1,171.5h0M153.9,175.8h0M152.6,177.6h0M153.2,178.1h0M152.2,178.4h0M148.1,180.2h0M148.3,180.0h0M144.1,178.9h0M148.0,178.6h0M144.2,176.3h0M140.9,171.6h0M139.5,172.0h0M138.8,171.8h0M142.3,167.8h0M140.4,166.7h0" stroke="#4CC83C" stroke-width="1.7" stroke-linecap="round" fill="none"/>
<path d="M143.0,162.1h0M144.1,161.5h0M146.4,160.2h0M146.7,160.4h0M143.2,157.0h0M147.3,158.5h0M145.0,156.9h0M140.8,160.1h0M142.9,157.3h0" stroke="#4CC83C" stroke-width="1.7" stroke-linecap="round" fill="none"/>
<path d="M137.3,176.5h0M136.7,175.4h0M137.7,176.2h0M138.9,173.6h0M135.8,173.8h0M137.4,175.1h0" stroke="#4CC83C" stroke-width="1.7" stroke-linecap="round" fill="none"/>
<path d="M103.4,146.4h0M104.6,145.6h0M107.0,145.0h0M112.0,146.2h0M116.8,147.3h0M116.5,151.2h0M117.3,153.2h0M117.6,154.3h0M113.7,158.2h0M113.1,158.2h0M108.6,154.1h0M105.3,157.3h0M103.8,151.8h0M100.6,149.9h0M101.8,146.7h0" stroke="#4CD08C" stroke-width="1.7" stroke-linecap="round" fill="none"/>
<path d="M81.6,32.2h0M85.2,34.1h0M86.4,30.5h0M92.5,33.1h0M97.3,28.8h0M95.6,24.3h0M96.7,25.4h0M93.3,30.8h0M96.2,33.1h0M98.7,38.7h0M102.4,38.2h0M105.8,42.8h0M106.3,41.1h0M105.3,42.7h0M100.7,42.5h0M100.3,43.4h0M99.3,44.2h0M96.1,40.8h0M92.6,44.4h0M95.7,41.5h0M93.0,40.3h0M88.7,35.3h0M82.4,34.1h0M82.2,33.1h0M81.2,31.5h0" stroke="#58D4AC" stroke-width="1.7" stroke-linecap="round" fill="none"/>
<path d="M156.7,133.3h0M157.2,128.5h0M162.8,129.0h0M164.2,125.6h0M166.7,124.1h0M168.0,119.3h0M171.0,122.7h0M172.1,118.9h0M173.1,117.7h0M175.9,116.3h0M179.8,114.8h0M179.5,117.0h0M175.7,112.9h0M180.5,115.9h0M182.7,119.1h0M183.7,118.4h0M185.7,118.9h0M185.0,122.7h0M184.3,123.4h0M182.1,119.2h0M180.0,123.4h0M176.9,122.5h0M174.4,123.5h0M173.6,123.3h0M169.3,124.2h0M166.6,124.1h0M163.4,123.0h0M161.5,124.4h0M159.9,126.5h0M156.8,128.1h0M154.9,126.5h0M157.4,127.7h0M157.7,129.6h0" stroke="#50D0CC" stroke-width="1.7" stroke-linecap="round" fill="none"/>
<path d="M155.8,130.6h0M157.7,128.0h0M162.3,126.7h0M164.9,130.1h0M167.5,125.1h0M166.2,124.3h0M163.1,123.7h0M162.8,122.1h0M161.8,127.3h0M157.8,124.3h0M157.8,126.9h0M154.7,130.4h0M155.6,130.1h0M157.0,130.2h0" stroke="#50D0CC" stroke-width="1.7" stroke-linecap="round" fill="none"/>
<path d="M143.4,106.9h0M145.0,108.2h0M148.9,103.6h0M149.7,100.4h0M150.6,99.8h0M147.8,102.4h0M149.5,101.0h0M153.7,105.0h0M155.1,102.8h0M155.2,102.2h0M152.4,99.3h0M153.3,105.9h0M151.6,110.1h0M150.0,113.4h0M149.4,115.9h0M148.4,119.6h0M150.6,121.7h0M148.0,121.2h0M147.2,122.5h0M144.6,125.5h0M144.9,125.1h0M148.1,120.7h0M146.8,122.9h0M146.6,118.4h0M144.5,117.2h0M142.1,113.3h0M144.7,111.7h0M141.0,110.2h0M141.1,109.5h0" stroke="#50C8E8" stroke-width="1.7" stroke-linecap="round" fill="none"/>
<path d="M150.2,100.0h0M150.2,99.9h0M149.0,98.7h0M149.2,100.6h0M153.8,101.2h0M155.8,101.1h0M154.6,102.7h0M155.6,101.8h0M153.2,104.9h0M153.5,106.1h0M150.8,104.4h0M149.5,102.8h0" stroke="#50C8E8" stroke-width="1.7" stroke-linecap="round" fill="none"/>
<path d="M82.4,78.6h0M82.7,76.6h0M85.6,75.6h0M88.1,77.2h0M88.2,76.2h0M87.8,78.5h0M88.0,83.1h0M87.5,85.4h0M85.7,84.7h0M87.3,82.8h0M86.3,86.5h0M84.2,84.4h0M85.4,79.8h0M82.0,78.6h0" stroke="#50B0F8" stroke-width="1.7" stroke-linecap="round" fill="none"/>
<path d="M94.2,65.3h0M94.0,65.9h0M93.7,66.7h0M95.2,68.6h0M97.9,70.0h0M98.4,69.2h0M99.8,74.6h0M99.6,71.0h0M97.4,70.5h0M97.8,75.3h0M98.1,73.9h0M97.1,74.3h0M98.5,75.5h0M96.5,71.5h0M96.3,71.1h0M95.9,69.0h0" stroke="#50B0F8" stroke-width="1.7" stroke-linecap="round" fill="none"/>
<path d="M30.2,92.3h0M32.7,93.3h0M34.2,89.7h0M38.9,91.5h0M42.3,90.4h0M44.5,90.4h0M48.4,91.3h0M47.1,91.6h0M48.5,93.6h0M48.3,92.9h0M43.3,93.7h0M39.2,96.1h0M36.7,95.9h0M32.5,95.1h0M28.7,94.1h0M29.5,94.2h0" stroke="#6A90F8" stroke-width="1.7" stroke-linecap="round" fill="none"/>
<path d="M57.9,30.0h0M60.8,27.9h0M60.1,26.0h0M63.3,28.6h0M69.5,29.6h0M69.1,29.0h0M69.6,32.2h0M68.0,29.1h0M67.8,30.4h0M58.9,30.4h0M59.4,33.3h0M55.6,31.5h0M55.9,31.6h0" stroke="#A880F8" stroke-width="1.7" stroke-linecap="round" fill="none"/>
<path d="M78.5,48.1h0M81.8,47.7h0M82.7,49.9h0M83.6,51.2h0M83.8,49.8h0M86.0,49.3h0M82.1,49.1h0M80.1,48.4h0M79.2,46.3h0" stroke="#A880F8" stroke-width="1.7" stroke-linecap="round" fill="none"/>
<path d="M66.0,85.5h0M68.6,90.0h0M73.3,93.6h0M75.4,90.7h0M80.2,92.1h0M80.7,92.9h0M79.4,94.6h0M77.1,97.5h0M77.9,96.8h0M78.6,95.3h0M75.2,92.6h0M69.4,89.5h0M71.5,86.8h0M70.3,85.6h0" stroke="#D868F0" stroke-width="1.7" stroke-linecap="round" fill="none"/>
<path d="M109.9,50.5h0M112.5,49.9h0M115.7,49.8h0M117.6,49.4h0M118.3,50.2h0M117.1,54.3h0M115.4,56.4h0M117.9,57.0h0M118.7,56.1h0M113.5,50.9h0M112.1,52.6h0M111.2,51.0h0" stroke="#F062E0" stroke-width="1.7" stroke-linecap="round" fill="none"/>
<path d="M175.6,99.8h0M178.6,99.0h0M177.5,100.1h0M178.4,99.4h0M179.7,100.2h0M179.5,101.8h0M177.8,106.9h0M176.2,108.8h0M178.5,107.8h0M179.8,110.5h0M178.8,105.0h0M178.2,102.6h0M174.2,100.3h0M174.2,100.2h0" stroke="#F066C0" stroke-width="1.7" stroke-linecap="round" fill="none"/>
<path d="M80.5,69.1h0M80.3,67.8h0M82.2,65.5h0M83.7,66.5h0M81.8,65.3h0M83.2,65.2h0M79.8,64.9h0M78.4,66.8h0M80.6,65.3h0" stroke="#F0709A" stroke-width="1.7" stroke-linecap="round" fill="none"/>
<path d="M342.3,44.5 L345.3,43.0 L348.4,38.9 L352.5,37.4 L356.6,36.3 L360.7,37.9 L364.7,38.9 L368.8,40.4 L371.9,36.9 L376.0,36.3 L380.1,39.4 L384.2,41.5 L387.2,44.5 L390.3,47.6 L391.3,50.7 L391.8,54.7 L393.4,57.8 L395.4,60.9 L394.4,65.0 L391.3,66.0 L388.2,68.0 L385.2,69.0 L381.1,72.1 L379.0,76.2 L378.0,80.3 L375.0,83.4 L371.9,84.4 L368.8,81.3 L365.8,82.3 L363.7,80.3 L360.7,78.2 L357.6,75.2 L353.5,75.2 L349.4,74.2 L346.3,71.1 L344.3,67.0 L343.3,62.9 L342.3,58.8 L342.8,53.7 L341.2,49.6Z" fill="#EE6E6E" stroke="#EE6E6E" stroke-width="2.2" stroke-linecap="round" stroke-dasharray="0.01 2.3"/><path d="M342.3,44.5 L345.3,43.0 L348.4,38.9 L352.5,37.4 L356.6,36.3 L360.7,37.9 L364.7,38.9 L368.8,40.4 L371.9,36.9 L376.0,36.3 L380.1,39.4 L384.2,41.5 L387.2,44.5 L390.3,47.6 L391.3,50.7 L391.8,54.7 L393.4,57.8 L395.4,60.9 L394.4,65.0 L391.3,66.0 L388.2,68.0 L385.2,69.0 L381.1,72.1 L379.0,76.2 L378.0,80.3 L375.0,83.4 L371.9,84.4 L368.8,81.3 L365.8,82.3 L363.7,80.3 L360.7,78.2 L357.6,75.2 L353.5,75.2 L349.4,74.2 L346.3,71.1 L344.3,67.0 L343.3,62.9 L342.3,58.8 L342.8,53.7 L341.2,49.6Z" fill="url(#speck)"/>
<path d="M316.9,56.2 L320.4,51.5 L325.0,49.2 L329.7,48.6 L334.4,48.0 L339.1,49.2 L341.4,51.5 L342.6,55.0 L343.1,59.7 L341.4,62.0 L343.7,64.4 L344.9,69.1 L348.4,71.4 L353.1,74.9 L356.6,76.1 L360.1,79.6 L361.2,84.2 L358.9,88.9 L355.4,91.2 L350.7,92.4 L347.2,94.7 L342.6,94.7 L339.1,95.3 L335.5,91.2 L333.2,87.7 L331.5,83.1 L332.0,79.6 L329.7,77.2 L326.2,76.1 L322.7,73.7 L319.8,70.2 L317.4,66.7 L316.3,62.0Z" fill="#EE6E6E" stroke="#EE6E6E" stroke-width="2.2" stroke-linecap="round" stroke-dasharray="0.01 2.3"/><path d="M316.9,56.2 L320.4,51.5 L325.0,49.2 L329.7,48.6 L334.4,48.0 L339.1,49.2 L341.4,51.5 L342.6,55.0 L343.1,59.7 L341.4,62.0 L343.7,64.4 L344.9,69.1 L348.4,71.4 L353.1,74.9 L356.6,76.1 L360.1,79.6 L361.2,84.2 L358.9,88.9 L355.4,91.2 L350.7,92.4 L347.2,94.7 L342.6,94.7 L339.1,95.3 L335.5,91.2 L333.2,87.7 L331.5,83.1 L332.0,79.6 L329.7,77.2 L326.2,76.1 L322.7,73.7 L319.8,70.2 L317.4,66.7 L316.3,62.0Z" fill="url(#speck)"/>
<path d="M319.2,42.2 L322.1,39.3 L325.0,38.1 L328.5,37.5 L331.5,38.7 L332.6,41.0 L330.3,41.6 L327.4,41.0 L324.5,41.6 L321.5,43.4Z" fill="#EE6E6E" stroke="#EE6E6E" stroke-width="2.2" stroke-linecap="round" stroke-dasharray="0.01 2.3"/><path d="M319.2,42.2 L322.1,39.3 L325.0,38.1 L328.5,37.5 L331.5,38.7 L332.6,41.0 L330.3,41.6 L327.4,41.0 L324.5,41.6 L321.5,43.4Z" fill="url(#speck)"/>
<path d="M249.3,118.5 L251.1,115.0 L254.0,112.1 L257.5,108.0 L261.0,105.7 L264.5,103.4 L269.2,102.2 L273.9,103.4 L277.4,101.0 L280.3,99.9 L283.2,101.6 L286.7,101.0 L289.1,96.4 L291.4,94.6 L293.7,96.4 L294.9,100.4 L298.4,102.2 L300.7,104.5 L301.3,109.2 L303.1,111.5 L306.6,111.5 L308.9,113.9 L307.7,118.5 L305.4,123.2 L301.9,127.9 L299.6,132.6 L297.2,136.1 L294.9,139.6 L291.4,141.9 L289.1,143.6 L285.5,144.2 L282.0,143.6 L277.4,143.6 L273.9,141.9 L270.4,139.6 L266.9,136.1 L263.4,133.7 L258.7,129.1 L255.2,126.7 L251.7,123.2Z" fill="#7DB928" stroke="#7DB928" stroke-width="2.2" stroke-linecap="round" stroke-dasharray="0.01 2.3"/><path d="M249.3,118.5 L251.1,115.0 L254.0,112.1 L257.5,108.0 L261.0,105.7 L264.5,103.4 L269.2,102.2 L273.9,103.4 L277.4,101.0 L280.3,99.9 L283.2,101.6 L286.7,101.0 L289.1,96.4 L291.4,94.6 L293.7,96.4 L294.9,100.4 L298.4,102.2 L300.7,104.5 L301.3,109.2 L303.1,111.5 L306.6,111.5 L308.9,113.9 L307.7,118.5 L305.4,123.2 L301.9,127.9 L299.6,132.6 L297.2,136.1 L294.9,139.6 L291.4,141.9 L289.1,143.6 L285.5,144.2 L282.0,143.6 L277.4,143.6 L273.9,141.9 L270.4,139.6 L266.9,136.1 L263.4,133.7 L258.7,129.1 L255.2,126.7 L251.7,123.2Z" fill="url(#speck)"/>
<path d="M253.4,88.8 L256.4,88.2 L257.5,91.7 L256.9,95.2 L254.6,95.8 L252.8,92.8Z" fill="#7DB928" stroke="#7DB928" stroke-width="2.2" stroke-linecap="round" stroke-dasharray="0.01 2.3"/><path d="M253.4,88.8 L256.4,88.2 L257.5,91.7 L256.9,95.2 L254.6,95.8 L252.8,92.8Z" fill="url(#speck)"/>
<path d="M302.3,80.7 L304.0,77.2 L306.9,74.9 L308.7,70.2 L310.4,69.6 L313.4,72.6 L315.1,76.1 L316.3,80.7 L318.0,85.4 L320.4,88.9 L323.9,91.2 L327.4,93.6 L329.7,97.1 L331.2,98.7 L332.4,103.4 L334.7,106.9 L337.0,109.2 L334.7,110.4 L330.0,109.8 L326.5,110.4 L323.0,108.0 L318.4,105.7 L313.7,105.7 L310.2,103.4 L309.0,99.9 L311.4,97.5 L307.8,94.0 L304.3,91.7 L302.6,88.2 L302.6,84.7 L303.2,81.2Z" fill="#7DB928" stroke="#7DB928" stroke-width="2.2" stroke-linecap="round" stroke-dasharray="0.01 2.3"/><path d="M302.3,80.7 L304.0,77.2 L306.9,74.9 L308.7,70.2 L310.4,69.6 L313.4,72.6 L315.1,76.1 L316.3,80.7 L318.0,85.4 L320.4,88.9 L323.9,91.2 L327.4,93.6 L329.7,97.1 L331.2,98.7 L332.4,103.4 L334.7,106.9 L337.0,109.2 L334.7,110.4 L330.0,109.8 L326.5,110.4 L323.0,108.0 L318.4,105.7 L313.7,105.7 L310.2,103.4 L309.0,99.9 L311.4,97.5 L307.8,94.0 L304.3,91.7 L302.6,88.2 L302.6,84.7 L303.2,81.2Z" fill="url(#speck)"/>
<path d="M248.0,60.3 L250.9,57.4 L255.0,53.9 L258.5,50.9 L262.0,48.6 L265.0,47.4 L266.7,45.7 L269.1,43.9 L271.4,43.4 L272.0,45.1 L269.6,47.4 L270.2,49.2 L273.1,48.6 L272.6,50.4 L269.1,50.4 L267.3,52.1 L267.9,55.0 L266.7,58.5 L267.9,64.4 L268.5,70.2 L266.7,74.9 L266.1,78.4 L263.2,80.7 L262.0,83.6 L258.5,84.2 L255.0,83.6 L251.5,83.6 L248.6,84.2 L247.4,80.7 L245.1,77.2 L245.1,71.4 L246.3,66.7 L247.4,63.2Z" fill="#7DB928" stroke="#7DB928" stroke-width="2.2" stroke-linecap="round" stroke-dasharray="0.01 2.3"/><path d="M248.0,60.3 L250.9,57.4 L255.0,53.9 L258.5,50.9 L262.0,48.6 L265.0,47.4 L266.7,45.7 L269.1,43.9 L271.4,43.4 L272.0,45.1 L269.6,47.4 L270.2,49.2 L273.1,48.6 L272.6,50.4 L269.1,50.4 L267.3,52.1 L267.9,55.0 L266.7,58.5 L267.9,64.4 L268.5,70.2 L266.7,74.9 L266.1,78.4 L263.2,80.7 L262.0,83.6 L258.5,84.2 L255.0,83.6 L251.5,83.6 L248.6,84.2 L247.4,80.7 L245.1,77.2 L245.1,71.4 L246.3,66.7 L247.4,63.2Z" fill="url(#speck)"/>
<path d="M305.5,118.5 L309.0,116.2 L312.5,115.0 L316.0,117.4 L319.5,119.7 L323.0,122.0 L327.7,126.7 L332.4,129.1 L334.7,131.4 L333.5,134.9 L330.0,137.2 L326.5,138.4 L323.0,139.6 L319.5,140.7 L317.2,143.1 L313.7,144.2 L310.2,144.2 L307.8,141.9 L306.7,138.4 L307.8,134.9 L309.0,131.4 L306.7,127.9 L306.1,124.4Z" fill="#7DB928" stroke="#7DB928" stroke-width="2.2" stroke-linecap="round" stroke-dasharray="0.01 2.3"/><path d="M305.5,118.5 L309.0,116.2 L312.5,115.0 L316.0,117.4 L319.5,119.7 L323.0,122.0 L327.7,126.7 L332.4,129.1 L334.7,131.4 L333.5,134.9 L330.0,137.2 L326.5,138.4 L323.0,139.6 L319.5,140.7 L317.2,143.1 L313.7,144.2 L310.2,144.2 L307.8,141.9 L306.7,138.4 L307.8,134.9 L309.0,131.4 L306.7,127.9 L306.1,124.4Z" fill="url(#speck)"/>
<path d="M337.4,165.4 L339.6,164.3 L342.5,164.7 L345.4,164.0 L347.6,162.2 L349.8,161.4 L352.7,162.2 L355.7,164.0 L357.8,166.2 L360.8,166.2 L362.2,168.4 L360.8,170.5 L357.8,170.5 L356.4,172.7 L355.7,176.4 L354.9,179.3 L353.5,180.8 L350.5,182.2 L347.6,182.2 L345.4,181.1 L343.2,180.0 L342.5,177.1 L341.8,174.2 L339.6,174.2 L337.4,172.7 L337.8,169.8 L337.4,167.6Z" fill="#C47CF8" stroke="#C47CF8" stroke-width="2.2" stroke-linecap="round" stroke-dasharray="0.01 2.3"/><path d="M337.4,165.4 L339.6,164.3 L342.5,164.7 L345.4,164.0 L347.6,162.2 L349.8,161.4 L352.7,162.2 L355.7,164.0 L357.8,166.2 L360.8,166.2 L362.2,168.4 L360.8,170.5 L357.8,170.5 L356.4,172.7 L355.7,176.4 L354.9,179.3 L353.5,180.8 L350.5,182.2 L347.6,182.2 L345.4,181.1 L343.2,180.0 L342.5,177.1 L341.8,174.2 L339.6,174.2 L337.4,172.7 L337.8,169.8 L337.4,167.6Z" fill="url(#speck)"/>
<path d="M340.7,161.8 L342.5,158.9 L344.7,157.8 L346.9,157.4 L348.7,158.1 L348.4,159.6 L346.2,159.2 L344.0,160.0 L342.2,162.5Z" fill="#C47CF8" stroke="#C47CF8" stroke-width="2.2" stroke-linecap="round" stroke-dasharray="0.01 2.3"/><path d="M340.7,161.8 L342.5,158.9 L344.7,157.8 L346.9,157.4 L348.7,158.1 L348.4,159.6 L346.2,159.2 L344.0,160.0 L342.2,162.5Z" fill="url(#speck)"/>
<path d="M335.2,174.2 L336.7,173.8 L339.2,174.9 L339.6,176.4 L337.4,176.4 L335.2,176.0Z" fill="#C47CF8" stroke="#C47CF8" stroke-width="2.2" stroke-linecap="round" stroke-dasharray="0.01 2.3"/><path d="M335.2,174.2 L336.7,173.8 L339.2,174.9 L339.6,176.4 L337.4,176.4 L335.2,176.0Z" fill="url(#speck)"/>
<path d="M299.7,145.4 L302.0,143.6 L306.7,143.1 L311.4,144.2 L316.0,145.4 L319.5,147.2 L320.7,151.2 L319.5,154.7 L317.2,157.7 L313.7,159.4 L309.0,160.0 L304.3,159.4 L300.8,157.7 L299.1,153.6 L298.5,148.9Z" fill="#7DB928" stroke="#7DB928" stroke-width="2.2" stroke-linecap="round" stroke-dasharray="0.01 2.3"/><path d="M299.7,145.4 L302.0,143.6 L306.7,143.1 L311.4,144.2 L316.0,145.4 L319.5,147.2 L320.7,151.2 L319.5,154.7 L317.2,157.7 L313.7,159.4 L309.0,160.0 L304.3,159.4 L300.8,157.7 L299.1,153.6 L298.5,148.9Z" fill="url(#speck)"/>
<path d="M279.0,31.1 L281.9,29.3 L285.4,28.8 L290.1,28.2 L294.7,27.6 L300.0,27.2 L293.5,28.2 L297.0,29.9 L300.5,32.8 L304.0,36.4 L307.5,40.4 L308.7,42.2 L306.4,43.4 L304.0,45.1 L301.1,46.3 L298.2,46.3 L295.3,43.4 L292.3,41.6 L294.7,43.4 L290.1,38.7 L285.4,36.4 L281.9,35.8 L279.0,34.0Z" fill="#7DB928" stroke="#7DB928" stroke-width="2.2" stroke-linecap="round" stroke-dasharray="0.01 2.3"/><path d="M279.0,31.1 L281.9,29.3 L285.4,28.8 L290.1,28.2 L294.7,27.6 L300.0,27.2 L293.5,28.2 L297.0,29.9 L300.5,32.8 L304.0,36.4 L307.5,40.4 L308.7,42.2 L306.4,43.4 L304.0,45.1 L301.1,46.3 L298.2,46.3 L295.3,43.4 L292.3,41.6 L294.7,43.4 L290.1,38.7 L285.4,36.4 L281.9,35.8 L279.0,34.0Z" fill="url(#speck)"/>
<path d="M353.8,129.0 L356.6,127.2 L359.3,126.1 L361.9,125.2 L364.5,123.7 L366.3,121.7 L367.2,118.9 L369.8,117.2 L372.4,116.3 L375.0,115.8 L376.8,114.5 L377.5,111.9 L379.0,111.5 L379.9,114.5 L382.0,115.4 L384.7,116.3 L386.4,118.0 L387.7,120.7 L387.3,123.3 L384.7,124.6 L382.0,125.0 L379.4,125.0 L376.8,125.5 L374.2,125.9 L371.5,125.9 L368.0,125.2 L366.3,126.1 L364.5,127.2 L362.3,128.5 L359.7,129.6 L357.1,130.5 L354.9,131.3 L353.8,130.5Z" fill="#7DB928" stroke="#7DB928" stroke-width="2.2" stroke-linecap="round" stroke-dasharray="0.01 2.3"/><path d="M353.8,129.0 L356.6,127.2 L359.3,126.1 L361.9,125.2 L364.5,123.7 L366.3,121.7 L367.2,118.9 L369.8,117.2 L372.4,116.3 L375.0,115.8 L376.8,114.5 L377.5,111.9 L379.0,111.5 L379.9,114.5 L382.0,115.4 L384.7,116.3 L386.4,118.0 L387.7,120.7 L387.3,123.3 L384.7,124.6 L382.0,125.0 L379.4,125.0 L376.8,125.5 L374.2,125.9 L371.5,125.9 L368.0,125.2 L366.3,126.1 L364.5,127.2 L362.3,128.5 L359.7,129.6 L357.1,130.5 L354.9,131.3 L353.8,130.5Z" fill="url(#speck)"/>
<path d="M353.8,129.0 L356.6,127.2 L359.3,126.1 L361.9,125.2 L364.5,123.7 L366.3,121.7 L367.3,124.2 L366.3,126.1 L364.5,127.2 L362.3,128.5 L359.7,129.6 L357.1,130.5 L354.9,131.3 L353.8,130.5Z" fill="#7DB928" stroke="#7DB928" stroke-width="2.2" stroke-linecap="round" stroke-dasharray="0.01 2.3"/><path d="M353.8,129.0 L356.6,127.2 L359.3,126.1 L361.9,125.2 L364.5,123.7 L366.3,121.7 L367.3,124.2 L366.3,126.1 L364.5,127.2 L362.3,128.5 L359.7,129.6 L357.1,130.5 L354.9,131.3 L353.8,130.5Z" fill="url(#speck)"/>
<path d="M340.0,106.6 L343.5,105.8 L345.3,104.9 L347.0,102.3 L347.9,98.8 L348.8,97.0 L350.5,97.9 L352.3,99.6 L354.9,99.6 L356.6,100.5 L357.5,102.3 L355.8,104.0 L354.0,107.5 L353.1,111.0 L352.3,114.5 L353.1,118.0 L353.1,120.7 L351.4,123.3 L348.8,124.2 L346.1,125.0 L344.8,126.8 L343.5,125.0 L342.6,122.4 L343.5,119.8 L343.5,118.0 L342.6,116.3 L340.0,115.0 L339.4,113.3 L338.8,109.2Z" fill="#7DB928" stroke="#7DB928" stroke-width="2.2" stroke-linecap="round" stroke-dasharray="0.01 2.3"/><path d="M340.0,106.6 L343.5,105.8 L345.3,104.9 L347.0,102.3 L347.9,98.8 L348.8,97.0 L350.5,97.9 L352.3,99.6 L354.9,99.6 L356.6,100.5 L357.5,102.3 L355.8,104.0 L354.0,107.5 L353.1,111.0 L352.3,114.5 L353.1,118.0 L353.1,120.7 L351.4,123.3 L348.8,124.2 L346.1,125.0 L344.8,126.8 L343.5,125.0 L342.6,122.4 L343.5,119.8 L343.5,118.0 L342.6,116.3 L340.0,115.0 L339.4,113.3 L338.8,109.2Z" fill="url(#speck)"/>
<path d="M347.0,102.3 L347.9,98.8 L348.8,97.0 L350.5,97.9 L352.3,99.6 L354.9,99.6 L356.6,100.5 L357.5,102.3 L355.8,104.0 L354.0,107.5 L351.4,107.5 L348.8,104.9Z" fill="#7DB928" stroke="#7DB928" stroke-width="2.2" stroke-linecap="round" stroke-dasharray="0.01 2.3"/><path d="M347.0,102.3 L347.9,98.8 L348.8,97.0 L350.5,97.9 L352.3,99.6 L354.9,99.6 L356.6,100.5 L357.5,102.3 L355.8,104.0 L354.0,107.5 L351.4,107.5 L348.8,104.9Z" fill="url(#speck)"/>
<path d="M280.5,78.4 L281.7,76.0 L284.0,74.3 L286.4,73.7 L289.3,74.3 L290.4,77.2 L290.1,80.7 L290.4,84.2 L289.3,86.5 L287.5,87.7 L285.2,87.7 L283.4,85.9 L282.3,84.2 L280.5,81.9Z" fill="#7DB928" stroke="#7DB928" stroke-width="2.2" stroke-linecap="round" stroke-dasharray="0.01 2.3"/><path d="M280.5,78.4 L281.7,76.0 L284.0,74.3 L286.4,73.7 L289.3,74.3 L290.4,77.2 L290.1,80.7 L290.4,84.2 L289.3,86.5 L287.5,87.7 L285.2,87.7 L283.4,85.9 L282.3,84.2 L280.5,81.9Z" fill="url(#speck)"/>
<path d="M292.8,66.7 L293.4,64.3 L295.1,64.3 L295.7,66.4 L296.9,67.3 L299.2,68.4 L300.9,70.2 L302.7,71.6 L301.5,73.1 L300.4,74.9 L299.2,76.6 L297.4,77.2 L295.7,76.6 L295.1,74.9 L293.9,72.5 L293.1,70.2Z" fill="#7DB928" stroke="#7DB928" stroke-width="2.2" stroke-linecap="round" stroke-dasharray="0.01 2.3"/><path d="M292.8,66.7 L293.4,64.3 L295.1,64.3 L295.7,66.4 L296.9,67.3 L299.2,68.4 L300.9,70.2 L302.7,71.6 L301.5,73.1 L300.4,74.9 L299.2,76.6 L297.4,77.2 L295.7,76.6 L295.1,74.9 L293.9,72.5 L293.1,70.2Z" fill="url(#speck)"/>
<path d="M225.8,92.4 L228.8,90.1 L232.3,88.3 L235.8,87.5 L239.3,87.7 L243.4,88.3 L246.9,88.9 L249.8,90.1 L250.9,93.0 L249.2,95.9 L245.1,96.5 L241.6,97.1 L237.5,97.1 L232.8,97.1 L228.8,96.5 L225.8,94.7Z" fill="#7DB928" stroke="#7DB928" stroke-width="2.2" stroke-linecap="round" stroke-dasharray="0.01 2.3"/><path d="M225.8,92.4 L228.8,90.1 L232.3,88.3 L235.8,87.5 L239.3,87.7 L243.4,88.3 L246.9,88.9 L249.8,90.1 L250.9,93.0 L249.2,95.9 L245.1,96.5 L241.6,97.1 L237.5,97.1 L232.8,97.1 L228.8,96.5 L225.8,94.7Z" fill="url(#speck)"/>
<path d="M254.5,28.8 L257.4,26.4 L260.3,24.7 L263.2,25.8 L266.7,27.0 L270.2,28.2 L271.4,31.7 L269.6,34.0 L266.7,34.6 L263.2,33.4 L260.3,35.8 L256.8,34.6 L254.5,31.7Z" fill="#7DB928" stroke="#7DB928" stroke-width="2.2" stroke-linecap="round" stroke-dasharray="0.01 2.3"/><path d="M254.5,28.8 L257.4,26.4 L260.3,24.7 L263.2,25.8 L266.7,27.0 L270.2,28.2 L271.4,31.7 L269.6,34.0 L266.7,34.6 L263.2,33.4 L260.3,35.8 L256.8,34.6 L254.5,31.7Z" fill="url(#speck)"/>
<path d="M277.2,46.9 L279.6,45.1 L282.5,45.7 L284.8,48.0 L287.2,50.4 L285.4,52.1 L283.1,51.5 L280.7,49.8 L277.8,48.6Z" fill="#C47CF8" stroke="#C47CF8" stroke-width="2.2" stroke-linecap="round" stroke-dasharray="0.01 2.3"/><path d="M277.2,46.9 L279.6,45.1 L282.5,45.7 L284.8,48.0 L287.2,50.4 L285.4,52.1 L283.1,51.5 L280.7,49.8 L277.8,48.6Z" fill="url(#speck)"/>
<path d="M265.1,83.5 L268.0,84.7 L270.9,88.8 L273.9,88.2 L277.4,89.3 L280.9,90.5 L282.6,92.8 L280.3,96.4 L278.5,98.7 L275.6,99.3 L273.9,97.5 L270.4,93.4 L268.0,90.5 L266.3,87.0Z" fill="#7DB928" stroke="#7DB928" stroke-width="2.2" stroke-linecap="round" stroke-dasharray="0.01 2.3"/><path d="M265.1,83.5 L268.0,84.7 L270.9,88.8 L273.9,88.2 L277.4,89.3 L280.9,90.5 L282.6,92.8 L280.3,96.4 L278.5,98.7 L275.6,99.3 L273.9,97.5 L270.4,93.4 L268.0,90.5 L266.3,87.0Z" fill="url(#speck)"/>
<path d="M308.7,49.2 L311.6,46.9 L315.1,46.3 L318.6,48.0 L320.4,50.4 L318.0,53.9 L318.6,56.2 L317.4,59.7 L315.1,59.1 L312.8,56.2 L309.3,55.0 L308.1,52.7Z" fill="#C47CF8" stroke="#C47CF8" stroke-width="2.2" stroke-linecap="round" stroke-dasharray="0.01 2.3"/><path d="M308.7,49.2 L311.6,46.9 L315.1,46.3 L318.6,48.0 L320.4,50.4 L318.0,53.9 L318.6,56.2 L317.4,59.7 L315.1,59.1 L312.8,56.2 L309.3,55.0 L308.1,52.7Z" fill="url(#speck)"/>
<path d="M372.4,100.5 L375.0,98.8 L376.8,97.0 L379.0,96.6 L380.3,98.8 L381.2,101.4 L379.6,104.5 L379.2,107.5 L379.2,111.0 L377.8,111.0 L377.6,107.5 L376.8,104.9 L374.6,103.1 L372.8,101.8Z" fill="#EE6E6E" stroke="#EE6E6E" stroke-width="2.2" stroke-linecap="round" stroke-dasharray="0.01 2.3"/><path d="M372.4,100.5 L375.0,98.8 L376.8,97.0 L379.0,96.6 L380.3,98.8 L381.2,101.4 L379.6,104.5 L379.2,107.5 L379.2,111.0 L377.8,111.0 L377.6,107.5 L376.8,104.9 L374.6,103.1 L372.8,101.8Z" fill="url(#speck)"/>
<path d="M277.0,68.7 L278.8,67.0 L280.5,65.5 L282.6,64.3 L284.6,64.6 L284.3,66.1 L282.3,67.0 L280.2,68.1 L278.2,69.6Z" fill="#7DB928" stroke="#7DB928" stroke-width="2.2" stroke-linecap="round" stroke-dasharray="0.01 2.3"/><path d="M277.0,68.7 L278.8,67.0 L280.5,65.5 L282.6,64.3 L284.6,64.6 L284.3,66.1 L282.3,67.0 L280.2,68.1 L278.2,69.6Z" fill="url(#speck)"/>
<path d="M343.9,46.7h0M349.0,41.2h0M352.0,38.6h0M355.1,39.9h0M359.9,39.2h0M363.5,39.9h0M364.7,41.4h0M374.1,39.0h0M374.8,42.0h0M376.0,37.7h0M378.9,41.8h0M383.9,45.2h0M388.7,48.7h0M387.7,50.6h0M386.8,53.5h0M391.1,57.8h0M392.2,59.8h0M391.1,61.3h0M392.0,62.8h0M387.8,66.6h0M384.0,64.0h0M380.9,69.8h0M377.7,73.4h0M375.6,79.1h0M375.2,81.8h0M372.6,82.5h0M371.8,80.6h0M366.8,81.1h0M367.0,80.6h0M362.5,77.4h0M359.6,73.6h0M355.1,73.2h0M351.6,73.5h0M349.2,69.5h0M346.9,69.8h0M345.2,66.2h0M347.3,61.6h0M344.2,56.2h0M344.1,51.1h0M342.8,48.6h0" stroke="#EE6E6E" stroke-width="1.7" stroke-linecap="round" fill="none"/>
<path d="M321.4,55.4h0M325.8,51.5h0M326.2,50.6h0M333.3,51.3h0M334.5,49.1h0M339.5,52.4h0M340.1,53.2h0M341.2,56.2h0M338.9,56.9h0M340.0,66.6h0M342.4,66.6h0M346.2,72.2h0M350.4,73.9h0M354.9,77.8h0M356.2,77.5h0M357.8,80.5h0M357.4,86.6h0M355.6,87.6h0M352.7,86.7h0M347.8,93.2h0M347.1,91.7h0M338.9,91.9h0M338.7,90.7h0M334.7,87.8h0M334.6,83.0h0M335.1,82.1h0M332.6,74.5h0M330.2,74.8h0M325.8,74.0h0M322.6,68.9h0M320.1,68.7h0M320.1,61.2h0M319.2,61.8h0" stroke="#EE6E6E" stroke-width="1.7" stroke-linecap="round" fill="none"/>
<path d="M320.5,42.6h0M324.8,40.0h0M327.3,38.6h0M329.3,40.0h0M331.0,41.5h0M331.4,38.5h0M328.6,39.4h0M325.5,39.3h0M322.8,39.9h0M320.4,41.7h0" stroke="#EE6E6E" stroke-width="1.7" stroke-linecap="round" fill="none"/>
<path d="M253.3,116.2h0M253.9,113.6h0M257.4,110.8h0M262.5,108.7h0M262.9,107.8h0M264.9,104.4h0M269.5,103.5h0M276.7,104.5h0M279.4,102.6h0M281.8,102.7h0M286.0,106.1h0M289.1,99.5h0M293.0,100.5h0M292.0,98.2h0M293.0,97.9h0M295.9,102.1h0M298.6,106.3h0M299.2,108.0h0M299.3,114.3h0M305.8,113.0h0M306.6,114.1h0M305.4,117.1h0M306.8,118.4h0M299.4,123.5h0M299.4,129.9h0M296.7,132.6h0M295.0,136.5h0M292.1,139.5h0M287.0,139.4h0M285.1,141.3h0M285.4,141.4h0M281.9,140.8h0M274.8,140.5h0M273.2,140.3h0M273.7,136.0h0M267.1,134.4h0M261.1,127.9h0M260.9,129.3h0M258.1,126.0h0M255.3,124.3h0M254.0,121.3h0" stroke="#7DB928" stroke-width="1.7" stroke-linecap="round" fill="none"/>
<path d="M257.3,93.3h0M254.2,89.8h0M255.9,94.3h0M254.3,93.4h0M256.5,93.3h0M254.7,90.7h0" stroke="#7DB928" stroke-width="1.7" stroke-linecap="round" fill="none"/>
<path d="M306.2,78.9h0M308.4,77.1h0M309.1,73.9h0M310.8,72.0h0M310.2,72.0h0M311.4,75.2h0M313.1,81.1h0M312.2,85.5h0M316.7,88.9h0M323.3,92.1h0M325.1,95.6h0M325.3,99.9h0M328.8,99.1h0M329.4,102.9h0M331.0,106.9h0M333.0,112.3h0M336.1,108.0h0M333.6,109.2h0M327.9,107.2h0M323.6,107.4h0M323.4,105.0h0M316.9,103.8h0M314.4,100.2h0M311.7,102.6h0M312.3,98.5h0M308.8,93.6h0M307.5,88.4h0M307.6,89.3h0M305.5,87.3h0M304.4,84.1h0M304.1,77.6h0" stroke="#7DB928" stroke-width="1.7" stroke-linecap="round" fill="none"/>
<path d="M252.3,60.4h0M256.9,56.5h0M260.1,54.3h0M263.0,50.2h0M264.9,50.3h0M266.2,47.8h0M267.9,46.0h0M270.7,47.2h0M269.2,44.9h0M269.9,43.5h0M267.7,48.9h0M271.9,50.1h0M271.7,48.4h0M271.4,46.7h0M268.0,49.8h0M262.6,55.6h0M265.0,57.8h0M265.8,61.1h0M265.8,67.7h0M265.9,73.9h0M264.3,76.6h0M264.6,76.9h0M260.0,81.9h0M259.5,80.4h0M255.8,82.7h0M254.2,81.0h0M249.2,81.5h0M251.9,81.9h0M248.8,79.3h0M246.2,74.7h0M248.5,70.9h0M248.0,65.4h0M249.0,61.7h0" stroke="#7DB928" stroke-width="1.7" stroke-linecap="round" fill="none"/>
<path d="M308.1,120.6h0M311.8,116.9h0M310.1,119.7h0M315.5,120.0h0M321.8,123.1h0M321.8,125.0h0M325.3,126.7h0M327.2,128.7h0M331.8,130.4h0M330.7,131.7h0M330.6,135.1h0M328.1,134.9h0M322.3,134.3h0M321.3,137.9h0M316.0,140.0h0M312.8,139.2h0M311.3,142.2h0M311.5,139.2h0M309.6,140.0h0M309.0,137.0h0M311.6,133.3h0M308.2,127.0h0M308.5,124.9h0M308.8,122.6h0" stroke="#7DB928" stroke-width="1.7" stroke-linecap="round" fill="none"/>
<path d="M340.2,170.3h0M340.6,165.7h0M343.1,165.9h0M348.1,163.4h0M350.7,164.6h0M349.7,165.7h0M353.3,165.3h0M353.8,166.0h0M359.2,168.7h0M359.2,170.3h0M358.5,168.3h0M357.9,167.6h0M355.1,171.5h0M353.9,175.8h0M352.6,177.6h0M353.2,178.1h0M352.2,178.4h0M348.1,180.2h0M348.3,180.0h0M344.1,178.9h0M348.0,178.6h0M344.2,176.3h0M340.9,171.6h0M339.5,172.0h0M338.8,171.8h0M342.3,167.8h0M340.4,166.7h0" stroke="#C47CF8" stroke-width="1.7" stroke-linecap="round" fill="none"/>
<path d="M343.0,162.1h0M344.1,161.5h0M346.4,160.2h0M346.7,160.4h0M343.2,157.0h0M347.3,158.5h0M345.0,156.9h0M340.8,160.1h0M342.9,157.3h0" stroke="#C47CF8" stroke-width="1.7" stroke-linecap="round" fill="none"/>
<path d="M337.3,176.5h0M336.7,175.4h0M337.7,176.2h0M338.9,173.6h0M335.8,173.8h0M337.4,175.1h0" stroke="#C47CF8" stroke-width="1.7" stroke-linecap="round" fill="none"/>
<path d="M303.4,146.4h0M304.6,145.6h0M307.0,145.0h0M312.0,146.2h0M316.8,147.3h0M316.5,151.2h0M317.3,153.2h0M317.6,154.3h0M313.7,158.2h0M313.1,158.2h0M308.6,154.1h0M305.3,157.3h0M303.8,151.8h0M300.6,149.9h0M301.8,146.7h0" stroke="#7DB928" stroke-width="1.7" stroke-linecap="round" fill="none"/>
<path d="M281.6,32.2h0M285.2,34.1h0M286.4,30.5h0M292.5,33.1h0M297.3,28.8h0M295.6,24.3h0M296.7,25.4h0M293.3,30.8h0M296.2,33.1h0M298.7,38.7h0M302.4,38.2h0M305.8,42.8h0M306.3,41.1h0M305.3,42.7h0M300.7,42.5h0M300.3,43.4h0M299.3,44.2h0M296.1,40.8h0M292.6,44.4h0M295.7,41.5h0M293.0,40.3h0M288.7,35.3h0M282.4,34.1h0M282.2,33.1h0M281.2,31.5h0" stroke="#7DB928" stroke-width="1.7" stroke-linecap="round" fill="none"/>
<path d="M356.7,133.3h0M357.2,128.5h0M362.8,129.0h0M364.2,125.6h0M366.7,124.1h0M368.0,119.3h0M371.0,122.7h0M372.1,118.9h0M373.1,117.7h0M375.9,116.3h0M379.8,114.8h0M379.5,117.0h0M375.7,112.9h0M380.5,115.9h0M382.7,119.1h0M383.7,118.4h0M385.7,118.9h0M385.0,122.7h0M384.3,123.4h0M382.1,119.2h0M380.0,123.4h0M376.9,122.5h0M374.4,123.5h0M373.6,123.3h0M369.3,124.2h0M366.6,124.1h0M363.4,123.0h0M361.5,124.4h0M359.9,126.5h0M356.8,128.1h0M354.9,126.5h0M357.4,127.7h0M357.7,129.6h0" stroke="#7DB928" stroke-width="1.7" stroke-linecap="round" fill="none"/>
<path d="M355.8,130.6h0M357.7,128.0h0M362.3,126.7h0M364.9,130.1h0M367.5,125.1h0M366.2,124.3h0M363.1,123.7h0M362.8,122.1h0M361.8,127.3h0M357.8,124.3h0M357.8,126.9h0M354.7,130.4h0M355.6,130.1h0M357.0,130.2h0" stroke="#7DB928" stroke-width="1.7" stroke-linecap="round" fill="none"/>
<path d="M343.4,106.9h0M345.0,108.2h0M348.9,103.6h0M349.7,100.4h0M350.6,99.8h0M347.8,102.4h0M349.5,101.0h0M353.7,105.0h0M355.1,102.8h0M355.2,102.2h0M352.4,99.3h0M353.3,105.9h0M351.6,110.1h0M350.0,113.4h0M349.4,115.9h0M348.4,119.6h0M350.6,121.7h0M348.0,121.2h0M347.2,122.5h0M344.6,125.5h0M344.9,125.1h0M348.1,120.7h0M346.8,122.9h0M346.6,118.4h0M344.5,117.2h0M342.1,113.3h0M344.7,111.7h0M341.0,110.2h0M341.1,109.5h0" stroke="#7DB928" stroke-width="1.7" stroke-linecap="round" fill="none"/>
<path d="M350.2,100.0h0M350.2,99.9h0M349.0,98.7h0M349.2,100.6h0M353.8,101.2h0M355.8,101.1h0M354.6,102.7h0M355.6,101.8h0M353.2,104.9h0M353.5,106.1h0M350.8,104.4h0M349.5,102.8h0" stroke="#7DB928" stroke-width="1.7" stroke-linecap="round" fill="none"/>
<path d="M282.4,78.6h0M282.7,76.6h0M285.6,75.6h0M288.1,77.2h0M288.2,76.2h0M287.8,78.5h0M288.0,83.1h0M287.5,85.4h0M285.7,84.7h0M287.3,82.8h0M286.3,86.5h0M284.2,84.4h0M285.4,79.8h0M282.0,78.6h0" stroke="#7DB928" stroke-width="1.7" stroke-linecap="round" fill="none"/>
<path d="M294.2,65.3h0M294.0,65.9h0M293.7,66.7h0M295.2,68.6h0M297.9,70.0h0M298.4,69.2h0M299.8,74.6h0M299.6,71.0h0M297.4,70.5h0M297.8,75.3h0M298.1,73.9h0M297.1,74.3h0M298.5,75.5h0M296.5,71.5h0M296.3,71.1h0M295.9,69.0h0" stroke="#7DB928" stroke-width="1.7" stroke-linecap="round" fill="none"/>
<path d="M230.2,92.3h0M232.7,93.3h0M234.2,89.7h0M238.9,91.5h0M242.3,90.4h0M244.5,90.4h0M248.4,91.3h0M247.1,91.6h0M248.5,93.6h0M248.3,92.9h0M243.3,93.7h0M239.2,96.1h0M236.7,95.9h0M232.5,95.1h0M228.7,94.1h0M229.5,94.2h0" stroke="#7DB928" stroke-width="1.7" stroke-linecap="round" fill="none"/>
<path d="M257.9,30.0h0M260.8,27.9h0M260.1,26.0h0M263.3,28.6h0M269.5,29.6h0M269.1,29.0h0M269.6,32.2h0M268.0,29.1h0M267.8,30.4h0M258.9,30.4h0M259.4,33.3h0M255.6,31.5h0M255.9,31.6h0" stroke="#7DB928" stroke-width="1.7" stroke-linecap="round" fill="none"/>
<path d="M278.5,48.1h0M281.8,47.7h0M282.7,49.9h0M283.6,51.2h0M283.8,49.8h0M286.0,49.3h0M282.1,49.1h0M280.1,48.4h0M279.2,46.3h0" stroke="#C47CF8" stroke-width="1.7" stroke-linecap="round" fill="none"/>
<path d="M266.0,85.5h0M268.6,90.0h0M273.3,93.6h0M275.4,90.7h0M280.2,92.1h0M280.7,92.9h0M279.4,94.6h0M277.1,97.5h0M277.9,96.8h0M278.6,95.3h0M275.2,92.6h0M269.4,89.5h0M271.5,86.8h0M270.3,85.6h0" stroke="#7DB928" stroke-width="1.7" stroke-linecap="round" fill="none"/>
<path d="M309.9,50.5h0M312.5,49.9h0M315.7,49.8h0M317.6,49.4h0M318.3,50.2h0M317.1,54.3h0M315.4,56.4h0M317.9,57.0h0M318.7,56.1h0M313.5,50.9h0M312.1,52.6h0M311.2,51.0h0" stroke="#C47CF8" stroke-width="1.7" stroke-linecap="round" fill="none"/>
<path d="M375.6,99.8h0M378.6,99.0h0M377.5,100.1h0M378.4,99.4h0M379.7,100.2h0M379.5,101.8h0M377.8,106.9h0M376.2,108.8h0M378.5,107.8h0M379.8,110.5h0M378.8,105.0h0M378.2,102.6h0M374.2,100.3h0M374.2,100.2h0" stroke="#EE6E6E" stroke-width="1.7" stroke-linecap="round" fill="none"/>
<path d="M280.5,69.1h0M280.3,67.8h0M282.2,65.5h0M283.7,66.5h0M281.8,65.3h0M283.2,65.2h0M279.8,64.9h0M278.4,66.8h0M280.6,65.3h0" stroke="#7DB928" stroke-width="1.7" stroke-linecap="round" fill="none"/>
<g transform="translate(401.17,0) scale(0.927,1)">
<path d="M142.3,44.5 L145.3,43.0 L148.4,38.9 L152.5,37.4 L156.6,36.3 L160.7,37.9 L164.7,38.9 L168.8,40.4 L171.9,36.9 L176.0,36.3 L180.1,39.4 L184.2,41.5 L187.2,44.5 L190.3,47.6 L191.3,50.7 L191.8,54.7 L193.4,57.8 L195.4,60.9 L194.4,65.0 L191.3,66.0 L188.2,68.0 L185.2,69.0 L181.1,72.1 L179.0,76.2 L178.0,80.3 L175.0,83.4 L171.9,84.4 L168.8,81.3 L165.8,82.3 L163.7,80.3 L160.7,78.2 L157.6,75.2 L153.5,75.2 L149.4,74.2 L146.3,71.1 L144.3,67.0 L143.3,62.9 L142.3,58.8 L142.8,53.7 L141.2,49.6Z" fill="#E478F8" stroke="#E478F8" stroke-width="2.2" stroke-linecap="round" stroke-dasharray="0.01 2.3"/><path d="M142.3,44.5 L145.3,43.0 L148.4,38.9 L152.5,37.4 L156.6,36.3 L160.7,37.9 L164.7,38.9 L168.8,40.4 L171.9,36.9 L176.0,36.3 L180.1,39.4 L184.2,41.5 L187.2,44.5 L190.3,47.6 L191.3,50.7 L191.8,54.7 L193.4,57.8 L195.4,60.9 L194.4,65.0 L191.3,66.0 L188.2,68.0 L185.2,69.0 L181.1,72.1 L179.0,76.2 L178.0,80.3 L175.0,83.4 L171.9,84.4 L168.8,81.3 L165.8,82.3 L163.7,80.3 L160.7,78.2 L157.6,75.2 L153.5,75.2 L149.4,74.2 L146.3,71.1 L144.3,67.0 L143.3,62.9 L142.3,58.8 L142.8,53.7 L141.2,49.6Z" fill="url(#speck)"/>
<path d="M116.9,56.2 L120.4,51.5 L125.0,49.2 L129.7,48.6 L134.4,48.0 L139.1,49.2 L141.4,51.5 L142.6,55.0 L143.1,59.7 L141.4,62.0 L143.7,64.4 L144.9,69.1 L148.4,71.4 L153.1,74.9 L156.6,76.1 L160.1,79.6 L161.2,84.2 L158.9,88.9 L155.4,91.2 L150.7,92.4 L147.2,94.7 L142.6,94.7 L139.1,95.3 L135.5,91.2 L133.2,87.7 L131.5,83.1 L132.0,79.6 L129.7,77.2 L126.2,76.1 L122.7,73.7 L119.8,70.2 L117.4,66.7 L116.3,62.0Z" fill="#E478F8" stroke="#E478F8" stroke-width="2.2" stroke-linecap="round" stroke-dasharray="0.01 2.3"/><path d="M116.9,56.2 L120.4,51.5 L125.0,49.2 L129.7,48.6 L134.4,48.0 L139.1,49.2 L141.4,51.5 L142.6,55.0 L143.1,59.7 L141.4,62.0 L143.7,64.4 L144.9,69.1 L148.4,71.4 L153.1,74.9 L156.6,76.1 L160.1,79.6 L161.2,84.2 L158.9,88.9 L155.4,91.2 L150.7,92.4 L147.2,94.7 L142.6,94.7 L139.1,95.3 L135.5,91.2 L133.2,87.7 L131.5,83.1 L132.0,79.6 L129.7,77.2 L126.2,76.1 L122.7,73.7 L119.8,70.2 L117.4,66.7 L116.3,62.0Z" fill="url(#speck)"/>
<path d="M119.2,42.2 L122.1,39.3 L125.0,38.1 L128.5,37.5 L131.5,38.7 L132.6,41.0 L130.3,41.6 L127.4,41.0 L124.5,41.6 L121.5,43.4Z" fill="#50D890" stroke="#50D890" stroke-width="2.2" stroke-linecap="round" stroke-dasharray="0.01 2.3"/><path d="M119.2,42.2 L122.1,39.3 L125.0,38.1 L128.5,37.5 L131.5,38.7 L132.6,41.0 L130.3,41.6 L127.4,41.0 L124.5,41.6 L121.5,43.4Z" fill="url(#speck)"/>
<path d="M49.3,118.5 L51.1,115.0 L54.0,112.1 L57.5,108.0 L61.0,105.7 L64.5,103.4 L69.2,102.2 L73.9,103.4 L77.4,101.0 L80.3,99.9 L83.2,101.6 L86.7,101.0 L89.1,96.4 L91.4,94.6 L93.7,96.4 L94.9,100.4 L98.4,102.2 L100.7,104.5 L101.3,109.2 L103.1,111.5 L106.6,111.5 L108.9,113.9 L107.7,118.5 L105.4,123.2 L101.9,127.9 L99.6,132.6 L97.2,136.1 L94.9,139.6 L91.4,141.9 L89.1,143.6 L85.5,144.2 L82.0,143.6 L77.4,143.6 L73.9,141.9 L70.4,139.6 L66.9,136.1 L63.4,133.7 L58.7,129.1 L55.2,126.7 L51.7,123.2Z" fill="#50C828" stroke="#50C828" stroke-width="2.2" stroke-linecap="round" stroke-dasharray="0.01 2.3"/><path d="M49.3,118.5 L51.1,115.0 L54.0,112.1 L57.5,108.0 L61.0,105.7 L64.5,103.4 L69.2,102.2 L73.9,103.4 L77.4,101.0 L80.3,99.9 L83.2,101.6 L86.7,101.0 L89.1,96.4 L91.4,94.6 L93.7,96.4 L94.9,100.4 L98.4,102.2 L100.7,104.5 L101.3,109.2 L103.1,111.5 L106.6,111.5 L108.9,113.9 L107.7,118.5 L105.4,123.2 L101.9,127.9 L99.6,132.6 L97.2,136.1 L94.9,139.6 L91.4,141.9 L89.1,143.6 L85.5,144.2 L82.0,143.6 L77.4,143.6 L73.9,141.9 L70.4,139.6 L66.9,136.1 L63.4,133.7 L58.7,129.1 L55.2,126.7 L51.7,123.2Z" fill="url(#speck)"/>
<path d="M53.4,88.8 L56.4,88.2 L57.5,91.7 L56.9,95.2 L54.6,95.8 L52.8,92.8Z" fill="#50C828" stroke="#50C828" stroke-width="2.2" stroke-linecap="round" stroke-dasharray="0.01 2.3"/><path d="M53.4,88.8 L56.4,88.2 L57.5,91.7 L56.9,95.2 L54.6,95.8 L52.8,92.8Z" fill="url(#speck)"/>
<path d="M102.3,80.7 L104.0,77.2 L106.9,74.9 L108.7,70.2 L110.4,69.6 L113.4,72.6 L115.1,76.1 L116.3,80.7 L118.0,85.4 L120.4,88.9 L123.9,91.2 L127.4,93.6 L129.7,97.1 L131.2,98.7 L132.4,103.4 L134.7,106.9 L137.0,109.2 L134.7,110.4 L130.0,109.8 L126.5,110.4 L123.0,108.0 L118.4,105.7 L113.7,105.7 L110.2,103.4 L109.0,99.9 L111.4,97.5 L107.8,94.0 L104.3,91.7 L102.6,88.2 L102.6,84.7 L103.2,81.2Z" fill="#58B8F8" stroke="#58B8F8" stroke-width="2.2" stroke-linecap="round" stroke-dasharray="0.01 2.3"/><path d="M102.3,80.7 L104.0,77.2 L106.9,74.9 L108.7,70.2 L110.4,69.6 L113.4,72.6 L115.1,76.1 L116.3,80.7 L118.0,85.4 L120.4,88.9 L123.9,91.2 L127.4,93.6 L129.7,97.1 L131.2,98.7 L132.4,103.4 L134.7,106.9 L137.0,109.2 L134.7,110.4 L130.0,109.8 L126.5,110.4 L123.0,108.0 L118.4,105.7 L113.7,105.7 L110.2,103.4 L109.0,99.9 L111.4,97.5 L107.8,94.0 L104.3,91.7 L102.6,88.2 L102.6,84.7 L103.2,81.2Z" fill="url(#speck)"/>
<path d="M48.0,60.3 L50.9,57.4 L55.0,53.9 L58.5,50.9 L62.0,48.6 L65.0,47.4 L66.7,45.7 L69.1,43.9 L71.4,43.4 L72.0,45.1 L69.6,47.4 L70.2,49.2 L73.1,48.6 L72.6,50.4 L69.1,50.4 L67.3,52.1 L67.9,55.0 L66.7,58.5 L67.9,64.4 L68.5,70.2 L66.7,74.9 L66.1,78.4 L63.2,80.7 L62.0,83.6 L58.5,84.2 L55.0,83.6 L51.5,83.6 L48.6,84.2 L47.4,80.7 L45.1,77.2 L45.1,71.4 L46.3,66.7 L47.4,63.2Z" fill="#50D890" stroke="#50D890" stroke-width="2.2" stroke-linecap="round" stroke-dasharray="0.01 2.3"/><path d="M48.0,60.3 L50.9,57.4 L55.0,53.9 L58.5,50.9 L62.0,48.6 L65.0,47.4 L66.7,45.7 L69.1,43.9 L71.4,43.4 L72.0,45.1 L69.6,47.4 L70.2,49.2 L73.1,48.6 L72.6,50.4 L69.1,50.4 L67.3,52.1 L67.9,55.0 L66.7,58.5 L67.9,64.4 L68.5,70.2 L66.7,74.9 L66.1,78.4 L63.2,80.7 L62.0,83.6 L58.5,84.2 L55.0,83.6 L51.5,83.6 L48.6,84.2 L47.4,80.7 L45.1,77.2 L45.1,71.4 L46.3,66.7 L47.4,63.2Z" fill="url(#speck)"/>
<path d="M105.5,118.5 L109.0,116.2 L112.5,115.0 L116.0,117.4 L119.5,119.7 L123.0,122.0 L127.7,126.7 L132.4,129.1 L134.7,131.4 L133.5,134.9 L130.0,137.2 L126.5,138.4 L123.0,139.6 L119.5,140.7 L117.2,143.1 L113.7,144.2 L110.2,144.2 L107.8,141.9 L106.7,138.4 L107.8,134.9 L109.0,131.4 L106.7,127.9 L106.1,124.4Z" fill="#50C828" stroke="#50C828" stroke-width="2.2" stroke-linecap="round" stroke-dasharray="0.01 2.3"/><path d="M105.5,118.5 L109.0,116.2 L112.5,115.0 L116.0,117.4 L119.5,119.7 L123.0,122.0 L127.7,126.7 L132.4,129.1 L134.7,131.4 L133.5,134.9 L130.0,137.2 L126.5,138.4 L123.0,139.6 L119.5,140.7 L117.2,143.1 L113.7,144.2 L110.2,144.2 L107.8,141.9 L106.7,138.4 L107.8,134.9 L109.0,131.4 L106.7,127.9 L106.1,124.4Z" fill="url(#speck)"/>
<path d="M137.4,165.4 L139.6,164.3 L142.5,164.7 L145.4,164.0 L147.6,162.2 L149.8,161.4 L152.7,162.2 L155.7,164.0 L157.8,166.2 L160.8,166.2 L162.2,168.4 L160.8,170.5 L157.8,170.5 L156.4,172.7 L155.7,176.4 L154.9,179.3 L153.5,180.8 L150.5,182.2 L147.6,182.2 L145.4,181.1 L143.2,180.0 L142.5,177.1 L141.8,174.2 L139.6,174.2 L137.4,172.7 L137.8,169.8 L137.4,167.6Z" fill="#E478F8" stroke="#E478F8" stroke-width="2.2" stroke-linecap="round" stroke-dasharray="0.01 2.3"/><path d="M137.4,165.4 L139.6,164.3 L142.5,164.7 L145.4,164.0 L147.6,162.2 L149.8,161.4 L152.7,162.2 L155.7,164.0 L157.8,166.2 L160.8,166.2 L162.2,168.4 L160.8,170.5 L157.8,170.5 L156.4,172.7 L155.7,176.4 L154.9,179.3 L153.5,180.8 L150.5,182.2 L147.6,182.2 L145.4,181.1 L143.2,180.0 L142.5,177.1 L141.8,174.2 L139.6,174.2 L137.4,172.7 L137.8,169.8 L137.4,167.6Z" fill="url(#speck)"/>
<path d="M140.7,161.8 L142.5,158.9 L144.7,157.8 L146.9,157.4 L148.7,158.1 L148.4,159.6 L146.2,159.2 L144.0,160.0 L142.2,162.5Z" fill="#E478F8" stroke="#E478F8" stroke-width="2.2" stroke-linecap="round" stroke-dasharray="0.01 2.3"/><path d="M140.7,161.8 L142.5,158.9 L144.7,157.8 L146.9,157.4 L148.7,158.1 L148.4,159.6 L146.2,159.2 L144.0,160.0 L142.2,162.5Z" fill="url(#speck)"/>
<path d="M135.2,174.2 L136.7,173.8 L139.2,174.9 L139.6,176.4 L137.4,176.4 L135.2,176.0Z" fill="#E478F8" stroke="#E478F8" stroke-width="2.2" stroke-linecap="round" stroke-dasharray="0.01 2.3"/><path d="M135.2,174.2 L136.7,173.8 L139.2,174.9 L139.6,176.4 L137.4,176.4 L135.2,176.0Z" fill="url(#speck)"/>
<path d="M99.7,145.4 L102.0,143.6 L106.7,143.1 L111.4,144.2 L116.0,145.4 L119.5,147.2 L120.7,151.2 L119.5,154.7 L117.2,157.7 L113.7,159.4 L109.0,160.0 L104.3,159.4 L100.8,157.7 L99.1,153.6 L98.5,148.9Z" fill="#50C828" stroke="#50C828" stroke-width="2.2" stroke-linecap="round" stroke-dasharray="0.01 2.3"/><path d="M99.7,145.4 L102.0,143.6 L106.7,143.1 L111.4,144.2 L116.0,145.4 L119.5,147.2 L120.7,151.2 L119.5,154.7 L117.2,157.7 L113.7,159.4 L109.0,160.0 L104.3,159.4 L100.8,157.7 L99.1,153.6 L98.5,148.9Z" fill="url(#speck)"/>
<path d="M79.0,31.1 L81.9,29.3 L85.4,28.8 L90.1,28.2 L94.7,27.6 L100.0,27.2 L93.5,28.2 L97.0,29.9 L100.5,32.8 L104.0,36.4 L107.5,40.4 L108.7,42.2 L106.4,43.4 L104.0,45.1 L101.1,46.3 L98.2,46.3 L95.3,43.4 L92.3,41.6 L94.7,43.4 L90.1,38.7 L85.4,36.4 L81.9,35.8 L79.0,34.0Z" fill="#50D890" stroke="#50D890" stroke-width="2.2" stroke-linecap="round" stroke-dasharray="0.01 2.3"/><path d="M79.0,31.1 L81.9,29.3 L85.4,28.8 L90.1,28.2 L94.7,27.6 L100.0,27.2 L93.5,28.2 L97.0,29.9 L100.5,32.8 L104.0,36.4 L107.5,40.4 L108.7,42.2 L106.4,43.4 L104.0,45.1 L101.1,46.3 L98.2,46.3 L95.3,43.4 L92.3,41.6 L94.7,43.4 L90.1,38.7 L85.4,36.4 L81.9,35.8 L79.0,34.0Z" fill="url(#speck)"/>
<path d="M153.8,129.0 L156.6,127.2 L159.3,126.1 L161.9,125.2 L164.5,123.7 L166.3,121.7 L167.2,118.9 L169.8,117.2 L172.4,116.3 L175.0,115.8 L176.8,114.5 L177.5,111.9 L179.0,111.5 L179.9,114.5 L182.0,115.4 L184.7,116.3 L186.4,118.0 L187.7,120.7 L187.3,123.3 L184.7,124.6 L182.0,125.0 L179.4,125.0 L176.8,125.5 L174.2,125.9 L171.5,125.9 L168.0,125.2 L166.3,126.1 L164.5,127.2 L162.3,128.5 L159.7,129.6 L157.1,130.5 L154.9,131.3 L153.8,130.5Z" fill="#F068D0" stroke="#F068D0" stroke-width="2.2" stroke-linecap="round" stroke-dasharray="0.01 2.3"/><path d="M153.8,129.0 L156.6,127.2 L159.3,126.1 L161.9,125.2 L164.5,123.7 L166.3,121.7 L167.2,118.9 L169.8,117.2 L172.4,116.3 L175.0,115.8 L176.8,114.5 L177.5,111.9 L179.0,111.5 L179.9,114.5 L182.0,115.4 L184.7,116.3 L186.4,118.0 L187.7,120.7 L187.3,123.3 L184.7,124.6 L182.0,125.0 L179.4,125.0 L176.8,125.5 L174.2,125.9 L171.5,125.9 L168.0,125.2 L166.3,126.1 L164.5,127.2 L162.3,128.5 L159.7,129.6 L157.1,130.5 L154.9,131.3 L153.8,130.5Z" fill="url(#speck)"/>
<path d="M153.8,129.0 L156.6,127.2 L159.3,126.1 L161.9,125.2 L164.5,123.7 L166.3,121.7 L167.3,124.2 L166.3,126.1 L164.5,127.2 L162.3,128.5 L159.7,129.6 L157.1,130.5 L154.9,131.3 L153.8,130.5Z" fill="#58B8F8" stroke="#58B8F8" stroke-width="2.2" stroke-linecap="round" stroke-dasharray="0.01 2.3"/><path d="M153.8,129.0 L156.6,127.2 L159.3,126.1 L161.9,125.2 L164.5,123.7 L166.3,121.7 L167.3,124.2 L166.3,126.1 L164.5,127.2 L162.3,128.5 L159.7,129.6 L157.1,130.5 L154.9,131.3 L153.8,130.5Z" fill="url(#speck)"/>
<path d="M140.0,106.6 L143.5,105.8 L145.3,104.9 L147.0,102.3 L147.9,98.8 L148.8,97.0 L150.5,97.9 L152.3,99.6 L154.9,99.6 L156.6,100.5 L157.5,102.3 L155.8,104.0 L154.0,107.5 L153.1,111.0 L152.3,114.5 L153.1,118.0 L153.1,120.7 L151.4,123.3 L148.8,124.2 L146.1,125.0 L144.8,126.8 L143.5,125.0 L142.6,122.4 L143.5,119.8 L143.5,118.0 L142.6,116.3 L140.0,115.0 L139.4,113.3 L138.8,109.2Z" fill="#58B8F8" stroke="#58B8F8" stroke-width="2.2" stroke-linecap="round" stroke-dasharray="0.01 2.3"/><path d="M140.0,106.6 L143.5,105.8 L145.3,104.9 L147.0,102.3 L147.9,98.8 L148.8,97.0 L150.5,97.9 L152.3,99.6 L154.9,99.6 L156.6,100.5 L157.5,102.3 L155.8,104.0 L154.0,107.5 L153.1,111.0 L152.3,114.5 L153.1,118.0 L153.1,120.7 L151.4,123.3 L148.8,124.2 L146.1,125.0 L144.8,126.8 L143.5,125.0 L142.6,122.4 L143.5,119.8 L143.5,118.0 L142.6,116.3 L140.0,115.0 L139.4,113.3 L138.8,109.2Z" fill="url(#speck)"/>
<path d="M147.0,102.3 L147.9,98.8 L148.8,97.0 L150.5,97.9 L152.3,99.6 L154.9,99.6 L156.6,100.5 L157.5,102.3 L155.8,104.0 L154.0,107.5 L151.4,107.5 L148.8,104.9Z" fill="#F068D0" stroke="#F068D0" stroke-width="2.2" stroke-linecap="round" stroke-dasharray="0.01 2.3"/><path d="M147.0,102.3 L147.9,98.8 L148.8,97.0 L150.5,97.9 L152.3,99.6 L154.9,99.6 L156.6,100.5 L157.5,102.3 L155.8,104.0 L154.0,107.5 L151.4,107.5 L148.8,104.9Z" fill="url(#speck)"/>
<path d="M80.5,78.4 L81.7,76.0 L84.0,74.3 L86.4,73.7 L89.3,74.3 L90.4,77.2 L90.1,80.7 L90.4,84.2 L89.3,86.5 L87.5,87.7 L85.2,87.7 L83.4,85.9 L82.3,84.2 L80.5,81.9Z" fill="#EE6E6E" stroke="#EE6E6E" stroke-width="2.2" stroke-linecap="round" stroke-dasharray="0.01 2.3"/><path d="M80.5,78.4 L81.7,76.0 L84.0,74.3 L86.4,73.7 L89.3,74.3 L90.4,77.2 L90.1,80.7 L90.4,84.2 L89.3,86.5 L87.5,87.7 L85.2,87.7 L83.4,85.9 L82.3,84.2 L80.5,81.9Z" fill="url(#speck)"/>
<path d="M92.8,66.7 L93.4,64.3 L95.1,64.3 L95.7,66.4 L96.9,67.3 L99.2,68.4 L100.9,70.2 L102.7,71.6 L101.5,73.1 L100.4,74.9 L99.2,76.6 L97.4,77.2 L95.7,76.6 L95.1,74.9 L93.9,72.5 L93.1,70.2Z" fill="#58B8F8" stroke="#58B8F8" stroke-width="2.2" stroke-linecap="round" stroke-dasharray="0.01 2.3"/><path d="M92.8,66.7 L93.4,64.3 L95.1,64.3 L95.7,66.4 L96.9,67.3 L99.2,68.4 L100.9,70.2 L102.7,71.6 L101.5,73.1 L100.4,74.9 L99.2,76.6 L97.4,77.2 L95.7,76.6 L95.1,74.9 L93.9,72.5 L93.1,70.2Z" fill="url(#speck)"/>
<path d="M25.8,92.4 L28.8,90.1 L32.3,88.3 L35.8,87.5 L39.3,87.7 L43.4,88.3 L46.9,88.9 L49.8,90.1 L50.9,93.0 L49.2,95.9 L45.1,96.5 L41.6,97.1 L37.5,97.1 L32.8,97.1 L28.8,96.5 L25.8,94.7Z" fill="#50C828" stroke="#50C828" stroke-width="2.2" stroke-linecap="round" stroke-dasharray="0.01 2.3"/><path d="M25.8,92.4 L28.8,90.1 L32.3,88.3 L35.8,87.5 L39.3,87.7 L43.4,88.3 L46.9,88.9 L49.8,90.1 L50.9,93.0 L49.2,95.9 L45.1,96.5 L41.6,97.1 L37.5,97.1 L32.8,97.1 L28.8,96.5 L25.8,94.7Z" fill="url(#speck)"/>
<path d="M54.5,28.8 L57.4,26.4 L60.3,24.7 L63.2,25.8 L66.7,27.0 L70.2,28.2 L71.4,31.7 L69.6,34.0 L66.7,34.6 L63.2,33.4 L60.3,35.8 L56.8,34.6 L54.5,31.7Z" fill="#F068D0" stroke="#F068D0" stroke-width="2.2" stroke-linecap="round" stroke-dasharray="0.01 2.3"/><path d="M54.5,28.8 L57.4,26.4 L60.3,24.7 L63.2,25.8 L66.7,27.0 L70.2,28.2 L71.4,31.7 L69.6,34.0 L66.7,34.6 L63.2,33.4 L60.3,35.8 L56.8,34.6 L54.5,31.7Z" fill="url(#speck)"/>
<path d="M77.2,46.9 L79.6,45.1 L82.5,45.7 L84.8,48.0 L87.2,50.4 L85.4,52.1 L83.1,51.5 L80.7,49.8 L77.8,48.6Z" fill="#F068D0" stroke="#F068D0" stroke-width="2.2" stroke-linecap="round" stroke-dasharray="0.01 2.3"/><path d="M77.2,46.9 L79.6,45.1 L82.5,45.7 L84.8,48.0 L87.2,50.4 L85.4,52.1 L83.1,51.5 L80.7,49.8 L77.8,48.6Z" fill="url(#speck)"/>
<path d="M65.1,83.5 L68.0,84.7 L70.9,88.8 L73.9,88.2 L77.4,89.3 L80.9,90.5 L82.6,92.8 L80.3,96.4 L78.5,98.7 L75.6,99.3 L73.9,97.5 L70.4,93.4 L68.0,90.5 L66.3,87.0Z" fill="#A8A830" stroke="#A8A830" stroke-width="2.2" stroke-linecap="round" stroke-dasharray="0.01 2.3"/><path d="M65.1,83.5 L68.0,84.7 L70.9,88.8 L73.9,88.2 L77.4,89.3 L80.9,90.5 L82.6,92.8 L80.3,96.4 L78.5,98.7 L75.6,99.3 L73.9,97.5 L70.4,93.4 L68.0,90.5 L66.3,87.0Z" fill="url(#speck)"/>
<path d="M108.7,49.2 L111.6,46.9 L115.1,46.3 L118.6,48.0 L120.4,50.4 L118.0,53.9 L118.6,56.2 L117.4,59.7 L115.1,59.1 L112.8,56.2 L109.3,55.0 L108.1,52.7Z" fill="#D4902A" stroke="#D4902A" stroke-width="2.2" stroke-linecap="round" stroke-dasharray="0.01 2.3"/><path d="M108.7,49.2 L111.6,46.9 L115.1,46.3 L118.6,48.0 L120.4,50.4 L118.0,53.9 L118.6,56.2 L117.4,59.7 L115.1,59.1 L112.8,56.2 L109.3,55.0 L108.1,52.7Z" fill="url(#speck)"/>
<path d="M172.4,100.5 L175.0,98.8 L176.8,97.0 L179.0,96.6 L180.3,98.8 L181.2,101.4 L179.6,104.5 L179.2,107.5 L179.2,111.0 L177.8,111.0 L177.6,107.5 L176.8,104.9 L174.6,103.1 L172.8,101.8Z" fill="#F068D0" stroke="#F068D0" stroke-width="2.2" stroke-linecap="round" stroke-dasharray="0.01 2.3"/><path d="M172.4,100.5 L175.0,98.8 L176.8,97.0 L179.0,96.6 L180.3,98.8 L181.2,101.4 L179.6,104.5 L179.2,107.5 L179.2,111.0 L177.8,111.0 L177.6,107.5 L176.8,104.9 L174.6,103.1 L172.8,101.8Z" fill="url(#speck)"/>
<path d="M77.0,68.7 L78.8,67.0 L80.5,65.5 L82.6,64.3 L84.6,64.6 L84.3,66.1 L82.3,67.0 L80.2,68.1 L78.2,69.6Z" fill="#50D890" stroke="#50D890" stroke-width="2.2" stroke-linecap="round" stroke-dasharray="0.01 2.3"/><path d="M77.0,68.7 L78.8,67.0 L80.5,65.5 L82.6,64.3 L84.6,64.6 L84.3,66.1 L82.3,67.0 L80.2,68.1 L78.2,69.6Z" fill="url(#speck)"/>
<path d="M143.9,46.7h0M149.0,41.2h0M152.0,38.6h0M155.1,39.9h0M159.9,39.2h0M163.5,39.9h0M164.7,41.4h0M174.1,39.0h0M174.8,42.0h0M176.0,37.7h0M178.9,41.8h0M183.9,45.2h0M188.7,48.7h0M187.7,50.6h0M186.8,53.5h0M191.1,57.8h0M192.2,59.8h0M191.1,61.3h0M192.0,62.8h0M187.8,66.6h0M184.0,64.0h0M180.9,69.8h0M177.7,73.4h0M175.6,79.1h0M175.2,81.8h0M172.6,82.5h0M171.8,80.6h0M166.8,81.1h0M167.0,80.6h0M162.5,77.4h0M159.6,73.6h0M155.1,73.2h0M151.6,73.5h0M149.2,69.5h0M146.9,69.8h0M145.2,66.2h0M147.3,61.6h0M144.2,56.2h0M144.1,51.1h0M142.8,48.6h0" stroke="#E478F8" stroke-width="1.7" stroke-linecap="round" fill="none"/>
<path d="M121.4,55.4h0M125.8,51.5h0M126.2,50.6h0M133.3,51.3h0M134.5,49.1h0M139.5,52.4h0M140.1,53.2h0M141.2,56.2h0M138.9,56.9h0M140.0,66.6h0M142.4,66.6h0M146.2,72.2h0M150.4,73.9h0M154.9,77.8h0M156.2,77.5h0M157.8,80.5h0M157.4,86.6h0M155.6,87.6h0M152.7,86.7h0M147.8,93.2h0M147.1,91.7h0M138.9,91.9h0M138.7,90.7h0M134.7,87.8h0M134.6,83.0h0M135.1,82.1h0M132.6,74.5h0M130.2,74.8h0M125.8,74.0h0M122.6,68.9h0M120.1,68.7h0M120.1,61.2h0M119.2,61.8h0" stroke="#E478F8" stroke-width="1.7" stroke-linecap="round" fill="none"/>
<path d="M120.5,42.6h0M124.8,40.0h0M127.3,38.6h0M129.3,40.0h0M131.0,41.5h0M131.4,38.5h0M128.6,39.4h0M125.5,39.3h0M122.8,39.9h0M120.4,41.7h0" stroke="#50D890" stroke-width="1.7" stroke-linecap="round" fill="none"/>
<path d="M53.3,116.2h0M53.9,113.6h0M57.4,110.8h0M62.5,108.7h0M62.9,107.8h0M64.9,104.4h0M69.5,103.5h0M76.7,104.5h0M79.4,102.6h0M81.8,102.7h0M86.0,106.1h0M89.1,99.5h0M93.0,100.5h0M92.0,98.2h0M93.0,97.9h0M95.9,102.1h0M98.6,106.3h0M99.2,108.0h0M99.3,114.3h0M105.8,113.0h0M106.6,114.1h0M105.4,117.1h0M106.8,118.4h0M99.4,123.5h0M99.4,129.9h0M96.7,132.6h0M95.0,136.5h0M92.1,139.5h0M87.0,139.4h0M85.1,141.3h0M85.4,141.4h0M81.9,140.8h0M74.8,140.5h0M73.2,140.3h0M73.7,136.0h0M67.1,134.4h0M61.1,127.9h0M60.9,129.3h0M58.1,126.0h0M55.3,124.3h0M54.0,121.3h0" stroke="#50C828" stroke-width="1.7" stroke-linecap="round" fill="none"/>
<path d="M57.3,93.3h0M54.2,89.8h0M55.9,94.3h0M54.3,93.4h0M56.5,93.3h0M54.7,90.7h0" stroke="#50C828" stroke-width="1.7" stroke-linecap="round" fill="none"/>
<path d="M106.2,78.9h0M108.4,77.1h0M109.1,73.9h0M110.8,72.0h0M110.2,72.0h0M111.4,75.2h0M113.1,81.1h0M112.2,85.5h0M116.7,88.9h0M123.3,92.1h0M125.1,95.6h0M125.3,99.9h0M128.8,99.1h0M129.4,102.9h0M131.0,106.9h0M133.0,112.3h0M136.1,108.0h0M133.6,109.2h0M127.9,107.2h0M123.6,107.4h0M123.4,105.0h0M116.9,103.8h0M114.4,100.2h0M111.7,102.6h0M112.3,98.5h0M108.8,93.6h0M107.5,88.4h0M107.6,89.3h0M105.5,87.3h0M104.4,84.1h0M104.1,77.6h0" stroke="#58B8F8" stroke-width="1.7" stroke-linecap="round" fill="none"/>
<path d="M52.3,60.4h0M56.9,56.5h0M60.1,54.3h0M63.0,50.2h0M64.9,50.3h0M66.2,47.8h0M67.9,46.0h0M70.7,47.2h0M69.2,44.9h0M69.9,43.5h0M67.7,48.9h0M71.9,50.1h0M71.7,48.4h0M71.4,46.7h0M68.0,49.8h0M62.6,55.6h0M65.0,57.8h0M65.8,61.1h0M65.8,67.7h0M65.9,73.9h0M64.3,76.6h0M64.6,76.9h0M60.0,81.9h0M59.5,80.4h0M55.8,82.7h0M54.2,81.0h0M49.2,81.5h0M51.9,81.9h0M48.8,79.3h0M46.2,74.7h0M48.5,70.9h0M48.0,65.4h0M49.0,61.7h0" stroke="#50D890" stroke-width="1.7" stroke-linecap="round" fill="none"/>
<path d="M108.1,120.6h0M111.8,116.9h0M110.1,119.7h0M115.5,120.0h0M121.8,123.1h0M121.8,125.0h0M125.3,126.7h0M127.2,128.7h0M131.8,130.4h0M130.7,131.7h0M130.6,135.1h0M128.1,134.9h0M122.3,134.3h0M121.3,137.9h0M116.0,140.0h0M112.8,139.2h0M111.3,142.2h0M111.5,139.2h0M109.6,140.0h0M109.0,137.0h0M111.6,133.3h0M108.2,127.0h0M108.5,124.9h0M108.8,122.6h0" stroke="#50C828" stroke-width="1.7" stroke-linecap="round" fill="none"/>
<path d="M140.2,170.3h0M140.6,165.7h0M143.1,165.9h0M148.1,163.4h0M150.7,164.6h0M149.7,165.7h0M153.3,165.3h0M153.8,166.0h0M159.2,168.7h0M159.2,170.3h0M158.5,168.3h0M157.9,167.6h0M155.1,171.5h0M153.9,175.8h0M152.6,177.6h0M153.2,178.1h0M152.2,178.4h0M148.1,180.2h0M148.3,180.0h0M144.1,178.9h0M148.0,178.6h0M144.2,176.3h0M140.9,171.6h0M139.5,172.0h0M138.8,171.8h0M142.3,167.8h0M140.4,166.7h0" stroke="#E478F8" stroke-width="1.7" stroke-linecap="round" fill="none"/>
<path d="M143.0,162.1h0M144.1,161.5h0M146.4,160.2h0M146.7,160.4h0M143.2,157.0h0M147.3,158.5h0M145.0,156.9h0M140.8,160.1h0M142.9,157.3h0" stroke="#E478F8" stroke-width="1.7" stroke-linecap="round" fill="none"/>
<path d="M137.3,176.5h0M136.7,175.4h0M137.7,176.2h0M138.9,173.6h0M135.8,173.8h0M137.4,175.1h0" stroke="#E478F8" stroke-width="1.7" stroke-linecap="round" fill="none"/>
<path d="M103.4,146.4h0M104.6,145.6h0M107.0,145.0h0M112.0,146.2h0M116.8,147.3h0M116.5,151.2h0M117.3,153.2h0M117.6,154.3h0M113.7,158.2h0M113.1,158.2h0M108.6,154.1h0M105.3,157.3h0M103.8,151.8h0M100.6,149.9h0M101.8,146.7h0" stroke="#50C828" stroke-width="1.7" stroke-linecap="round" fill="none"/>
<path d="M81.6,32.2h0M85.2,34.1h0M86.4,30.5h0M92.5,33.1h0M97.3,28.8h0M95.6,24.3h0M96.7,25.4h0M93.3,30.8h0M96.2,33.1h0M98.7,38.7h0M102.4,38.2h0M105.8,42.8h0M106.3,41.1h0M105.3,42.7h0M100.7,42.5h0M100.3,43.4h0M99.3,44.2h0M96.1,40.8h0M92.6,44.4h0M95.7,41.5h0M93.0,40.3h0M88.7,35.3h0M82.4,34.1h0M82.2,33.1h0M81.2,31.5h0" stroke="#50D890" stroke-width="1.7" stroke-linecap="round" fill="none"/>
<path d="M156.7,133.3h0M157.2,128.5h0M162.8,129.0h0M164.2,125.6h0M166.7,124.1h0M168.0,119.3h0M171.0,122.7h0M172.1,118.9h0M173.1,117.7h0M175.9,116.3h0M179.8,114.8h0M179.5,117.0h0M175.7,112.9h0M180.5,115.9h0M182.7,119.1h0M183.7,118.4h0M185.7,118.9h0M185.0,122.7h0M184.3,123.4h0M182.1,119.2h0M180.0,123.4h0M176.9,122.5h0M174.4,123.5h0M173.6,123.3h0M169.3,124.2h0M166.6,124.1h0M163.4,123.0h0M161.5,124.4h0M159.9,126.5h0M156.8,128.1h0M154.9,126.5h0M157.4,127.7h0M157.7,129.6h0" stroke="#F068D0" stroke-width="1.7" stroke-linecap="round" fill="none"/>
<path d="M155.8,130.6h0M157.7,128.0h0M162.3,126.7h0M164.9,130.1h0M167.5,125.1h0M166.2,124.3h0M163.1,123.7h0M162.8,122.1h0M161.8,127.3h0M157.8,124.3h0M157.8,126.9h0M154.7,130.4h0M155.6,130.1h0M157.0,130.2h0" stroke="#58B8F8" stroke-width="1.7" stroke-linecap="round" fill="none"/>
<path d="M143.4,106.9h0M145.0,108.2h0M148.9,103.6h0M149.7,100.4h0M150.6,99.8h0M147.8,102.4h0M149.5,101.0h0M153.7,105.0h0M155.1,102.8h0M155.2,102.2h0M152.4,99.3h0M153.3,105.9h0M151.6,110.1h0M150.0,113.4h0M149.4,115.9h0M148.4,119.6h0M150.6,121.7h0M148.0,121.2h0M147.2,122.5h0M144.6,125.5h0M144.9,125.1h0M148.1,120.7h0M146.8,122.9h0M146.6,118.4h0M144.5,117.2h0M142.1,113.3h0M144.7,111.7h0M141.0,110.2h0M141.1,109.5h0" stroke="#58B8F8" stroke-width="1.7" stroke-linecap="round" fill="none"/>
<path d="M150.2,100.0h0M150.2,99.9h0M149.0,98.7h0M149.2,100.6h0M153.8,101.2h0M155.8,101.1h0M154.6,102.7h0M155.6,101.8h0M153.2,104.9h0M153.5,106.1h0M150.8,104.4h0M149.5,102.8h0" stroke="#F068D0" stroke-width="1.7" stroke-linecap="round" fill="none"/>
<path d="M82.4,78.6h0M82.7,76.6h0M85.6,75.6h0M88.1,77.2h0M88.2,76.2h0M87.8,78.5h0M88.0,83.1h0M87.5,85.4h0M85.7,84.7h0M87.3,82.8h0M86.3,86.5h0M84.2,84.4h0M85.4,79.8h0M82.0,78.6h0" stroke="#EE6E6E" stroke-width="1.7" stroke-linecap="round" fill="none"/>
<path d="M94.2,65.3h0M94.0,65.9h0M93.7,66.7h0M95.2,68.6h0M97.9,70.0h0M98.4,69.2h0M99.8,74.6h0M99.6,71.0h0M97.4,70.5h0M97.8,75.3h0M98.1,73.9h0M97.1,74.3h0M98.5,75.5h0M96.5,71.5h0M96.3,71.1h0M95.9,69.0h0" stroke="#58B8F8" stroke-width="1.7" stroke-linecap="round" fill="none"/>
<path d="M30.2,92.3h0M32.7,93.3h0M34.2,89.7h0M38.9,91.5h0M42.3,90.4h0M44.5,90.4h0M48.4,91.3h0M47.1,91.6h0M48.5,93.6h0M48.3,92.9h0M43.3,93.7h0M39.2,96.1h0M36.7,95.9h0M32.5,95.1h0M28.7,94.1h0M29.5,94.2h0" stroke="#50C828" stroke-width="1.7" stroke-linecap="round" fill="none"/>
<path d="M57.9,30.0h0M60.8,27.9h0M60.1,26.0h0M63.3,28.6h0M69.5,29.6h0M69.1,29.0h0M69.6,32.2h0M68.0,29.1h0M67.8,30.4h0M58.9,30.4h0M59.4,33.3h0M55.6,31.5h0M55.9,31.6h0" stroke="#F068D0" stroke-width="1.7" stroke-linecap="round" fill="none"/>
<path d="M78.5,48.1h0M81.8,47.7h0M82.7,49.9h0M83.6,51.2h0M83.8,49.8h0M86.0,49.3h0M82.1,49.1h0M80.1,48.4h0M79.2,46.3h0" stroke="#F068D0" stroke-width="1.7" stroke-linecap="round" fill="none"/>
<path d="M66.0,85.5h0M68.6,90.0h0M73.3,93.6h0M75.4,90.7h0M80.2,92.1h0M80.7,92.9h0M79.4,94.6h0M77.1,97.5h0M77.9,96.8h0M78.6,95.3h0M75.2,92.6h0M69.4,89.5h0M71.5,86.8h0M70.3,85.6h0" stroke="#A8A830" stroke-width="1.7" stroke-linecap="round" fill="none"/>
<path d="M109.9,50.5h0M112.5,49.9h0M115.7,49.8h0M117.6,49.4h0M118.3,50.2h0M117.1,54.3h0M115.4,56.4h0M117.9,57.0h0M118.7,56.1h0M113.5,50.9h0M112.1,52.6h0M111.2,51.0h0" stroke="#D4902A" stroke-width="1.7" stroke-linecap="round" fill="none"/>
<path d="M175.6,99.8h0M178.6,99.0h0M177.5,100.1h0M178.4,99.4h0M179.7,100.2h0M179.5,101.8h0M177.8,106.9h0M176.2,108.8h0M178.5,107.8h0M179.8,110.5h0M178.8,105.0h0M178.2,102.6h0M174.2,100.3h0M174.2,100.2h0" stroke="#F068D0" stroke-width="1.7" stroke-linecap="round" fill="none"/>
<path d="M80.5,69.1h0M80.3,67.8h0M82.2,65.5h0M83.7,66.5h0M81.8,65.3h0M83.2,65.2h0M79.8,64.9h0M78.4,66.8h0M80.6,65.3h0" stroke="#50D890" stroke-width="1.7" stroke-linecap="round" fill="none"/>
</g>
<path d="M326.0,71.0 L330.0,75.0 L333.0,80.0 L335.0,85.0 L338.0,89.0 L342.0,93.0 L346.0,96.0 L350.0,99.0 L353.0,103.0 L355.0,106.0" stroke="#C47CF8" stroke-width="2.6" fill="none" stroke-linecap="round" stroke-dasharray="3 1.6"/>
<circle cx="255.5" cy="28.5" r="1.3" fill="#C47CF8"/>
<circle cx="257.0" cy="31.0" r="1.3" fill="#C47CF8"/>
<circle cx="259.0" cy="33.5" r="1.3" fill="#C47CF8"/>
<circle cx="262.0" cy="32.0" r="1.3" fill="#C47CF8"/>
<circle cx="256.5" cy="26.0" r="1.3" fill="#C47CF8"/>
<circle cx="260.0" cy="29.5" r="1.3" fill="#C47CF8"/>
<circle cx="340.5" cy="50.0" r="1.0" fill="#3CC8C0"/>
<circle cx="343.0" cy="58.0" r="1.0" fill="#3CC8C0"/>
<circle cx="348.0" cy="63.0" r="1.0" fill="#3CC8C0"/>
<circle cx="352.0" cy="69.0" r="1.0" fill="#3CC8C0"/>
<circle cx="358.0" cy="62.0" r="1.0" fill="#3CC8C0"/>
<circle cx="361.0" cy="79.0" r="1.0" fill="#3CC8C0"/>
<circle cx="366.0" cy="82.0" r="1.0" fill="#3CC8C0"/>
<text x="68.60" y="34.10" font-size="11.5" text-anchor="middle" fill="#111" >13</text>
<text x="96.40" y="38.50" font-size="11.5" text-anchor="middle" fill="#111" >8</text>
<text x="117.40" y="53.60" font-size="11.5" text-anchor="middle" fill="#111" >15</text>
<text x="169.30" y="59.50" font-size="11.5" text-anchor="middle" fill="#111" >1</text>
<text x="59.90" y="69.70" font-size="11.5" text-anchor="middle" fill="#111" >4</text>
<text x="84.70" y="66.80" font-size="11.5" text-anchor="middle" fill="#111" >17</text>
<text x="136.60" y="72.60" font-size="11.5" text-anchor="middle" fill="#111" >2</text>
<text x="90.50" y="80.50" font-size="11.5" text-anchor="middle" fill="#111" >11</text>
<text x="116.20" y="94.50" font-size="11.5" text-anchor="middle" fill="#111" >3</text>
<text x="41.50" y="96.00" font-size="11.5" text-anchor="middle" fill="#111" >12</text>
<text x="77.40" y="95.10" font-size="11.5" text-anchor="middle" fill="#111" >14</text>
<text x="181.60" y="103.90" font-size="11.5" text-anchor="middle" fill="#111" >16</text>
<text x="152.40" y="113.50" font-size="11.5" text-anchor="middle" fill="#111" >10</text>
<text x="82.30" y="122.20" font-size="11.5" text-anchor="middle" fill="#111" >0</text>
<text x="176.60" y="123.10" font-size="11.5" text-anchor="middle" fill="#111" >9</text>
<text x="119.70" y="132.50" font-size="11.5" text-anchor="middle" fill="#111" >5</text>
<text x="109.50" y="154.40" font-size="11.5" text-anchor="middle" fill="#111" >7</text>
<text x="149.50" y="171.90" font-size="11.5" text-anchor="middle" fill="#111" >6</text>
<text x="357.90" y="64.40" font-size="11" text-anchor="middle" fill="#111" >ACC</text>
<text x="376.05" y="89.00" font-size="11" text-anchor="middle" fill="#111" >Normal</text>
<text x="275.65" y="124.90" font-size="11" text-anchor="middle" fill="#111" >IMT</text>
<text x="342.15" y="174.20" font-size="11" text-anchor="middle" fill="#111" >SCC</text>
<line x1="21.4" y1="182.2" x2="21.4" y2="131" stroke="#231815" stroke-width="1.3"/>
<path d="M21.4,127 L18.2,132.6 L24.6,132.6Z" fill="#231815"/>
<line x1="20.75" y1="182.2" x2="72" y2="182.2" stroke="#231815" stroke-width="1.3"/>
<path d="M76.6,182.2 L71,179 L71,185.4Z" fill="#231815"/>
<text x="21.60" y="197.10" font-size="11" text-anchor="start" font-weight="bold" fill="#231815" textLength="36.2" lengthAdjust="spacingAndGlyphs" >t-SNE1</text>
<text x="0" y="0" font-size="11" font-weight="bold" fill="#231815" textLength="36.8" lengthAdjust="spacingAndGlyphs" transform="translate(14.6,183.7) rotate(-90)">t-SNE2</text>
<line x1="221.4" y1="182.2" x2="221.4" y2="131" stroke="#231815" stroke-width="1.3"/>
<path d="M221.4,127 L218.2,132.6 L224.6,132.6Z" fill="#231815"/>
<line x1="220.75" y1="182.2" x2="272" y2="182.2" stroke="#231815" stroke-width="1.3"/>
<path d="M276.6,182.2 L271,179 L271,185.4Z" fill="#231815"/>
<text x="221.60" y="197.10" font-size="11" text-anchor="start" font-weight="bold" fill="#231815" textLength="36.2" lengthAdjust="spacingAndGlyphs" >t-SNE1</text>
<text x="0" y="0" font-size="11" font-weight="bold" fill="#231815" textLength="36.8" lengthAdjust="spacingAndGlyphs" transform="translate(214.6,183.7) rotate(-90)">t-SNE2</text>
<circle cx="602.7" cy="49.40" r="4" fill="#D4902A"/>
<text x="616.90" y="53.40" font-size="11" text-anchor="start" fill="#111" >CD4+Tex</text>
<circle cx="602.7" cy="63.84" r="4" fill="#A8A830"/>
<text x="616.90" y="67.84" font-size="11" text-anchor="start" fill="#111" >CD4+Tisg</text>
<circle cx="602.7" cy="78.28" r="4" fill="#50C828"/>
<text x="616.90" y="82.28" font-size="11" text-anchor="start" fill="#111" >CD4+Th</text>
<circle cx="602.7" cy="92.72" r="4" fill="#50D890"/>
<text x="616.90" y="96.72" font-size="11" text-anchor="start" fill="#111" >CD4+Tregs</text>
<circle cx="602.7" cy="107.16" r="4" fill="#58B8F8"/>
<text x="616.90" y="111.16" font-size="11" text-anchor="start" fill="#111" >CD8+Tef</text>
<circle cx="602.7" cy="121.60" r="4" fill="#E478F8"/>
<text x="616.90" y="125.60" font-size="11" text-anchor="start" fill="#111" >CD8+Tstr</text>
<circle cx="602.7" cy="136.04" r="4" fill="#F068D0"/>
<text x="616.90" y="140.04" font-size="11" text-anchor="start" fill="#111" >NK</text>
<circle cx="602.7" cy="150.48" r="4" fill="#EE6E6E"/>
<text x="616.90" y="154.48" font-size="11" text-anchor="start" fill="#111" >Other</text>
</svg></body></html>
